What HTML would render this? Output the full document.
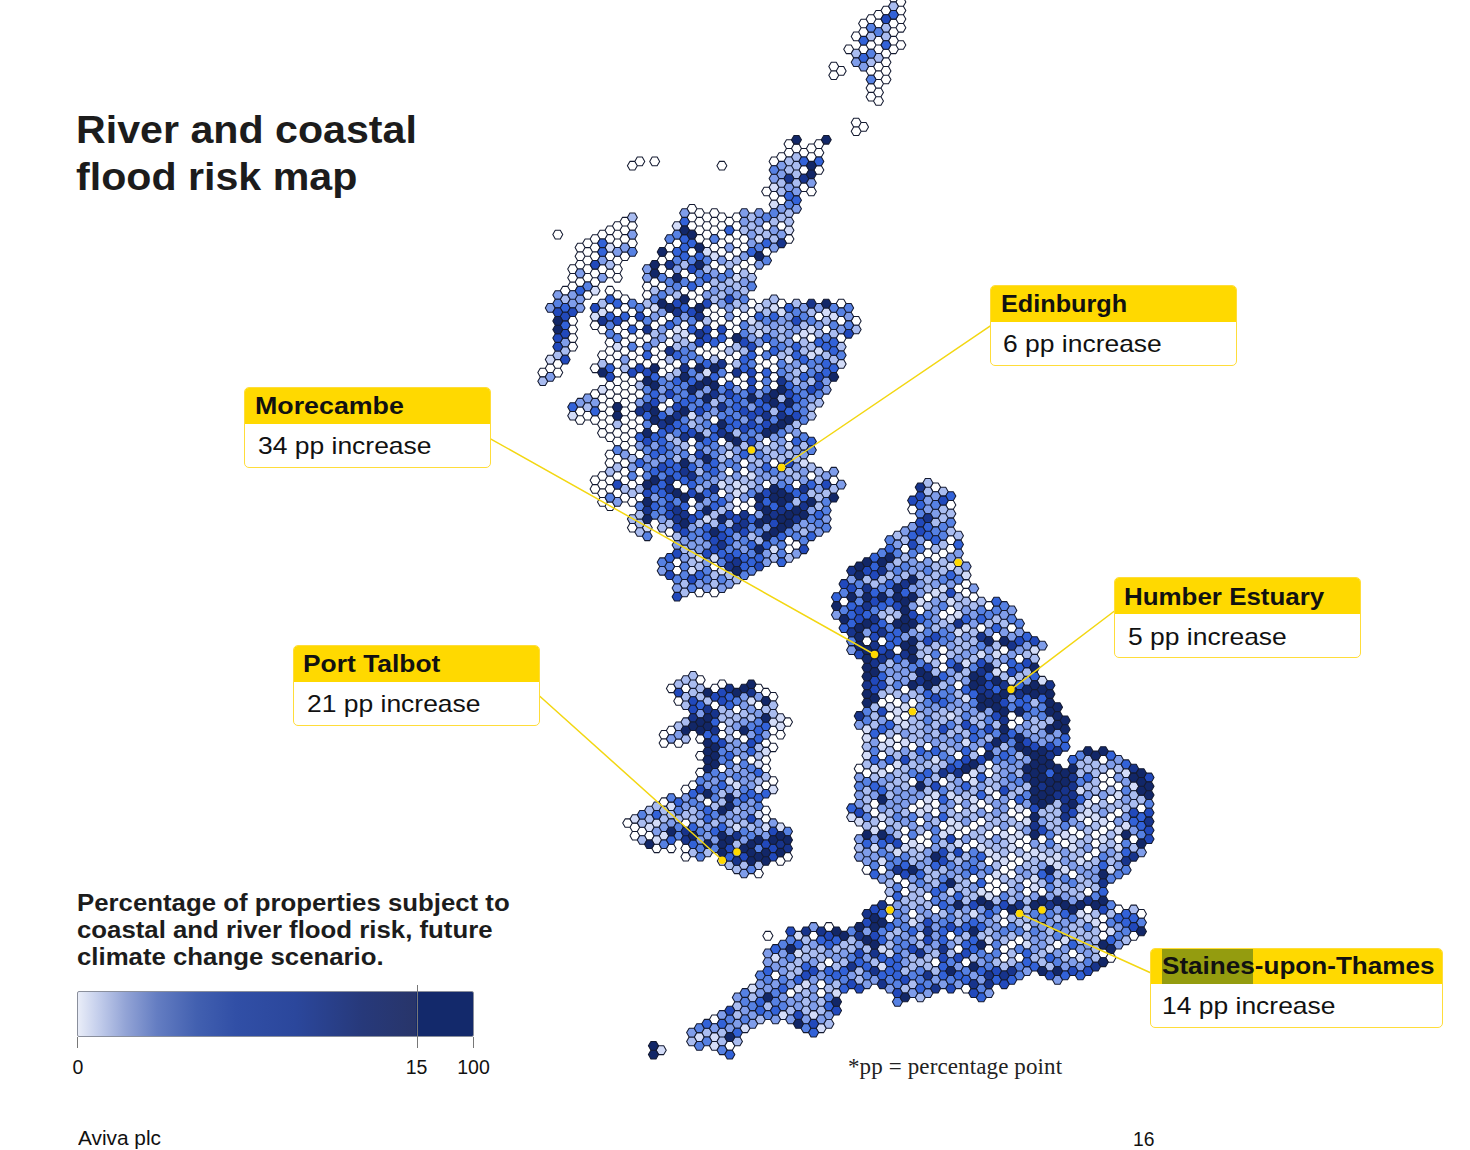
<!DOCTYPE html>
<html><head><meta charset="utf-8"><title>River and coastal flood risk map</title>
<style>
html,body{margin:0;padding:0;background:#fff;}
body{width:1470px;height:1150px;position:relative;overflow:hidden;font-family:"Liberation Sans",sans-serif;color:#1a1a1a;}
.abs{position:absolute;white-space:nowrap;}
#title{left:76.3px;top:105.6px;font-size:39.7px;font-weight:bold;line-height:47.15px;color:#1c1c1c;transform:scaleX(1.037);transform-origin:0 0;}
#legtxt{left:77px;top:889.7px;font-size:23px;font-weight:bold;line-height:27.1px;color:#1c1c1c;transform:scaleX(1.121);transform-origin:0 0;}
.box{position:absolute;box-sizing:border-box;border:1.5px solid #ffdd3a;border-radius:5px;background:#fff;overflow:hidden;}
.box .h{position:absolute;left:0;top:0;right:0;background:#ffd900;font-weight:bold;font-size:24px;color:#111;white-space:nowrap;}
.box .h span{position:absolute;transform-origin:0 0;}
.box .v{position:absolute;font-size:24px;color:#111;white-space:nowrap;transform:scaleX(1.102);transform-origin:0 0;}
.tick{position:absolute;font-size:19.5px;color:#111;transform:translateX(-50%);white-space:nowrap;}
svg{position:absolute;left:0;top:0;}
</style></head><body>
<svg id="map" width="1470" height="1150" viewBox="0 0 1470 1150">
<g stroke="#141a30" stroke-width="1.05" stroke-linejoin="round">
<path fill="#ffffff" d="M709.4 1019.4l2.54 -4.40h5.08l2.54 4.40l-2.54 4.40h-5.08zM724.7 1045.8l2.54 -4.40h5.08l2.54 4.40l-2.54 4.40h-5.08zM762.8 935.8l2.54 -4.40h5.08l2.54 4.40l-2.54 4.40h-5.08zM770.4 975.4l2.54 -4.40h5.08l2.54 4.40l-2.54 4.40h-5.08zM785.6 993.0l2.54 -4.40h5.08l2.54 4.40l-2.54 4.40h-5.08zM808.5 935.8l2.54 -4.40h5.08l2.54 4.40l-2.54 4.40h-5.08zM816.1 984.2l2.54 -4.40h5.08l2.54 4.40l-2.54 4.40h-5.08zM816.1 993.0l2.54 -4.40h5.08l2.54 4.40l-2.54 4.40h-5.08zM823.8 927.0l2.54 -4.40h5.08l2.54 4.40l-2.54 4.40h-5.08zM823.8 962.2l2.54 -4.40h5.08l2.54 4.40l-2.54 4.40h-5.08zM839.0 601.6l2.54 -4.40h5.08l2.54 4.40l-2.54 4.40h-5.08zM854.2 768.7l2.54 -4.40h5.08l2.54 4.40l-2.54 4.40h-5.08zM861.9 641.2l2.54 -4.40h5.08l2.54 4.40l-2.54 4.40h-5.08zM861.9 773.1l2.54 -4.40h5.08l2.54 4.40l-2.54 4.40h-5.08zM861.9 869.9l2.54 -4.40h5.08l2.54 4.40l-2.54 4.40h-5.08zM869.5 803.9l2.54 -4.40h5.08l2.54 4.40l-2.54 4.40h-5.08zM869.5 812.7l2.54 -4.40h5.08l2.54 4.40l-2.54 4.40h-5.08zM877.1 641.2l2.54 -4.40h5.08l2.54 4.40l-2.54 4.40h-5.08zM877.1 702.8l2.54 -4.40h5.08l2.54 4.40l-2.54 4.40h-5.08zM877.1 738.0l2.54 -4.40h5.08l2.54 4.40l-2.54 4.40h-5.08zM877.1 755.5l2.54 -4.40h5.08l2.54 4.40l-2.54 4.40h-5.08zM877.1 825.9l2.54 -4.40h5.08l2.54 4.40l-2.54 4.40h-5.08zM877.1 869.9l2.54 -4.40h5.08l2.54 4.40l-2.54 4.40h-5.08zM884.7 698.4l2.54 -4.40h5.08l2.54 4.40l-2.54 4.40h-5.08zM884.7 716.0l2.54 -4.40h5.08l2.54 4.40l-2.54 4.40h-5.08zM884.7 768.7l2.54 -4.40h5.08l2.54 4.40l-2.54 4.40h-5.08zM884.7 900.7l2.54 -4.40h5.08l2.54 4.40l-2.54 4.40h-5.08zM884.7 918.2l2.54 -4.40h5.08l2.54 4.40l-2.54 4.40h-5.08zM892.4 650.0l2.54 -4.40h5.08l2.54 4.40l-2.54 4.40h-5.08zM892.4 702.8l2.54 -4.40h5.08l2.54 4.40l-2.54 4.40h-5.08zM892.4 738.0l2.54 -4.40h5.08l2.54 4.40l-2.54 4.40h-5.08zM892.4 746.7l2.54 -4.40h5.08l2.54 4.40l-2.54 4.40h-5.08zM892.4 878.7l2.54 -4.40h5.08l2.54 4.40l-2.54 4.40h-5.08zM900.0 548.9l2.54 -4.40h5.08l2.54 4.40l-2.54 4.40h-5.08zM900.0 689.6l2.54 -4.40h5.08l2.54 4.40l-2.54 4.40h-5.08zM900.0 716.0l2.54 -4.40h5.08l2.54 4.40l-2.54 4.40h-5.08zM900.0 830.3l2.54 -4.40h5.08l2.54 4.40l-2.54 4.40h-5.08zM900.0 839.1l2.54 -4.40h5.08l2.54 4.40l-2.54 4.40h-5.08zM900.0 883.1l2.54 -4.40h5.08l2.54 4.40l-2.54 4.40h-5.08zM900.0 891.9l2.54 -4.40h5.08l2.54 4.40l-2.54 4.40h-5.08zM907.6 509.3l2.54 -4.40h5.08l2.54 4.40l-2.54 4.40h-5.08zM907.6 702.8l2.54 -4.40h5.08l2.54 4.40l-2.54 4.40h-5.08zM907.6 711.6l2.54 -4.40h5.08l2.54 4.40l-2.54 4.40h-5.08zM907.6 746.7l2.54 -4.40h5.08l2.54 4.40l-2.54 4.40h-5.08zM907.6 781.9l2.54 -4.40h5.08l2.54 4.40l-2.54 4.40h-5.08zM907.6 808.3l2.54 -4.40h5.08l2.54 4.40l-2.54 4.40h-5.08zM907.6 913.9l2.54 -4.40h5.08l2.54 4.40l-2.54 4.40h-5.08zM915.2 557.7l2.54 -4.40h5.08l2.54 4.40l-2.54 4.40h-5.08zM915.2 610.4l2.54 -4.40h5.08l2.54 4.40l-2.54 4.40h-5.08zM915.2 803.9l2.54 -4.40h5.08l2.54 4.40l-2.54 4.40h-5.08zM915.2 821.5l2.54 -4.40h5.08l2.54 4.40l-2.54 4.40h-5.08zM915.2 839.1l2.54 -4.40h5.08l2.54 4.40l-2.54 4.40h-5.08zM922.8 544.5l2.54 -4.40h5.08l2.54 4.40l-2.54 4.40h-5.08zM922.8 553.3l2.54 -4.40h5.08l2.54 4.40l-2.54 4.40h-5.08zM922.8 597.2l2.54 -4.40h5.08l2.54 4.40l-2.54 4.40h-5.08zM922.8 746.7l2.54 -4.40h5.08l2.54 4.40l-2.54 4.40h-5.08zM922.8 834.7l2.54 -4.40h5.08l2.54 4.40l-2.54 4.40h-5.08zM922.8 843.5l2.54 -4.40h5.08l2.54 4.40l-2.54 4.40h-5.08zM922.8 896.3l2.54 -4.40h5.08l2.54 4.40l-2.54 4.40h-5.08zM930.5 487.3l2.54 -4.40h5.08l2.54 4.40l-2.54 4.40h-5.08zM930.5 557.7l2.54 -4.40h5.08l2.54 4.40l-2.54 4.40h-5.08zM930.5 803.9l2.54 -4.40h5.08l2.54 4.40l-2.54 4.40h-5.08zM930.5 812.7l2.54 -4.40h5.08l2.54 4.40l-2.54 4.40h-5.08zM930.5 909.5l2.54 -4.40h5.08l2.54 4.40l-2.54 4.40h-5.08zM930.5 962.2l2.54 -4.40h5.08l2.54 4.40l-2.54 4.40h-5.08zM938.1 553.3l2.54 -4.40h5.08l2.54 4.40l-2.54 4.40h-5.08zM938.1 614.8l2.54 -4.40h5.08l2.54 4.40l-2.54 4.40h-5.08zM938.1 650.0l2.54 -4.40h5.08l2.54 4.40l-2.54 4.40h-5.08zM938.1 658.8l2.54 -4.40h5.08l2.54 4.40l-2.54 4.40h-5.08zM938.1 667.6l2.54 -4.40h5.08l2.54 4.40l-2.54 4.40h-5.08zM938.1 781.9l2.54 -4.40h5.08l2.54 4.40l-2.54 4.40h-5.08zM938.1 825.9l2.54 -4.40h5.08l2.54 4.40l-2.54 4.40h-5.08zM945.7 504.9l2.54 -4.40h5.08l2.54 4.40l-2.54 4.40h-5.08zM945.7 540.1l2.54 -4.40h5.08l2.54 4.40l-2.54 4.40h-5.08zM945.7 548.9l2.54 -4.40h5.08l2.54 4.40l-2.54 4.40h-5.08zM945.7 610.4l2.54 -4.40h5.08l2.54 4.40l-2.54 4.40h-5.08zM945.7 935.8l2.54 -4.40h5.08l2.54 4.40l-2.54 4.40h-5.08zM953.3 588.4l2.54 -4.40h5.08l2.54 4.40l-2.54 4.40h-5.08zM953.3 685.2l2.54 -4.40h5.08l2.54 4.40l-2.54 4.40h-5.08zM953.3 755.5l2.54 -4.40h5.08l2.54 4.40l-2.54 4.40h-5.08zM953.3 808.3l2.54 -4.40h5.08l2.54 4.40l-2.54 4.40h-5.08zM953.3 834.7l2.54 -4.40h5.08l2.54 4.40l-2.54 4.40h-5.08zM953.3 949.0l2.54 -4.40h5.08l2.54 4.40l-2.54 4.40h-5.08zM961.0 584.0l2.54 -4.40h5.08l2.54 4.40l-2.54 4.40h-5.08zM961.0 592.8l2.54 -4.40h5.08l2.54 4.40l-2.54 4.40h-5.08zM961.0 777.5l2.54 -4.40h5.08l2.54 4.40l-2.54 4.40h-5.08zM961.0 830.3l2.54 -4.40h5.08l2.54 4.40l-2.54 4.40h-5.08zM961.0 847.9l2.54 -4.40h5.08l2.54 4.40l-2.54 4.40h-5.08zM961.0 962.2l2.54 -4.40h5.08l2.54 4.40l-2.54 4.40h-5.08zM961.0 988.6l2.54 -4.40h5.08l2.54 4.40l-2.54 4.40h-5.08zM968.6 597.2l2.54 -4.40h5.08l2.54 4.40l-2.54 4.40h-5.08zM968.6 825.9l2.54 -4.40h5.08l2.54 4.40l-2.54 4.40h-5.08zM968.6 843.5l2.54 -4.40h5.08l2.54 4.40l-2.54 4.40h-5.08zM968.6 878.7l2.54 -4.40h5.08l2.54 4.40l-2.54 4.40h-5.08zM976.2 628.0l2.54 -4.40h5.08l2.54 4.40l-2.54 4.40h-5.08zM976.2 751.1l2.54 -4.40h5.08l2.54 4.40l-2.54 4.40h-5.08zM976.2 803.9l2.54 -4.40h5.08l2.54 4.40l-2.54 4.40h-5.08zM976.2 821.5l2.54 -4.40h5.08l2.54 4.40l-2.54 4.40h-5.08zM983.8 606.0l2.54 -4.40h5.08l2.54 4.40l-2.54 4.40h-5.08zM983.8 764.3l2.54 -4.40h5.08l2.54 4.40l-2.54 4.40h-5.08zM983.8 773.1l2.54 -4.40h5.08l2.54 4.40l-2.54 4.40h-5.08zM983.8 808.3l2.54 -4.40h5.08l2.54 4.40l-2.54 4.40h-5.08zM983.8 834.7l2.54 -4.40h5.08l2.54 4.40l-2.54 4.40h-5.08zM983.8 861.1l2.54 -4.40h5.08l2.54 4.40l-2.54 4.40h-5.08zM983.8 878.7l2.54 -4.40h5.08l2.54 4.40l-2.54 4.40h-5.08zM983.8 887.5l2.54 -4.40h5.08l2.54 4.40l-2.54 4.40h-5.08zM983.8 949.0l2.54 -4.40h5.08l2.54 4.40l-2.54 4.40h-5.08zM991.4 636.8l2.54 -4.40h5.08l2.54 4.40l-2.54 4.40h-5.08zM991.4 795.1l2.54 -4.40h5.08l2.54 4.40l-2.54 4.40h-5.08zM991.4 830.3l2.54 -4.40h5.08l2.54 4.40l-2.54 4.40h-5.08zM991.4 883.1l2.54 -4.40h5.08l2.54 4.40l-2.54 4.40h-5.08zM991.4 891.9l2.54 -4.40h5.08l2.54 4.40l-2.54 4.40h-5.08zM999.1 650.0l2.54 -4.40h5.08l2.54 4.40l-2.54 4.40h-5.08zM999.1 667.6l2.54 -4.40h5.08l2.54 4.40l-2.54 4.40h-5.08zM999.1 869.9l2.54 -4.40h5.08l2.54 4.40l-2.54 4.40h-5.08zM999.1 887.5l2.54 -4.40h5.08l2.54 4.40l-2.54 4.40h-5.08zM999.1 913.9l2.54 -4.40h5.08l2.54 4.40l-2.54 4.40h-5.08zM999.1 922.6l2.54 -4.40h5.08l2.54 4.40l-2.54 4.40h-5.08zM999.1 949.0l2.54 -4.40h5.08l2.54 4.40l-2.54 4.40h-5.08zM999.1 957.8l2.54 -4.40h5.08l2.54 4.40l-2.54 4.40h-5.08zM1006.7 628.0l2.54 -4.40h5.08l2.54 4.40l-2.54 4.40h-5.08zM1006.7 716.0l2.54 -4.40h5.08l2.54 4.40l-2.54 4.40h-5.08zM1006.7 724.8l2.54 -4.40h5.08l2.54 4.40l-2.54 4.40h-5.08zM1006.7 803.9l2.54 -4.40h5.08l2.54 4.40l-2.54 4.40h-5.08zM1006.7 812.7l2.54 -4.40h5.08l2.54 4.40l-2.54 4.40h-5.08zM1006.7 830.3l2.54 -4.40h5.08l2.54 4.40l-2.54 4.40h-5.08zM1006.7 856.7l2.54 -4.40h5.08l2.54 4.40l-2.54 4.40h-5.08zM1006.7 865.5l2.54 -4.40h5.08l2.54 4.40l-2.54 4.40h-5.08zM1006.7 874.3l2.54 -4.40h5.08l2.54 4.40l-2.54 4.40h-5.08zM1006.7 944.6l2.54 -4.40h5.08l2.54 4.40l-2.54 4.40h-5.08zM1014.3 658.8l2.54 -4.40h5.08l2.54 4.40l-2.54 4.40h-5.08zM1014.3 720.4l2.54 -4.40h5.08l2.54 4.40l-2.54 4.40h-5.08zM1014.3 817.1l2.54 -4.40h5.08l2.54 4.40l-2.54 4.40h-5.08zM1014.3 843.5l2.54 -4.40h5.08l2.54 4.40l-2.54 4.40h-5.08zM1014.3 861.1l2.54 -4.40h5.08l2.54 4.40l-2.54 4.40h-5.08zM1014.3 940.2l2.54 -4.40h5.08l2.54 4.40l-2.54 4.40h-5.08zM1014.3 957.8l2.54 -4.40h5.08l2.54 4.40l-2.54 4.40h-5.08zM1021.9 812.7l2.54 -4.40h5.08l2.54 4.40l-2.54 4.40h-5.08zM1021.9 839.1l2.54 -4.40h5.08l2.54 4.40l-2.54 4.40h-5.08zM1021.9 847.9l2.54 -4.40h5.08l2.54 4.40l-2.54 4.40h-5.08zM1021.9 883.1l2.54 -4.40h5.08l2.54 4.40l-2.54 4.40h-5.08zM1021.9 891.9l2.54 -4.40h5.08l2.54 4.40l-2.54 4.40h-5.08zM1037.2 839.1l2.54 -4.40h5.08l2.54 4.40l-2.54 4.40h-5.08zM1037.2 891.9l2.54 -4.40h5.08l2.54 4.40l-2.54 4.40h-5.08zM1052.4 839.1l2.54 -4.40h5.08l2.54 4.40l-2.54 4.40h-5.08zM1052.4 944.6l2.54 -4.40h5.08l2.54 4.40l-2.54 4.40h-5.08zM1060.0 843.5l2.54 -4.40h5.08l2.54 4.40l-2.54 4.40h-5.08zM1067.7 830.3l2.54 -4.40h5.08l2.54 4.40l-2.54 4.40h-5.08zM1067.7 874.3l2.54 -4.40h5.08l2.54 4.40l-2.54 4.40h-5.08zM1067.7 953.4l2.54 -4.40h5.08l2.54 4.40l-2.54 4.40h-5.08zM1075.3 834.7l2.54 -4.40h5.08l2.54 4.40l-2.54 4.40h-5.08zM1082.9 821.5l2.54 -4.40h5.08l2.54 4.40l-2.54 4.40h-5.08zM1082.9 856.7l2.54 -4.40h5.08l2.54 4.40l-2.54 4.40h-5.08zM1082.9 891.9l2.54 -4.40h5.08l2.54 4.40l-2.54 4.40h-5.08zM1082.9 909.5l2.54 -4.40h5.08l2.54 4.40l-2.54 4.40h-5.08zM1090.5 799.5l2.54 -4.40h5.08l2.54 4.40l-2.54 4.40h-5.08zM1090.5 834.7l2.54 -4.40h5.08l2.54 4.40l-2.54 4.40h-5.08zM1090.5 843.5l2.54 -4.40h5.08l2.54 4.40l-2.54 4.40h-5.08zM1090.5 852.3l2.54 -4.40h5.08l2.54 4.40l-2.54 4.40h-5.08zM1098.1 759.9l2.54 -4.40h5.08l2.54 4.40l-2.54 4.40h-5.08zM1098.1 777.5l2.54 -4.40h5.08l2.54 4.40l-2.54 4.40h-5.08zM1098.1 786.3l2.54 -4.40h5.08l2.54 4.40l-2.54 4.40h-5.08zM1098.1 830.3l2.54 -4.40h5.08l2.54 4.40l-2.54 4.40h-5.08zM1098.1 918.2l2.54 -4.40h5.08l2.54 4.40l-2.54 4.40h-5.08zM1098.1 927.0l2.54 -4.40h5.08l2.54 4.40l-2.54 4.40h-5.08zM1098.1 935.8l2.54 -4.40h5.08l2.54 4.40l-2.54 4.40h-5.08zM1098.1 953.4l2.54 -4.40h5.08l2.54 4.40l-2.54 4.40h-5.08zM1105.8 773.1l2.54 -4.40h5.08l2.54 4.40l-2.54 4.40h-5.08zM1105.8 781.9l2.54 -4.40h5.08l2.54 4.40l-2.54 4.40h-5.08zM1105.8 799.5l2.54 -4.40h5.08l2.54 4.40l-2.54 4.40h-5.08zM1105.8 817.1l2.54 -4.40h5.08l2.54 4.40l-2.54 4.40h-5.08zM1105.8 825.9l2.54 -4.40h5.08l2.54 4.40l-2.54 4.40h-5.08zM1105.8 957.8l2.54 -4.40h5.08l2.54 4.40l-2.54 4.40h-5.08zM1113.4 786.3l2.54 -4.40h5.08l2.54 4.40l-2.54 4.40h-5.08zM1113.4 812.7l2.54 -4.40h5.08l2.54 4.40l-2.54 4.40h-5.08zM1113.4 839.1l2.54 -4.40h5.08l2.54 4.40l-2.54 4.40h-5.08zM1113.4 909.5l2.54 -4.40h5.08l2.54 4.40l-2.54 4.40h-5.08zM1128.6 839.1l2.54 -4.40h5.08l2.54 4.40l-2.54 4.40h-5.08zM1128.6 935.8l2.54 -4.40h5.08l2.54 4.40l-2.54 4.40h-5.08zM1136.3 808.3l2.54 -4.40h5.08l2.54 4.40l-2.54 4.40h-5.08zM1136.3 913.9l2.54 -4.40h5.08l2.54 4.40l-2.54 4.40h-5.08zM537.8 372.6l2.49 -4.31h4.97l2.49 4.31l-2.49 4.31h-4.97zM545.3 368.3l2.49 -4.31h4.97l2.49 4.31l-2.49 4.31h-4.97zM552.8 234.6l2.49 -4.31h4.97l2.49 4.31l-2.49 4.31h-4.97zM552.8 363.9l2.49 -4.31h4.97l2.49 4.31l-2.49 4.31h-4.97zM552.8 372.6l2.49 -4.31h4.97l2.49 4.31l-2.49 4.31h-4.97zM560.2 290.7l2.49 -4.31h4.97l2.49 4.31l-2.49 4.31h-4.97zM567.7 269.1l2.49 -4.31h4.97l2.49 4.31l-2.49 4.31h-4.97zM567.7 277.8l2.49 -4.31h4.97l2.49 4.31l-2.49 4.31h-4.97zM567.7 286.4l2.49 -4.31h4.97l2.49 4.31l-2.49 4.31h-4.97zM567.7 320.9l2.49 -4.31h4.97l2.49 4.31l-2.49 4.31h-4.97zM567.7 329.5l2.49 -4.31h4.97l2.49 4.31l-2.49 4.31h-4.97zM567.7 338.1l2.49 -4.31h4.97l2.49 4.31l-2.49 4.31h-4.97zM567.7 346.7l2.49 -4.31h4.97l2.49 4.31l-2.49 4.31h-4.97zM575.1 247.6l2.49 -4.31h4.97l2.49 4.31l-2.49 4.31h-4.97zM575.1 256.2l2.49 -4.31h4.97l2.49 4.31l-2.49 4.31h-4.97zM575.1 264.8l2.49 -4.31h4.97l2.49 4.31l-2.49 4.31h-4.97zM575.1 282.1l2.49 -4.31h4.97l2.49 4.31l-2.49 4.31h-4.97zM575.1 411.4l2.49 -4.31h4.97l2.49 4.31l-2.49 4.31h-4.97zM575.1 420.0l2.49 -4.31h4.97l2.49 4.31l-2.49 4.31h-4.97zM582.6 243.3l2.49 -4.31h4.97l2.49 4.31l-2.49 4.31h-4.97zM582.6 251.9l2.49 -4.31h4.97l2.49 4.31l-2.49 4.31h-4.97zM582.6 260.5l2.49 -4.31h4.97l2.49 4.31l-2.49 4.31h-4.97zM582.6 269.1l2.49 -4.31h4.97l2.49 4.31l-2.49 4.31h-4.97zM582.6 277.8l2.49 -4.31h4.97l2.49 4.31l-2.49 4.31h-4.97zM582.6 295.0l2.49 -4.31h4.97l2.49 4.31l-2.49 4.31h-4.97zM582.6 415.7l2.49 -4.31h4.97l2.49 4.31l-2.49 4.31h-4.97zM590.1 239.0l2.49 -4.31h4.97l2.49 4.31l-2.49 4.31h-4.97zM590.1 247.6l2.49 -4.31h4.97l2.49 4.31l-2.49 4.31h-4.97zM590.1 256.2l2.49 -4.31h4.97l2.49 4.31l-2.49 4.31h-4.97zM590.1 273.4l2.49 -4.31h4.97l2.49 4.31l-2.49 4.31h-4.97zM590.1 282.1l2.49 -4.31h4.97l2.49 4.31l-2.49 4.31h-4.97zM590.1 325.2l2.49 -4.31h4.97l2.49 4.31l-2.49 4.31h-4.97zM590.1 368.3l2.49 -4.31h4.97l2.49 4.31l-2.49 4.31h-4.97zM590.1 394.1l2.49 -4.31h4.97l2.49 4.31l-2.49 4.31h-4.97zM590.1 420.0l2.49 -4.31h4.97l2.49 4.31l-2.49 4.31h-4.97zM590.1 480.3l2.49 -4.31h4.97l2.49 4.31l-2.49 4.31h-4.97zM590.1 488.9l2.49 -4.31h4.97l2.49 4.31l-2.49 4.31h-4.97zM597.5 234.6l2.49 -4.31h4.97l2.49 4.31l-2.49 4.31h-4.97zM597.5 269.1l2.49 -4.31h4.97l2.49 4.31l-2.49 4.31h-4.97zM597.5 329.5l2.49 -4.31h4.97l2.49 4.31l-2.49 4.31h-4.97zM597.5 355.3l2.49 -4.31h4.97l2.49 4.31l-2.49 4.31h-4.97zM597.5 398.4l2.49 -4.31h4.97l2.49 4.31l-2.49 4.31h-4.97zM597.5 407.1l2.49 -4.31h4.97l2.49 4.31l-2.49 4.31h-4.97zM597.5 415.7l2.49 -4.31h4.97l2.49 4.31l-2.49 4.31h-4.97zM597.5 424.3l2.49 -4.31h4.97l2.49 4.31l-2.49 4.31h-4.97zM597.5 432.9l2.49 -4.31h4.97l2.49 4.31l-2.49 4.31h-4.97zM597.5 476.0l2.49 -4.31h4.97l2.49 4.31l-2.49 4.31h-4.97zM597.5 484.6l2.49 -4.31h4.97l2.49 4.31l-2.49 4.31h-4.97zM597.5 493.2l2.49 -4.31h4.97l2.49 4.31l-2.49 4.31h-4.97zM597.5 501.9l2.49 -4.31h4.97l2.49 4.31l-2.49 4.31h-4.97zM605.0 230.3l2.49 -4.31h4.97l2.49 4.31l-2.49 4.31h-4.97zM605.0 239.0l2.49 -4.31h4.97l2.49 4.31l-2.49 4.31h-4.97zM605.0 256.2l2.49 -4.31h4.97l2.49 4.31l-2.49 4.31h-4.97zM605.0 273.4l2.49 -4.31h4.97l2.49 4.31l-2.49 4.31h-4.97zM605.0 290.7l2.49 -4.31h4.97l2.49 4.31l-2.49 4.31h-4.97zM605.0 307.9l2.49 -4.31h4.97l2.49 4.31l-2.49 4.31h-4.97zM605.0 342.4l2.49 -4.31h4.97l2.49 4.31l-2.49 4.31h-4.97zM605.0 351.0l2.49 -4.31h4.97l2.49 4.31l-2.49 4.31h-4.97zM605.0 359.6l2.49 -4.31h4.97l2.49 4.31l-2.49 4.31h-4.97zM605.0 385.5l2.49 -4.31h4.97l2.49 4.31l-2.49 4.31h-4.97zM605.0 394.1l2.49 -4.31h4.97l2.49 4.31l-2.49 4.31h-4.97zM605.0 402.7l2.49 -4.31h4.97l2.49 4.31l-2.49 4.31h-4.97zM605.0 411.4l2.49 -4.31h4.97l2.49 4.31l-2.49 4.31h-4.97zM605.0 420.0l2.49 -4.31h4.97l2.49 4.31l-2.49 4.31h-4.97zM605.0 428.6l2.49 -4.31h4.97l2.49 4.31l-2.49 4.31h-4.97zM605.0 437.2l2.49 -4.31h4.97l2.49 4.31l-2.49 4.31h-4.97zM605.0 454.5l2.49 -4.31h4.97l2.49 4.31l-2.49 4.31h-4.97zM605.0 463.1l2.49 -4.31h4.97l2.49 4.31l-2.49 4.31h-4.97zM605.0 480.3l2.49 -4.31h4.97l2.49 4.31l-2.49 4.31h-4.97zM605.0 488.9l2.49 -4.31h4.97l2.49 4.31l-2.49 4.31h-4.97zM605.0 506.2l2.49 -4.31h4.97l2.49 4.31l-2.49 4.31h-4.97zM612.4 226.0l2.49 -4.31h4.97l2.49 4.31l-2.49 4.31h-4.97zM612.4 234.6l2.49 -4.31h4.97l2.49 4.31l-2.49 4.31h-4.97zM612.4 243.3l2.49 -4.31h4.97l2.49 4.31l-2.49 4.31h-4.97zM612.4 260.5l2.49 -4.31h4.97l2.49 4.31l-2.49 4.31h-4.97zM612.4 269.1l2.49 -4.31h4.97l2.49 4.31l-2.49 4.31h-4.97zM612.4 277.8l2.49 -4.31h4.97l2.49 4.31l-2.49 4.31h-4.97zM612.4 295.0l2.49 -4.31h4.97l2.49 4.31l-2.49 4.31h-4.97zM612.4 312.2l2.49 -4.31h4.97l2.49 4.31l-2.49 4.31h-4.97zM612.4 329.5l2.49 -4.31h4.97l2.49 4.31l-2.49 4.31h-4.97zM612.4 355.3l2.49 -4.31h4.97l2.49 4.31l-2.49 4.31h-4.97zM612.4 363.9l2.49 -4.31h4.97l2.49 4.31l-2.49 4.31h-4.97zM612.4 372.6l2.49 -4.31h4.97l2.49 4.31l-2.49 4.31h-4.97zM612.4 381.2l2.49 -4.31h4.97l2.49 4.31l-2.49 4.31h-4.97zM612.4 389.8l2.49 -4.31h4.97l2.49 4.31l-2.49 4.31h-4.97zM612.4 398.4l2.49 -4.31h4.97l2.49 4.31l-2.49 4.31h-4.97zM612.4 432.9l2.49 -4.31h4.97l2.49 4.31l-2.49 4.31h-4.97zM612.4 441.5l2.49 -4.31h4.97l2.49 4.31l-2.49 4.31h-4.97zM612.4 458.8l2.49 -4.31h4.97l2.49 4.31l-2.49 4.31h-4.97zM612.4 476.0l2.49 -4.31h4.97l2.49 4.31l-2.49 4.31h-4.97zM612.4 493.2l2.49 -4.31h4.97l2.49 4.31l-2.49 4.31h-4.97zM619.9 221.7l2.49 -4.31h4.97l2.49 4.31l-2.49 4.31h-4.97zM619.9 230.3l2.49 -4.31h4.97l2.49 4.31l-2.49 4.31h-4.97zM619.9 239.0l2.49 -4.31h4.97l2.49 4.31l-2.49 4.31h-4.97zM619.9 256.2l2.49 -4.31h4.97l2.49 4.31l-2.49 4.31h-4.97zM619.9 299.3l2.49 -4.31h4.97l2.49 4.31l-2.49 4.31h-4.97zM619.9 307.9l2.49 -4.31h4.97l2.49 4.31l-2.49 4.31h-4.97zM619.9 325.2l2.49 -4.31h4.97l2.49 4.31l-2.49 4.31h-4.97zM619.9 333.8l2.49 -4.31h4.97l2.49 4.31l-2.49 4.31h-4.97zM619.9 342.4l2.49 -4.31h4.97l2.49 4.31l-2.49 4.31h-4.97zM619.9 351.0l2.49 -4.31h4.97l2.49 4.31l-2.49 4.31h-4.97zM619.9 376.9l2.49 -4.31h4.97l2.49 4.31l-2.49 4.31h-4.97zM619.9 385.5l2.49 -4.31h4.97l2.49 4.31l-2.49 4.31h-4.97zM619.9 394.1l2.49 -4.31h4.97l2.49 4.31l-2.49 4.31h-4.97zM619.9 402.7l2.49 -4.31h4.97l2.49 4.31l-2.49 4.31h-4.97zM619.9 411.4l2.49 -4.31h4.97l2.49 4.31l-2.49 4.31h-4.97zM619.9 420.0l2.49 -4.31h4.97l2.49 4.31l-2.49 4.31h-4.97zM619.9 428.6l2.49 -4.31h4.97l2.49 4.31l-2.49 4.31h-4.97zM619.9 437.2l2.49 -4.31h4.97l2.49 4.31l-2.49 4.31h-4.97zM619.9 445.8l2.49 -4.31h4.97l2.49 4.31l-2.49 4.31h-4.97zM619.9 463.1l2.49 -4.31h4.97l2.49 4.31l-2.49 4.31h-4.97zM619.9 471.7l2.49 -4.31h4.97l2.49 4.31l-2.49 4.31h-4.97zM619.9 480.3l2.49 -4.31h4.97l2.49 4.31l-2.49 4.31h-4.97zM619.9 497.6l2.49 -4.31h4.97l2.49 4.31l-2.49 4.31h-4.97zM627.4 165.7l2.49 -4.31h4.97l2.49 4.31l-2.49 4.31h-4.97zM627.4 226.0l2.49 -4.31h4.97l2.49 4.31l-2.49 4.31h-4.97zM627.4 243.3l2.49 -4.31h4.97l2.49 4.31l-2.49 4.31h-4.97zM627.4 312.2l2.49 -4.31h4.97l2.49 4.31l-2.49 4.31h-4.97zM627.4 320.9l2.49 -4.31h4.97l2.49 4.31l-2.49 4.31h-4.97zM627.4 338.1l2.49 -4.31h4.97l2.49 4.31l-2.49 4.31h-4.97zM627.4 355.3l2.49 -4.31h4.97l2.49 4.31l-2.49 4.31h-4.97zM627.4 363.9l2.49 -4.31h4.97l2.49 4.31l-2.49 4.31h-4.97zM627.4 381.2l2.49 -4.31h4.97l2.49 4.31l-2.49 4.31h-4.97zM627.4 389.8l2.49 -4.31h4.97l2.49 4.31l-2.49 4.31h-4.97zM627.4 398.4l2.49 -4.31h4.97l2.49 4.31l-2.49 4.31h-4.97zM627.4 407.1l2.49 -4.31h4.97l2.49 4.31l-2.49 4.31h-4.97zM627.4 415.7l2.49 -4.31h4.97l2.49 4.31l-2.49 4.31h-4.97zM627.4 424.3l2.49 -4.31h4.97l2.49 4.31l-2.49 4.31h-4.97zM627.4 432.9l2.49 -4.31h4.97l2.49 4.31l-2.49 4.31h-4.97zM627.4 441.5l2.49 -4.31h4.97l2.49 4.31l-2.49 4.31h-4.97zM627.4 450.1l2.49 -4.31h4.97l2.49 4.31l-2.49 4.31h-4.97zM627.4 484.6l2.49 -4.31h4.97l2.49 4.31l-2.49 4.31h-4.97zM627.4 501.9l2.49 -4.31h4.97l2.49 4.31l-2.49 4.31h-4.97zM627.4 527.7l2.49 -4.31h4.97l2.49 4.31l-2.49 4.31h-4.97zM634.8 161.4l2.49 -4.31h4.97l2.49 4.31l-2.49 4.31h-4.97zM634.8 325.2l2.49 -4.31h4.97l2.49 4.31l-2.49 4.31h-4.97zM634.8 333.8l2.49 -4.31h4.97l2.49 4.31l-2.49 4.31h-4.97zM634.8 342.4l2.49 -4.31h4.97l2.49 4.31l-2.49 4.31h-4.97zM634.8 351.0l2.49 -4.31h4.97l2.49 4.31l-2.49 4.31h-4.97zM634.8 359.6l2.49 -4.31h4.97l2.49 4.31l-2.49 4.31h-4.97zM634.8 376.9l2.49 -4.31h4.97l2.49 4.31l-2.49 4.31h-4.97zM634.8 394.1l2.49 -4.31h4.97l2.49 4.31l-2.49 4.31h-4.97zM634.8 420.0l2.49 -4.31h4.97l2.49 4.31l-2.49 4.31h-4.97zM634.8 428.6l2.49 -4.31h4.97l2.49 4.31l-2.49 4.31h-4.97zM634.8 454.5l2.49 -4.31h4.97l2.49 4.31l-2.49 4.31h-4.97zM634.8 471.7l2.49 -4.31h4.97l2.49 4.31l-2.49 4.31h-4.97zM634.8 480.3l2.49 -4.31h4.97l2.49 4.31l-2.49 4.31h-4.97zM634.8 497.6l2.49 -4.31h4.97l2.49 4.31l-2.49 4.31h-4.97zM642.3 286.4l2.49 -4.31h4.97l2.49 4.31l-2.49 4.31h-4.97zM642.3 295.0l2.49 -4.31h4.97l2.49 4.31l-2.49 4.31h-4.97zM642.3 312.2l2.49 -4.31h4.97l2.49 4.31l-2.49 4.31h-4.97zM642.3 338.1l2.49 -4.31h4.97l2.49 4.31l-2.49 4.31h-4.97zM642.3 363.9l2.49 -4.31h4.97l2.49 4.31l-2.49 4.31h-4.97zM649.7 161.4l2.49 -4.31h4.97l2.49 4.31l-2.49 4.31h-4.97zM649.7 282.1l2.49 -4.31h4.97l2.49 4.31l-2.49 4.31h-4.97zM649.7 325.2l2.49 -4.31h4.97l2.49 4.31l-2.49 4.31h-4.97zM649.7 351.0l2.49 -4.31h4.97l2.49 4.31l-2.49 4.31h-4.97zM649.7 359.6l2.49 -4.31h4.97l2.49 4.31l-2.49 4.31h-4.97zM649.7 428.6l2.49 -4.31h4.97l2.49 4.31l-2.49 4.31h-4.97zM657.2 260.5l2.49 -4.31h4.97l2.49 4.31l-2.49 4.31h-4.97zM657.2 269.1l2.49 -4.31h4.97l2.49 4.31l-2.49 4.31h-4.97zM657.2 286.4l2.49 -4.31h4.97l2.49 4.31l-2.49 4.31h-4.97zM657.2 320.9l2.49 -4.31h4.97l2.49 4.31l-2.49 4.31h-4.97zM657.2 346.7l2.49 -4.31h4.97l2.49 4.31l-2.49 4.31h-4.97zM657.2 355.3l2.49 -4.31h4.97l2.49 4.31l-2.49 4.31h-4.97zM657.2 363.9l2.49 -4.31h4.97l2.49 4.31l-2.49 4.31h-4.97zM657.2 372.6l2.49 -4.31h4.97l2.49 4.31l-2.49 4.31h-4.97zM657.2 407.1l2.49 -4.31h4.97l2.49 4.31l-2.49 4.31h-4.97zM664.7 247.6l2.49 -4.31h4.97l2.49 4.31l-2.49 4.31h-4.97zM664.7 256.2l2.49 -4.31h4.97l2.49 4.31l-2.49 4.31h-4.97zM664.7 273.4l2.49 -4.31h4.97l2.49 4.31l-2.49 4.31h-4.97zM664.7 299.3l2.49 -4.31h4.97l2.49 4.31l-2.49 4.31h-4.97zM664.7 316.5l2.49 -4.31h4.97l2.49 4.31l-2.49 4.31h-4.97zM664.7 333.8l2.49 -4.31h4.97l2.49 4.31l-2.49 4.31h-4.97zM664.7 342.4l2.49 -4.31h4.97l2.49 4.31l-2.49 4.31h-4.97zM664.7 368.3l2.49 -4.31h4.97l2.49 4.31l-2.49 4.31h-4.97zM664.7 402.7l2.49 -4.31h4.97l2.49 4.31l-2.49 4.31h-4.97zM664.7 532.0l2.49 -4.31h4.97l2.49 4.31l-2.49 4.31h-4.97zM672.1 243.3l2.49 -4.31h4.97l2.49 4.31l-2.49 4.31h-4.97zM672.1 363.9l2.49 -4.31h4.97l2.49 4.31l-2.49 4.31h-4.97zM672.1 484.6l2.49 -4.31h4.97l2.49 4.31l-2.49 4.31h-4.97zM672.1 562.2l2.49 -4.31h4.97l2.49 4.31l-2.49 4.31h-4.97zM672.1 570.8l2.49 -4.31h4.97l2.49 4.31l-2.49 4.31h-4.97zM679.6 273.4l2.49 -4.31h4.97l2.49 4.31l-2.49 4.31h-4.97zM679.6 290.7l2.49 -4.31h4.97l2.49 4.31l-2.49 4.31h-4.97zM679.6 325.2l2.49 -4.31h4.97l2.49 4.31l-2.49 4.31h-4.97zM679.6 488.9l2.49 -4.31h4.97l2.49 4.31l-2.49 4.31h-4.97zM687.0 208.8l2.49 -4.31h4.97l2.49 4.31l-2.49 4.31h-4.97zM687.0 217.4l2.49 -4.31h4.97l2.49 4.31l-2.49 4.31h-4.97zM687.0 226.0l2.49 -4.31h4.97l2.49 4.31l-2.49 4.31h-4.97zM687.0 251.9l2.49 -4.31h4.97l2.49 4.31l-2.49 4.31h-4.97zM687.0 277.8l2.49 -4.31h4.97l2.49 4.31l-2.49 4.31h-4.97zM687.0 295.0l2.49 -4.31h4.97l2.49 4.31l-2.49 4.31h-4.97zM687.0 303.6l2.49 -4.31h4.97l2.49 4.31l-2.49 4.31h-4.97zM687.0 338.1l2.49 -4.31h4.97l2.49 4.31l-2.49 4.31h-4.97zM687.0 363.9l2.49 -4.31h4.97l2.49 4.31l-2.49 4.31h-4.97zM687.0 441.5l2.49 -4.31h4.97l2.49 4.31l-2.49 4.31h-4.97zM687.0 450.1l2.49 -4.31h4.97l2.49 4.31l-2.49 4.31h-4.97zM687.0 501.9l2.49 -4.31h4.97l2.49 4.31l-2.49 4.31h-4.97zM687.0 510.5l2.49 -4.31h4.97l2.49 4.31l-2.49 4.31h-4.97zM694.5 213.1l2.49 -4.31h4.97l2.49 4.31l-2.49 4.31h-4.97zM694.5 221.7l2.49 -4.31h4.97l2.49 4.31l-2.49 4.31h-4.97zM694.5 230.3l2.49 -4.31h4.97l2.49 4.31l-2.49 4.31h-4.97zM694.5 239.0l2.49 -4.31h4.97l2.49 4.31l-2.49 4.31h-4.97zM694.5 290.7l2.49 -4.31h4.97l2.49 4.31l-2.49 4.31h-4.97zM694.5 299.3l2.49 -4.31h4.97l2.49 4.31l-2.49 4.31h-4.97zM694.5 325.2l2.49 -4.31h4.97l2.49 4.31l-2.49 4.31h-4.97zM694.5 351.0l2.49 -4.31h4.97l2.49 4.31l-2.49 4.31h-4.97zM694.5 592.4l2.49 -4.31h4.97l2.49 4.31l-2.49 4.31h-4.97zM702.0 217.4l2.49 -4.31h4.97l2.49 4.31l-2.49 4.31h-4.97zM702.0 226.0l2.49 -4.31h4.97l2.49 4.31l-2.49 4.31h-4.97zM702.0 234.6l2.49 -4.31h4.97l2.49 4.31l-2.49 4.31h-4.97zM702.0 243.3l2.49 -4.31h4.97l2.49 4.31l-2.49 4.31h-4.97zM702.0 286.4l2.49 -4.31h4.97l2.49 4.31l-2.49 4.31h-4.97zM702.0 312.2l2.49 -4.31h4.97l2.49 4.31l-2.49 4.31h-4.97zM702.0 346.7l2.49 -4.31h4.97l2.49 4.31l-2.49 4.31h-4.97zM702.0 355.3l2.49 -4.31h4.97l2.49 4.31l-2.49 4.31h-4.97zM709.4 213.1l2.49 -4.31h4.97l2.49 4.31l-2.49 4.31h-4.97zM709.4 221.7l2.49 -4.31h4.97l2.49 4.31l-2.49 4.31h-4.97zM709.4 230.3l2.49 -4.31h4.97l2.49 4.31l-2.49 4.31h-4.97zM709.4 247.6l2.49 -4.31h4.97l2.49 4.31l-2.49 4.31h-4.97zM709.4 264.8l2.49 -4.31h4.97l2.49 4.31l-2.49 4.31h-4.97zM709.4 307.9l2.49 -4.31h4.97l2.49 4.31l-2.49 4.31h-4.97zM709.4 316.5l2.49 -4.31h4.97l2.49 4.31l-2.49 4.31h-4.97zM709.4 325.2l2.49 -4.31h4.97l2.49 4.31l-2.49 4.31h-4.97zM709.4 333.8l2.49 -4.31h4.97l2.49 4.31l-2.49 4.31h-4.97zM709.4 351.0l2.49 -4.31h4.97l2.49 4.31l-2.49 4.31h-4.97zM709.4 420.0l2.49 -4.31h4.97l2.49 4.31l-2.49 4.31h-4.97zM709.4 566.5l2.49 -4.31h4.97l2.49 4.31l-2.49 4.31h-4.97zM709.4 592.4l2.49 -4.31h4.97l2.49 4.31l-2.49 4.31h-4.97zM716.9 165.7l2.49 -4.31h4.97l2.49 4.31l-2.49 4.31h-4.97zM716.9 217.4l2.49 -4.31h4.97l2.49 4.31l-2.49 4.31h-4.97zM716.9 226.0l2.49 -4.31h4.97l2.49 4.31l-2.49 4.31h-4.97zM716.9 234.6l2.49 -4.31h4.97l2.49 4.31l-2.49 4.31h-4.97zM716.9 243.3l2.49 -4.31h4.97l2.49 4.31l-2.49 4.31h-4.97zM716.9 251.9l2.49 -4.31h4.97l2.49 4.31l-2.49 4.31h-4.97zM716.9 269.1l2.49 -4.31h4.97l2.49 4.31l-2.49 4.31h-4.97zM716.9 312.2l2.49 -4.31h4.97l2.49 4.31l-2.49 4.31h-4.97zM716.9 320.9l2.49 -4.31h4.97l2.49 4.31l-2.49 4.31h-4.97zM716.9 346.7l2.49 -4.31h4.97l2.49 4.31l-2.49 4.31h-4.97zM716.9 355.3l2.49 -4.31h4.97l2.49 4.31l-2.49 4.31h-4.97zM716.9 381.2l2.49 -4.31h4.97l2.49 4.31l-2.49 4.31h-4.97zM716.9 441.5l2.49 -4.31h4.97l2.49 4.31l-2.49 4.31h-4.97zM716.9 493.2l2.49 -4.31h4.97l2.49 4.31l-2.49 4.31h-4.97zM724.3 221.7l2.49 -4.31h4.97l2.49 4.31l-2.49 4.31h-4.97zM724.3 239.0l2.49 -4.31h4.97l2.49 4.31l-2.49 4.31h-4.97zM724.3 256.2l2.49 -4.31h4.97l2.49 4.31l-2.49 4.31h-4.97zM724.3 325.2l2.49 -4.31h4.97l2.49 4.31l-2.49 4.31h-4.97zM724.3 333.8l2.49 -4.31h4.97l2.49 4.31l-2.49 4.31h-4.97zM724.3 342.4l2.49 -4.31h4.97l2.49 4.31l-2.49 4.31h-4.97zM724.3 359.6l2.49 -4.31h4.97l2.49 4.31l-2.49 4.31h-4.97zM724.3 368.3l2.49 -4.31h4.97l2.49 4.31l-2.49 4.31h-4.97zM724.3 376.9l2.49 -4.31h4.97l2.49 4.31l-2.49 4.31h-4.97zM724.3 471.7l2.49 -4.31h4.97l2.49 4.31l-2.49 4.31h-4.97zM731.8 217.4l2.49 -4.31h4.97l2.49 4.31l-2.49 4.31h-4.97zM731.8 226.0l2.49 -4.31h4.97l2.49 4.31l-2.49 4.31h-4.97zM731.8 234.6l2.49 -4.31h4.97l2.49 4.31l-2.49 4.31h-4.97zM731.8 243.3l2.49 -4.31h4.97l2.49 4.31l-2.49 4.31h-4.97zM731.8 251.9l2.49 -4.31h4.97l2.49 4.31l-2.49 4.31h-4.97zM731.8 269.1l2.49 -4.31h4.97l2.49 4.31l-2.49 4.31h-4.97zM731.8 312.2l2.49 -4.31h4.97l2.49 4.31l-2.49 4.31h-4.97zM731.8 320.9l2.49 -4.31h4.97l2.49 4.31l-2.49 4.31h-4.97zM731.8 329.5l2.49 -4.31h4.97l2.49 4.31l-2.49 4.31h-4.97zM731.8 355.3l2.49 -4.31h4.97l2.49 4.31l-2.49 4.31h-4.97zM731.8 381.2l2.49 -4.31h4.97l2.49 4.31l-2.49 4.31h-4.97zM731.8 501.9l2.49 -4.31h4.97l2.49 4.31l-2.49 4.31h-4.97zM731.8 510.5l2.49 -4.31h4.97l2.49 4.31l-2.49 4.31h-4.97zM739.3 239.0l2.49 -4.31h4.97l2.49 4.31l-2.49 4.31h-4.97zM739.3 247.6l2.49 -4.31h4.97l2.49 4.31l-2.49 4.31h-4.97zM739.3 264.8l2.49 -4.31h4.97l2.49 4.31l-2.49 4.31h-4.97zM739.3 316.5l2.49 -4.31h4.97l2.49 4.31l-2.49 4.31h-4.97zM739.3 376.9l2.49 -4.31h4.97l2.49 4.31l-2.49 4.31h-4.97zM739.3 385.5l2.49 -4.31h4.97l2.49 4.31l-2.49 4.31h-4.97zM739.3 463.1l2.49 -4.31h4.97l2.49 4.31l-2.49 4.31h-4.97zM739.3 471.7l2.49 -4.31h4.97l2.49 4.31l-2.49 4.31h-4.97zM739.3 506.2l2.49 -4.31h4.97l2.49 4.31l-2.49 4.31h-4.97zM746.7 260.5l2.49 -4.31h4.97l2.49 4.31l-2.49 4.31h-4.97zM746.7 269.1l2.49 -4.31h4.97l2.49 4.31l-2.49 4.31h-4.97zM746.7 303.6l2.49 -4.31h4.97l2.49 4.31l-2.49 4.31h-4.97zM746.7 312.2l2.49 -4.31h4.97l2.49 4.31l-2.49 4.31h-4.97zM746.7 501.9l2.49 -4.31h4.97l2.49 4.31l-2.49 4.31h-4.97zM746.7 510.5l2.49 -4.31h4.97l2.49 4.31l-2.49 4.31h-4.97zM754.2 351.0l2.49 -4.31h4.97l2.49 4.31l-2.49 4.31h-4.97zM754.2 359.6l2.49 -4.31h4.97l2.49 4.31l-2.49 4.31h-4.97zM754.2 368.3l2.49 -4.31h4.97l2.49 4.31l-2.49 4.31h-4.97zM754.2 376.9l2.49 -4.31h4.97l2.49 4.31l-2.49 4.31h-4.97zM754.2 385.5l2.49 -4.31h4.97l2.49 4.31l-2.49 4.31h-4.97zM761.6 191.5l2.49 -4.31h4.97l2.49 4.31l-2.49 4.31h-4.97zM761.6 226.0l2.49 -4.31h4.97l2.49 4.31l-2.49 4.31h-4.97zM761.6 251.9l2.49 -4.31h4.97l2.49 4.31l-2.49 4.31h-4.97zM761.6 346.7l2.49 -4.31h4.97l2.49 4.31l-2.49 4.31h-4.97zM761.6 363.9l2.49 -4.31h4.97l2.49 4.31l-2.49 4.31h-4.97zM761.6 441.5l2.49 -4.31h4.97l2.49 4.31l-2.49 4.31h-4.97zM761.6 484.6l2.49 -4.31h4.97l2.49 4.31l-2.49 4.31h-4.97zM769.1 161.4l2.49 -4.31h4.97l2.49 4.31l-2.49 4.31h-4.97zM769.1 195.9l2.49 -4.31h4.97l2.49 4.31l-2.49 4.31h-4.97zM769.1 359.6l2.49 -4.31h4.97l2.49 4.31l-2.49 4.31h-4.97zM769.1 368.3l2.49 -4.31h4.97l2.49 4.31l-2.49 4.31h-4.97zM769.1 376.9l2.49 -4.31h4.97l2.49 4.31l-2.49 4.31h-4.97zM769.1 385.5l2.49 -4.31h4.97l2.49 4.31l-2.49 4.31h-4.97zM769.1 463.1l2.49 -4.31h4.97l2.49 4.31l-2.49 4.31h-4.97zM776.6 157.1l2.49 -4.31h4.97l2.49 4.31l-2.49 4.31h-4.97zM776.6 200.2l2.49 -4.31h4.97l2.49 4.31l-2.49 4.31h-4.97zM776.6 226.0l2.49 -4.31h4.97l2.49 4.31l-2.49 4.31h-4.97zM776.6 303.6l2.49 -4.31h4.97l2.49 4.31l-2.49 4.31h-4.97zM784.0 144.1l2.49 -4.31h4.97l2.49 4.31l-2.49 4.31h-4.97zM784.0 152.8l2.49 -4.31h4.97l2.49 4.31l-2.49 4.31h-4.97zM784.0 239.0l2.49 -4.31h4.97l2.49 4.31l-2.49 4.31h-4.97zM784.0 437.2l2.49 -4.31h4.97l2.49 4.31l-2.49 4.31h-4.97zM784.0 540.7l2.49 -4.31h4.97l2.49 4.31l-2.49 4.31h-4.97zM784.0 549.3l2.49 -4.31h4.97l2.49 4.31l-2.49 4.31h-4.97zM791.5 148.4l2.49 -4.31h4.97l2.49 4.31l-2.49 4.31h-4.97zM791.5 338.1l2.49 -4.31h4.97l2.49 4.31l-2.49 4.31h-4.97zM791.5 484.6l2.49 -4.31h4.97l2.49 4.31l-2.49 4.31h-4.97zM791.5 545.0l2.49 -4.31h4.97l2.49 4.31l-2.49 4.31h-4.97zM798.9 152.8l2.49 -4.31h4.97l2.49 4.31l-2.49 4.31h-4.97zM798.9 170.0l2.49 -4.31h4.97l2.49 4.31l-2.49 4.31h-4.97zM798.9 187.2l2.49 -4.31h4.97l2.49 4.31l-2.49 4.31h-4.97zM806.4 148.4l2.49 -4.31h4.97l2.49 4.31l-2.49 4.31h-4.97zM806.4 157.1l2.49 -4.31h4.97l2.49 4.31l-2.49 4.31h-4.97zM806.4 191.5l2.49 -4.31h4.97l2.49 4.31l-2.49 4.31h-4.97zM806.4 338.1l2.49 -4.31h4.97l2.49 4.31l-2.49 4.31h-4.97zM806.4 476.0l2.49 -4.31h4.97l2.49 4.31l-2.49 4.31h-4.97zM813.9 144.1l2.49 -4.31h4.97l2.49 4.31l-2.49 4.31h-4.97zM813.9 152.8l2.49 -4.31h4.97l2.49 4.31l-2.49 4.31h-4.97zM813.9 170.0l2.49 -4.31h4.97l2.49 4.31l-2.49 4.31h-4.97zM813.9 316.5l2.49 -4.31h4.97l2.49 4.31l-2.49 4.31h-4.97zM821.3 329.5l2.49 -4.31h4.97l2.49 4.31l-2.49 4.31h-4.97zM828.8 66.6l2.49 -4.31h4.97l2.49 4.31l-2.49 4.31h-4.97zM828.8 75.2l2.49 -4.31h4.97l2.49 4.31l-2.49 4.31h-4.97zM828.8 480.3l2.49 -4.31h4.97l2.49 4.31l-2.49 4.31h-4.97zM836.2 70.9l2.49 -4.31h4.97l2.49 4.31l-2.49 4.31h-4.97zM836.2 303.6l2.49 -4.31h4.97l2.49 4.31l-2.49 4.31h-4.97zM836.2 320.9l2.49 -4.31h4.97l2.49 4.31l-2.49 4.31h-4.97zM836.2 338.1l2.49 -4.31h4.97l2.49 4.31l-2.49 4.31h-4.97zM843.7 49.3l2.49 -4.31h4.97l2.49 4.31l-2.49 4.31h-4.97zM851.2 36.4l2.49 -4.31h4.97l2.49 4.31l-2.49 4.31h-4.97zM851.2 122.6l2.49 -4.31h4.97l2.49 4.31l-2.49 4.31h-4.97zM851.2 131.2l2.49 -4.31h4.97l2.49 4.31l-2.49 4.31h-4.97zM851.2 320.9l2.49 -4.31h4.97l2.49 4.31l-2.49 4.31h-4.97zM858.6 23.5l2.49 -4.31h4.97l2.49 4.31l-2.49 4.31h-4.97zM858.6 32.1l2.49 -4.31h4.97l2.49 4.31l-2.49 4.31h-4.97zM858.6 49.3l2.49 -4.31h4.97l2.49 4.31l-2.49 4.31h-4.97zM858.6 126.9l2.49 -4.31h4.97l2.49 4.31l-2.49 4.31h-4.97zM866.1 19.1l2.49 -4.31h4.97l2.49 4.31l-2.49 4.31h-4.97zM866.1 45.0l2.49 -4.31h4.97l2.49 4.31l-2.49 4.31h-4.97zM866.1 70.9l2.49 -4.31h4.97l2.49 4.31l-2.49 4.31h-4.97zM866.1 88.1l2.49 -4.31h4.97l2.49 4.31l-2.49 4.31h-4.97zM866.1 96.7l2.49 -4.31h4.97l2.49 4.31l-2.49 4.31h-4.97zM873.5 14.8l2.49 -4.31h4.97l2.49 4.31l-2.49 4.31h-4.97zM873.5 23.5l2.49 -4.31h4.97l2.49 4.31l-2.49 4.31h-4.97zM873.5 40.7l2.49 -4.31h4.97l2.49 4.31l-2.49 4.31h-4.97zM873.5 49.3l2.49 -4.31h4.97l2.49 4.31l-2.49 4.31h-4.97zM873.5 66.6l2.49 -4.31h4.97l2.49 4.31l-2.49 4.31h-4.97zM873.5 75.2l2.49 -4.31h4.97l2.49 4.31l-2.49 4.31h-4.97zM873.5 83.8l2.49 -4.31h4.97l2.49 4.31l-2.49 4.31h-4.97zM873.5 92.4l2.49 -4.31h4.97l2.49 4.31l-2.49 4.31h-4.97zM873.5 101.0l2.49 -4.31h4.97l2.49 4.31l-2.49 4.31h-4.97zM881.0 10.5l2.49 -4.31h4.97l2.49 4.31l-2.49 4.31h-4.97zM881.0 53.6l2.49 -4.31h4.97l2.49 4.31l-2.49 4.31h-4.97zM881.0 62.2l2.49 -4.31h4.97l2.49 4.31l-2.49 4.31h-4.97zM881.0 70.9l2.49 -4.31h4.97l2.49 4.31l-2.49 4.31h-4.97zM881.0 79.5l2.49 -4.31h4.97l2.49 4.31l-2.49 4.31h-4.97zM888.5 -2.4l2.49 -4.31h4.97l2.49 4.31l-2.49 4.31h-4.97zM888.5 23.5l2.49 -4.31h4.97l2.49 4.31l-2.49 4.31h-4.97zM888.5 32.1l2.49 -4.31h4.97l2.49 4.31l-2.49 4.31h-4.97zM888.5 40.7l2.49 -4.31h4.97l2.49 4.31l-2.49 4.31h-4.97zM888.5 49.3l2.49 -4.31h4.97l2.49 4.31l-2.49 4.31h-4.97zM895.9 1.9l2.49 -4.31h4.97l2.49 4.31l-2.49 4.31h-4.97zM895.9 10.5l2.49 -4.31h4.97l2.49 4.31l-2.49 4.31h-4.97zM895.9 19.1l2.49 -4.31h4.97l2.49 4.31l-2.49 4.31h-4.97zM895.9 27.8l2.49 -4.31h4.97l2.49 4.31l-2.49 4.31h-4.97zM895.9 45.0l2.49 -4.31h4.97l2.49 4.31l-2.49 4.31h-4.97zM622.7 823.1l2.43 -4.21h4.85l2.43 4.21l-2.43 4.21h-4.85zM630.0 827.3l2.43 -4.21h4.85l2.43 4.21l-2.43 4.21h-4.85zM630.0 835.8l2.43 -4.21h4.85l2.43 4.21l-2.43 4.21h-4.85zM637.3 831.5l2.43 -4.21h4.85l2.43 4.21l-2.43 4.21h-4.85zM644.5 835.8l2.43 -4.21h4.85l2.43 4.21l-2.43 4.21h-4.85zM651.8 848.4l2.43 -4.21h4.85l2.43 4.21l-2.43 4.21h-4.85zM659.1 734.7l2.43 -4.21h4.85l2.43 4.21l-2.43 4.21h-4.85zM659.1 743.1l2.43 -4.21h4.85l2.43 4.21l-2.43 4.21h-4.85zM659.1 802.1l2.43 -4.21h4.85l2.43 4.21l-2.43 4.21h-4.85zM666.4 688.4l2.43 -4.21h4.85l2.43 4.21l-2.43 4.21h-4.85zM666.4 730.5l2.43 -4.21h4.85l2.43 4.21l-2.43 4.21h-4.85zM666.4 848.4l2.43 -4.21h4.85l2.43 4.21l-2.43 4.21h-4.85zM673.7 701.0l2.43 -4.21h4.85l2.43 4.21l-2.43 4.21h-4.85zM673.7 743.1l2.43 -4.21h4.85l2.43 4.21l-2.43 4.21h-4.85zM680.9 688.4l2.43 -4.21h4.85l2.43 4.21l-2.43 4.21h-4.85zM680.9 789.5l2.43 -4.21h4.85l2.43 4.21l-2.43 4.21h-4.85zM680.9 823.1l2.43 -4.21h4.85l2.43 4.21l-2.43 4.21h-4.85zM680.9 848.4l2.43 -4.21h4.85l2.43 4.21l-2.43 4.21h-4.85zM680.9 856.8l2.43 -4.21h4.85l2.43 4.21l-2.43 4.21h-4.85zM688.2 785.2l2.43 -4.21h4.85l2.43 4.21l-2.43 4.21h-4.85zM695.5 680.0l2.43 -4.21h4.85l2.43 4.21l-2.43 4.21h-4.85zM695.5 738.9l2.43 -4.21h4.85l2.43 4.21l-2.43 4.21h-4.85zM695.5 755.8l2.43 -4.21h4.85l2.43 4.21l-2.43 4.21h-4.85zM695.5 772.6l2.43 -4.21h4.85l2.43 4.21l-2.43 4.21h-4.85zM702.8 802.1l2.43 -4.21h4.85l2.43 4.21l-2.43 4.21h-4.85zM710.1 688.4l2.43 -4.21h4.85l2.43 4.21l-2.43 4.21h-4.85zM710.1 705.2l2.43 -4.21h4.85l2.43 4.21l-2.43 4.21h-4.85zM717.3 684.2l2.43 -4.21h4.85l2.43 4.21l-2.43 4.21h-4.85zM717.3 726.3l2.43 -4.21h4.85l2.43 4.21l-2.43 4.21h-4.85zM717.3 734.7l2.43 -4.21h4.85l2.43 4.21l-2.43 4.21h-4.85zM717.3 768.4l2.43 -4.21h4.85l2.43 4.21l-2.43 4.21h-4.85zM731.9 709.5l2.43 -4.21h4.85l2.43 4.21l-2.43 4.21h-4.85zM731.9 734.7l2.43 -4.21h4.85l2.43 4.21l-2.43 4.21h-4.85zM731.9 760.0l2.43 -4.21h4.85l2.43 4.21l-2.43 4.21h-4.85zM739.2 738.9l2.43 -4.21h4.85l2.43 4.21l-2.43 4.21h-4.85zM746.4 760.0l2.43 -4.21h4.85l2.43 4.21l-2.43 4.21h-4.85zM753.7 688.4l2.43 -4.21h4.85l2.43 4.21l-2.43 4.21h-4.85zM753.7 705.2l2.43 -4.21h4.85l2.43 4.21l-2.43 4.21h-4.85zM753.7 873.6l2.43 -4.21h4.85l2.43 4.21l-2.43 4.21h-4.85zM761.0 692.6l2.43 -4.21h4.85l2.43 4.21l-2.43 4.21h-4.85zM761.0 743.1l2.43 -4.21h4.85l2.43 4.21l-2.43 4.21h-4.85zM761.0 760.0l2.43 -4.21h4.85l2.43 4.21l-2.43 4.21h-4.85zM761.0 768.4l2.43 -4.21h4.85l2.43 4.21l-2.43 4.21h-4.85zM761.0 785.2l2.43 -4.21h4.85l2.43 4.21l-2.43 4.21h-4.85zM761.0 810.5l2.43 -4.21h4.85l2.43 4.21l-2.43 4.21h-4.85zM761.0 818.9l2.43 -4.21h4.85l2.43 4.21l-2.43 4.21h-4.85zM768.3 696.8l2.43 -4.21h4.85l2.43 4.21l-2.43 4.21h-4.85zM768.3 730.5l2.43 -4.21h4.85l2.43 4.21l-2.43 4.21h-4.85zM768.3 747.4l2.43 -4.21h4.85l2.43 4.21l-2.43 4.21h-4.85zM768.3 781.0l2.43 -4.21h4.85l2.43 4.21l-2.43 4.21h-4.85zM775.6 734.7l2.43 -4.21h4.85l2.43 4.21l-2.43 4.21h-4.85zM775.6 861.0l2.43 -4.21h4.85l2.43 4.21l-2.43 4.21h-4.85zM782.8 722.1l2.43 -4.21h4.85l2.43 4.21l-2.43 4.21h-4.85zM782.8 856.8l2.43 -4.21h4.85l2.43 4.21l-2.43 4.21h-4.85z"/>
<path fill="#d3dcf8" d="M656.1 1050.2l2.54 -4.40h5.08l2.54 4.40l-2.54 4.40h-5.08zM694.2 1037.0l2.54 -4.40h5.08l2.54 4.40l-2.54 4.40h-5.08zM709.4 1037.0l2.54 -4.40h5.08l2.54 4.40l-2.54 4.40h-5.08zM709.4 1045.8l2.54 -4.40h5.08l2.54 4.40l-2.54 4.40h-5.08zM739.9 1028.2l2.54 -4.40h5.08l2.54 4.40l-2.54 4.40h-5.08zM747.5 988.6l2.54 -4.40h5.08l2.54 4.40l-2.54 4.40h-5.08zM770.4 957.8l2.54 -4.40h5.08l2.54 4.40l-2.54 4.40h-5.08zM778.0 1015.0l2.54 -4.40h5.08l2.54 4.40l-2.54 4.40h-5.08zM793.3 935.8l2.54 -4.40h5.08l2.54 4.40l-2.54 4.40h-5.08zM793.3 953.4l2.54 -4.40h5.08l2.54 4.40l-2.54 4.40h-5.08zM793.3 988.6l2.54 -4.40h5.08l2.54 4.40l-2.54 4.40h-5.08zM800.9 984.2l2.54 -4.40h5.08l2.54 4.40l-2.54 4.40h-5.08zM808.5 1015.0l2.54 -4.40h5.08l2.54 4.40l-2.54 4.40h-5.08zM816.1 966.6l2.54 -4.40h5.08l2.54 4.40l-2.54 4.40h-5.08zM816.1 1028.2l2.54 -4.40h5.08l2.54 4.40l-2.54 4.40h-5.08zM831.4 993.0l2.54 -4.40h5.08l2.54 4.40l-2.54 4.40h-5.08zM846.6 817.1l2.54 -4.40h5.08l2.54 4.40l-2.54 4.40h-5.08zM854.2 821.5l2.54 -4.40h5.08l2.54 4.40l-2.54 4.40h-5.08zM861.9 729.2l2.54 -4.40h5.08l2.54 4.40l-2.54 4.40h-5.08zM861.9 738.0l2.54 -4.40h5.08l2.54 4.40l-2.54 4.40h-5.08zM861.9 755.5l2.54 -4.40h5.08l2.54 4.40l-2.54 4.40h-5.08zM869.5 768.7l2.54 -4.40h5.08l2.54 4.40l-2.54 4.40h-5.08zM869.5 830.3l2.54 -4.40h5.08l2.54 4.40l-2.54 4.40h-5.08zM869.5 847.9l2.54 -4.40h5.08l2.54 4.40l-2.54 4.40h-5.08zM877.1 746.7l2.54 -4.40h5.08l2.54 4.40l-2.54 4.40h-5.08zM877.1 773.1l2.54 -4.40h5.08l2.54 4.40l-2.54 4.40h-5.08zM877.1 817.1l2.54 -4.40h5.08l2.54 4.40l-2.54 4.40h-5.08zM877.1 861.1l2.54 -4.40h5.08l2.54 4.40l-2.54 4.40h-5.08zM877.1 949.0l2.54 -4.40h5.08l2.54 4.40l-2.54 4.40h-5.08zM877.1 966.6l2.54 -4.40h5.08l2.54 4.40l-2.54 4.40h-5.08zM884.7 619.2l2.54 -4.40h5.08l2.54 4.40l-2.54 4.40h-5.08zM884.7 707.2l2.54 -4.40h5.08l2.54 4.40l-2.54 4.40h-5.08zM884.7 742.4l2.54 -4.40h5.08l2.54 4.40l-2.54 4.40h-5.08zM884.7 909.5l2.54 -4.40h5.08l2.54 4.40l-2.54 4.40h-5.08zM884.7 953.4l2.54 -4.40h5.08l2.54 4.40l-2.54 4.40h-5.08zM892.4 711.6l2.54 -4.40h5.08l2.54 4.40l-2.54 4.40h-5.08zM892.4 720.4l2.54 -4.40h5.08l2.54 4.40l-2.54 4.40h-5.08zM892.4 764.3l2.54 -4.40h5.08l2.54 4.40l-2.54 4.40h-5.08zM892.4 852.3l2.54 -4.40h5.08l2.54 4.40l-2.54 4.40h-5.08zM900.0 707.2l2.54 -4.40h5.08l2.54 4.40l-2.54 4.40h-5.08zM900.0 724.8l2.54 -4.40h5.08l2.54 4.40l-2.54 4.40h-5.08zM900.0 742.4l2.54 -4.40h5.08l2.54 4.40l-2.54 4.40h-5.08zM900.0 847.9l2.54 -4.40h5.08l2.54 4.40l-2.54 4.40h-5.08zM907.6 843.5l2.54 -4.40h5.08l2.54 4.40l-2.54 4.40h-5.08zM907.6 922.6l2.54 -4.40h5.08l2.54 4.40l-2.54 4.40h-5.08zM915.2 601.6l2.54 -4.40h5.08l2.54 4.40l-2.54 4.40h-5.08zM915.2 628.0l2.54 -4.40h5.08l2.54 4.40l-2.54 4.40h-5.08zM915.2 812.7l2.54 -4.40h5.08l2.54 4.40l-2.54 4.40h-5.08zM915.2 847.9l2.54 -4.40h5.08l2.54 4.40l-2.54 4.40h-5.08zM915.2 935.8l2.54 -4.40h5.08l2.54 4.40l-2.54 4.40h-5.08zM922.8 658.8l2.54 -4.40h5.08l2.54 4.40l-2.54 4.40h-5.08zM922.8 799.5l2.54 -4.40h5.08l2.54 4.40l-2.54 4.40h-5.08zM922.8 808.3l2.54 -4.40h5.08l2.54 4.40l-2.54 4.40h-5.08zM930.5 592.8l2.54 -4.40h5.08l2.54 4.40l-2.54 4.40h-5.08zM930.5 759.9l2.54 -4.40h5.08l2.54 4.40l-2.54 4.40h-5.08zM930.5 795.1l2.54 -4.40h5.08l2.54 4.40l-2.54 4.40h-5.08zM938.1 588.4l2.54 -4.40h5.08l2.54 4.40l-2.54 4.40h-5.08zM938.1 834.7l2.54 -4.40h5.08l2.54 4.40l-2.54 4.40h-5.08zM945.7 566.5l2.54 -4.40h5.08l2.54 4.40l-2.54 4.40h-5.08zM945.7 601.6l2.54 -4.40h5.08l2.54 4.40l-2.54 4.40h-5.08zM945.7 619.2l2.54 -4.40h5.08l2.54 4.40l-2.54 4.40h-5.08zM945.7 716.0l2.54 -4.40h5.08l2.54 4.40l-2.54 4.40h-5.08zM945.7 795.1l2.54 -4.40h5.08l2.54 4.40l-2.54 4.40h-5.08zM945.7 821.5l2.54 -4.40h5.08l2.54 4.40l-2.54 4.40h-5.08zM945.7 830.3l2.54 -4.40h5.08l2.54 4.40l-2.54 4.40h-5.08zM945.7 891.9l2.54 -4.40h5.08l2.54 4.40l-2.54 4.40h-5.08zM953.3 562.1l2.54 -4.40h5.08l2.54 4.40l-2.54 4.40h-5.08zM953.3 614.8l2.54 -4.40h5.08l2.54 4.40l-2.54 4.40h-5.08zM953.3 632.4l2.54 -4.40h5.08l2.54 4.40l-2.54 4.40h-5.08zM953.3 799.5l2.54 -4.40h5.08l2.54 4.40l-2.54 4.40h-5.08zM953.3 825.9l2.54 -4.40h5.08l2.54 4.40l-2.54 4.40h-5.08zM953.3 843.5l2.54 -4.40h5.08l2.54 4.40l-2.54 4.40h-5.08zM961.0 575.2l2.54 -4.40h5.08l2.54 4.40l-2.54 4.40h-5.08zM961.0 628.0l2.54 -4.40h5.08l2.54 4.40l-2.54 4.40h-5.08zM961.0 663.2l2.54 -4.40h5.08l2.54 4.40l-2.54 4.40h-5.08zM961.0 698.4l2.54 -4.40h5.08l2.54 4.40l-2.54 4.40h-5.08zM961.0 742.4l2.54 -4.40h5.08l2.54 4.40l-2.54 4.40h-5.08zM968.6 773.1l2.54 -4.40h5.08l2.54 4.40l-2.54 4.40h-5.08zM968.6 781.9l2.54 -4.40h5.08l2.54 4.40l-2.54 4.40h-5.08zM968.6 799.5l2.54 -4.40h5.08l2.54 4.40l-2.54 4.40h-5.08zM968.6 808.3l2.54 -4.40h5.08l2.54 4.40l-2.54 4.40h-5.08zM968.6 913.9l2.54 -4.40h5.08l2.54 4.40l-2.54 4.40h-5.08zM976.2 654.4l2.54 -4.40h5.08l2.54 4.40l-2.54 4.40h-5.08zM976.2 847.9l2.54 -4.40h5.08l2.54 4.40l-2.54 4.40h-5.08zM976.2 891.9l2.54 -4.40h5.08l2.54 4.40l-2.54 4.40h-5.08zM983.8 790.7l2.54 -4.40h5.08l2.54 4.40l-2.54 4.40h-5.08zM983.8 852.3l2.54 -4.40h5.08l2.54 4.40l-2.54 4.40h-5.08zM983.8 896.3l2.54 -4.40h5.08l2.54 4.40l-2.54 4.40h-5.08zM983.8 940.2l2.54 -4.40h5.08l2.54 4.40l-2.54 4.40h-5.08zM991.4 654.4l2.54 -4.40h5.08l2.54 4.40l-2.54 4.40h-5.08zM991.4 672.0l2.54 -4.40h5.08l2.54 4.40l-2.54 4.40h-5.08zM991.4 856.7l2.54 -4.40h5.08l2.54 4.40l-2.54 4.40h-5.08zM991.4 874.3l2.54 -4.40h5.08l2.54 4.40l-2.54 4.40h-5.08zM999.1 834.7l2.54 -4.40h5.08l2.54 4.40l-2.54 4.40h-5.08zM999.1 861.1l2.54 -4.40h5.08l2.54 4.40l-2.54 4.40h-5.08zM1006.7 680.8l2.54 -4.40h5.08l2.54 4.40l-2.54 4.40h-5.08zM1006.7 839.1l2.54 -4.40h5.08l2.54 4.40l-2.54 4.40h-5.08zM1006.7 847.9l2.54 -4.40h5.08l2.54 4.40l-2.54 4.40h-5.08zM1014.3 808.3l2.54 -4.40h5.08l2.54 4.40l-2.54 4.40h-5.08zM1014.3 834.7l2.54 -4.40h5.08l2.54 4.40l-2.54 4.40h-5.08zM1021.9 821.5l2.54 -4.40h5.08l2.54 4.40l-2.54 4.40h-5.08zM1021.9 856.7l2.54 -4.40h5.08l2.54 4.40l-2.54 4.40h-5.08zM1021.9 927.0l2.54 -4.40h5.08l2.54 4.40l-2.54 4.40h-5.08zM1021.9 944.6l2.54 -4.40h5.08l2.54 4.40l-2.54 4.40h-5.08zM1029.5 650.0l2.54 -4.40h5.08l2.54 4.40l-2.54 4.40h-5.08zM1029.5 852.3l2.54 -4.40h5.08l2.54 4.40l-2.54 4.40h-5.08zM1029.5 878.7l2.54 -4.40h5.08l2.54 4.40l-2.54 4.40h-5.08zM1029.5 887.5l2.54 -4.40h5.08l2.54 4.40l-2.54 4.40h-5.08zM1037.2 680.8l2.54 -4.40h5.08l2.54 4.40l-2.54 4.40h-5.08zM1037.2 856.7l2.54 -4.40h5.08l2.54 4.40l-2.54 4.40h-5.08zM1044.8 861.1l2.54 -4.40h5.08l2.54 4.40l-2.54 4.40h-5.08zM1044.8 949.0l2.54 -4.40h5.08l2.54 4.40l-2.54 4.40h-5.08zM1052.4 856.7l2.54 -4.40h5.08l2.54 4.40l-2.54 4.40h-5.08zM1052.4 865.5l2.54 -4.40h5.08l2.54 4.40l-2.54 4.40h-5.08zM1060.0 834.7l2.54 -4.40h5.08l2.54 4.40l-2.54 4.40h-5.08zM1060.0 869.9l2.54 -4.40h5.08l2.54 4.40l-2.54 4.40h-5.08zM1060.0 940.2l2.54 -4.40h5.08l2.54 4.40l-2.54 4.40h-5.08zM1067.7 839.1l2.54 -4.40h5.08l2.54 4.40l-2.54 4.40h-5.08zM1067.7 847.9l2.54 -4.40h5.08l2.54 4.40l-2.54 4.40h-5.08zM1075.3 790.7l2.54 -4.40h5.08l2.54 4.40l-2.54 4.40h-5.08zM1075.3 817.1l2.54 -4.40h5.08l2.54 4.40l-2.54 4.40h-5.08zM1075.3 861.1l2.54 -4.40h5.08l2.54 4.40l-2.54 4.40h-5.08zM1075.3 913.9l2.54 -4.40h5.08l2.54 4.40l-2.54 4.40h-5.08zM1075.3 957.8l2.54 -4.40h5.08l2.54 4.40l-2.54 4.40h-5.08zM1082.9 803.9l2.54 -4.40h5.08l2.54 4.40l-2.54 4.40h-5.08zM1082.9 812.7l2.54 -4.40h5.08l2.54 4.40l-2.54 4.40h-5.08zM1082.9 918.2l2.54 -4.40h5.08l2.54 4.40l-2.54 4.40h-5.08zM1090.5 817.1l2.54 -4.40h5.08l2.54 4.40l-2.54 4.40h-5.08zM1090.5 922.6l2.54 -4.40h5.08l2.54 4.40l-2.54 4.40h-5.08zM1098.1 821.5l2.54 -4.40h5.08l2.54 4.40l-2.54 4.40h-5.08zM1098.1 839.1l2.54 -4.40h5.08l2.54 4.40l-2.54 4.40h-5.08zM1105.8 869.9l2.54 -4.40h5.08l2.54 4.40l-2.54 4.40h-5.08zM1105.8 931.4l2.54 -4.40h5.08l2.54 4.40l-2.54 4.40h-5.08zM1113.4 795.1l2.54 -4.40h5.08l2.54 4.40l-2.54 4.40h-5.08zM1113.4 830.3l2.54 -4.40h5.08l2.54 4.40l-2.54 4.40h-5.08zM1113.4 847.9l2.54 -4.40h5.08l2.54 4.40l-2.54 4.40h-5.08zM1121.0 773.1l2.54 -4.40h5.08l2.54 4.40l-2.54 4.40h-5.08zM1121.0 825.9l2.54 -4.40h5.08l2.54 4.40l-2.54 4.40h-5.08zM1128.6 786.3l2.54 -4.40h5.08l2.54 4.40l-2.54 4.40h-5.08zM545.3 359.6l2.49 -4.31h4.97l2.49 4.31l-2.49 4.31h-4.97zM567.7 415.7l2.49 -4.31h4.97l2.49 4.31l-2.49 4.31h-4.97zM590.1 290.7l2.49 -4.31h4.97l2.49 4.31l-2.49 4.31h-4.97zM590.1 316.5l2.49 -4.31h4.97l2.49 4.31l-2.49 4.31h-4.97zM597.5 312.2l2.49 -4.31h4.97l2.49 4.31l-2.49 4.31h-4.97zM597.5 389.8l2.49 -4.31h4.97l2.49 4.31l-2.49 4.31h-4.97zM605.0 247.6l2.49 -4.31h4.97l2.49 4.31l-2.49 4.31h-4.97zM612.4 346.7l2.49 -4.31h4.97l2.49 4.31l-2.49 4.31h-4.97zM642.3 527.7l2.49 -4.31h4.97l2.49 4.31l-2.49 4.31h-4.97zM649.7 307.9l2.49 -4.31h4.97l2.49 4.31l-2.49 4.31h-4.97zM672.1 226.0l2.49 -4.31h4.97l2.49 4.31l-2.49 4.31h-4.97zM672.1 329.5l2.49 -4.31h4.97l2.49 4.31l-2.49 4.31h-4.97zM679.6 333.8l2.49 -4.31h4.97l2.49 4.31l-2.49 4.31h-4.97zM687.0 415.7l2.49 -4.31h4.97l2.49 4.31l-2.49 4.31h-4.97zM687.0 570.8l2.49 -4.31h4.97l2.49 4.31l-2.49 4.31h-4.97zM694.5 557.9l2.49 -4.31h4.97l2.49 4.31l-2.49 4.31h-4.97zM702.0 251.9l2.49 -4.31h4.97l2.49 4.31l-2.49 4.31h-4.97zM702.0 372.6l2.49 -4.31h4.97l2.49 4.31l-2.49 4.31h-4.97zM702.0 519.1l2.49 -4.31h4.97l2.49 4.31l-2.49 4.31h-4.97zM709.4 256.2l2.49 -4.31h4.97l2.49 4.31l-2.49 4.31h-4.97zM709.4 557.9l2.49 -4.31h4.97l2.49 4.31l-2.49 4.31h-4.97zM716.9 484.6l2.49 -4.31h4.97l2.49 4.31l-2.49 4.31h-4.97zM716.9 570.8l2.49 -4.31h4.97l2.49 4.31l-2.49 4.31h-4.97zM724.3 454.5l2.49 -4.31h4.97l2.49 4.31l-2.49 4.31h-4.97zM731.8 277.8l2.49 -4.31h4.97l2.49 4.31l-2.49 4.31h-4.97zM731.8 484.6l2.49 -4.31h4.97l2.49 4.31l-2.49 4.31h-4.97zM731.8 493.2l2.49 -4.31h4.97l2.49 4.31l-2.49 4.31h-4.97zM739.3 488.9l2.49 -4.31h4.97l2.49 4.31l-2.49 4.31h-4.97zM746.7 320.9l2.49 -4.31h4.97l2.49 4.31l-2.49 4.31h-4.97zM746.7 476.0l2.49 -4.31h4.97l2.49 4.31l-2.49 4.31h-4.97zM754.2 239.0l2.49 -4.31h4.97l2.49 4.31l-2.49 4.31h-4.97zM754.2 307.9l2.49 -4.31h4.97l2.49 4.31l-2.49 4.31h-4.97zM754.2 333.8l2.49 -4.31h4.97l2.49 4.31l-2.49 4.31h-4.97zM769.1 187.2l2.49 -4.31h4.97l2.49 4.31l-2.49 4.31h-4.97zM769.1 204.5l2.49 -4.31h4.97l2.49 4.31l-2.49 4.31h-4.97zM769.1 307.9l2.49 -4.31h4.97l2.49 4.31l-2.49 4.31h-4.97zM769.1 549.3l2.49 -4.31h4.97l2.49 4.31l-2.49 4.31h-4.97zM776.6 312.2l2.49 -4.31h4.97l2.49 4.31l-2.49 4.31h-4.97zM776.6 467.4l2.49 -4.31h4.97l2.49 4.31l-2.49 4.31h-4.97zM784.0 230.3l2.49 -4.31h4.97l2.49 4.31l-2.49 4.31h-4.97zM784.0 359.6l2.49 -4.31h4.97l2.49 4.31l-2.49 4.31h-4.97zM784.0 445.8l2.49 -4.31h4.97l2.49 4.31l-2.49 4.31h-4.97zM798.9 333.8l2.49 -4.31h4.97l2.49 4.31l-2.49 4.31h-4.97zM798.9 368.3l2.49 -4.31h4.97l2.49 4.31l-2.49 4.31h-4.97zM798.9 463.1l2.49 -4.31h4.97l2.49 4.31l-2.49 4.31h-4.97zM806.4 329.5l2.49 -4.31h4.97l2.49 4.31l-2.49 4.31h-4.97zM806.4 355.3l2.49 -4.31h4.97l2.49 4.31l-2.49 4.31h-4.97zM813.9 351.0l2.49 -4.31h4.97l2.49 4.31l-2.49 4.31h-4.97zM821.3 312.2l2.49 -4.31h4.97l2.49 4.31l-2.49 4.31h-4.97zM828.8 316.5l2.49 -4.31h4.97l2.49 4.31l-2.49 4.31h-4.97zM836.2 363.9l2.49 -4.31h4.97l2.49 4.31l-2.49 4.31h-4.97zM630.0 818.9l2.43 -4.21h4.85l2.43 4.21l-2.43 4.21h-4.85zM644.5 827.3l2.43 -4.21h4.85l2.43 4.21l-2.43 4.21h-4.85zM651.8 823.1l2.43 -4.21h4.85l2.43 4.21l-2.43 4.21h-4.85zM651.8 840.0l2.43 -4.21h4.85l2.43 4.21l-2.43 4.21h-4.85zM659.1 835.8l2.43 -4.21h4.85l2.43 4.21l-2.43 4.21h-4.85zM666.4 806.3l2.43 -4.21h4.85l2.43 4.21l-2.43 4.21h-4.85zM717.3 861.0l2.43 -4.21h4.85l2.43 4.21l-2.43 4.21h-4.85zM724.6 781.0l2.43 -4.21h4.85l2.43 4.21l-2.43 4.21h-4.85zM731.9 785.2l2.43 -4.21h4.85l2.43 4.21l-2.43 4.21h-4.85zM731.9 827.3l2.43 -4.21h4.85l2.43 4.21l-2.43 4.21h-4.85zM746.4 701.0l2.43 -4.21h4.85l2.43 4.21l-2.43 4.21h-4.85zM753.7 764.2l2.43 -4.21h4.85l2.43 4.21l-2.43 4.21h-4.85zM753.7 789.5l2.43 -4.21h4.85l2.43 4.21l-2.43 4.21h-4.85zM753.7 814.7l2.43 -4.21h4.85l2.43 4.21l-2.43 4.21h-4.85zM761.0 751.6l2.43 -4.21h4.85l2.43 4.21l-2.43 4.21h-4.85zM761.0 827.3l2.43 -4.21h4.85l2.43 4.21l-2.43 4.21h-4.85zM768.3 722.1l2.43 -4.21h4.85l2.43 4.21l-2.43 4.21h-4.85zM768.3 789.5l2.43 -4.21h4.85l2.43 4.21l-2.43 4.21h-4.85zM775.6 717.9l2.43 -4.21h4.85l2.43 4.21l-2.43 4.21h-4.85zM775.6 726.3l2.43 -4.21h4.85l2.43 4.21l-2.43 4.21h-4.85zM775.6 827.3l2.43 -4.21h4.85l2.43 4.21l-2.43 4.21h-4.85z"/>
<path fill="#a9bcf0" d="M686.6 1041.4l2.54 -4.40h5.08l2.54 4.40l-2.54 4.40h-5.08zM701.8 1032.6l2.54 -4.40h5.08l2.54 4.40l-2.54 4.40h-5.08zM717.0 1032.6l2.54 -4.40h5.08l2.54 4.40l-2.54 4.40h-5.08zM717.0 1041.4l2.54 -4.40h5.08l2.54 4.40l-2.54 4.40h-5.08zM732.3 1006.2l2.54 -4.40h5.08l2.54 4.40l-2.54 4.40h-5.08zM732.3 1015.0l2.54 -4.40h5.08l2.54 4.40l-2.54 4.40h-5.08zM732.3 1041.4l2.54 -4.40h5.08l2.54 4.40l-2.54 4.40h-5.08zM747.5 997.4l2.54 -4.40h5.08l2.54 4.40l-2.54 4.40h-5.08zM755.2 1019.4l2.54 -4.40h5.08l2.54 4.40l-2.54 4.40h-5.08zM762.8 1006.2l2.54 -4.40h5.08l2.54 4.40l-2.54 4.40h-5.08zM785.6 966.6l2.54 -4.40h5.08l2.54 4.40l-2.54 4.40h-5.08zM785.6 975.4l2.54 -4.40h5.08l2.54 4.40l-2.54 4.40h-5.08zM785.6 1010.6l2.54 -4.40h5.08l2.54 4.40l-2.54 4.40h-5.08zM793.3 962.2l2.54 -4.40h5.08l2.54 4.40l-2.54 4.40h-5.08zM793.3 971.0l2.54 -4.40h5.08l2.54 4.40l-2.54 4.40h-5.08zM800.9 940.2l2.54 -4.40h5.08l2.54 4.40l-2.54 4.40h-5.08zM800.9 949.0l2.54 -4.40h5.08l2.54 4.40l-2.54 4.40h-5.08zM800.9 957.8l2.54 -4.40h5.08l2.54 4.40l-2.54 4.40h-5.08zM800.9 993.0l2.54 -4.40h5.08l2.54 4.40l-2.54 4.40h-5.08zM800.9 1001.8l2.54 -4.40h5.08l2.54 4.40l-2.54 4.40h-5.08zM800.9 1010.6l2.54 -4.40h5.08l2.54 4.40l-2.54 4.40h-5.08zM808.5 953.4l2.54 -4.40h5.08l2.54 4.40l-2.54 4.40h-5.08zM816.1 949.0l2.54 -4.40h5.08l2.54 4.40l-2.54 4.40h-5.08zM816.1 957.8l2.54 -4.40h5.08l2.54 4.40l-2.54 4.40h-5.08zM816.1 1001.8l2.54 -4.40h5.08l2.54 4.40l-2.54 4.40h-5.08zM816.1 1010.6l2.54 -4.40h5.08l2.54 4.40l-2.54 4.40h-5.08zM823.8 988.6l2.54 -4.40h5.08l2.54 4.40l-2.54 4.40h-5.08zM823.8 1023.8l2.54 -4.40h5.08l2.54 4.40l-2.54 4.40h-5.08zM831.4 949.0l2.54 -4.40h5.08l2.54 4.40l-2.54 4.40h-5.08zM831.4 966.6l2.54 -4.40h5.08l2.54 4.40l-2.54 4.40h-5.08zM831.4 984.2l2.54 -4.40h5.08l2.54 4.40l-2.54 4.40h-5.08zM839.0 944.6l2.54 -4.40h5.08l2.54 4.40l-2.54 4.40h-5.08zM839.0 962.2l2.54 -4.40h5.08l2.54 4.40l-2.54 4.40h-5.08zM846.6 940.2l2.54 -4.40h5.08l2.54 4.40l-2.54 4.40h-5.08zM846.6 949.0l2.54 -4.40h5.08l2.54 4.40l-2.54 4.40h-5.08zM854.2 847.9l2.54 -4.40h5.08l2.54 4.40l-2.54 4.40h-5.08zM854.2 971.0l2.54 -4.40h5.08l2.54 4.40l-2.54 4.40h-5.08zM854.2 979.8l2.54 -4.40h5.08l2.54 4.40l-2.54 4.40h-5.08zM861.9 579.6l2.54 -4.40h5.08l2.54 4.40l-2.54 4.40h-5.08zM861.9 746.7l2.54 -4.40h5.08l2.54 4.40l-2.54 4.40h-5.08zM861.9 764.3l2.54 -4.40h5.08l2.54 4.40l-2.54 4.40h-5.08zM861.9 790.7l2.54 -4.40h5.08l2.54 4.40l-2.54 4.40h-5.08zM861.9 799.5l2.54 -4.40h5.08l2.54 4.40l-2.54 4.40h-5.08zM861.9 808.3l2.54 -4.40h5.08l2.54 4.40l-2.54 4.40h-5.08zM861.9 825.9l2.54 -4.40h5.08l2.54 4.40l-2.54 4.40h-5.08zM861.9 949.0l2.54 -4.40h5.08l2.54 4.40l-2.54 4.40h-5.08zM869.5 584.0l2.54 -4.40h5.08l2.54 4.40l-2.54 4.40h-5.08zM869.5 707.2l2.54 -4.40h5.08l2.54 4.40l-2.54 4.40h-5.08zM869.5 716.0l2.54 -4.40h5.08l2.54 4.40l-2.54 4.40h-5.08zM869.5 724.8l2.54 -4.40h5.08l2.54 4.40l-2.54 4.40h-5.08zM869.5 777.5l2.54 -4.40h5.08l2.54 4.40l-2.54 4.40h-5.08zM869.5 821.5l2.54 -4.40h5.08l2.54 4.40l-2.54 4.40h-5.08zM869.5 962.2l2.54 -4.40h5.08l2.54 4.40l-2.54 4.40h-5.08zM877.1 579.6l2.54 -4.40h5.08l2.54 4.40l-2.54 4.40h-5.08zM877.1 614.8l2.54 -4.40h5.08l2.54 4.40l-2.54 4.40h-5.08zM877.1 694.0l2.54 -4.40h5.08l2.54 4.40l-2.54 4.40h-5.08zM884.7 575.2l2.54 -4.40h5.08l2.54 4.40l-2.54 4.40h-5.08zM884.7 610.4l2.54 -4.40h5.08l2.54 4.40l-2.54 4.40h-5.08zM884.7 663.2l2.54 -4.40h5.08l2.54 4.40l-2.54 4.40h-5.08zM884.7 680.8l2.54 -4.40h5.08l2.54 4.40l-2.54 4.40h-5.08zM884.7 689.6l2.54 -4.40h5.08l2.54 4.40l-2.54 4.40h-5.08zM884.7 733.6l2.54 -4.40h5.08l2.54 4.40l-2.54 4.40h-5.08zM884.7 751.1l2.54 -4.40h5.08l2.54 4.40l-2.54 4.40h-5.08zM884.7 786.3l2.54 -4.40h5.08l2.54 4.40l-2.54 4.40h-5.08zM884.7 795.1l2.54 -4.40h5.08l2.54 4.40l-2.54 4.40h-5.08zM884.7 812.7l2.54 -4.40h5.08l2.54 4.40l-2.54 4.40h-5.08zM884.7 821.5l2.54 -4.40h5.08l2.54 4.40l-2.54 4.40h-5.08zM884.7 847.9l2.54 -4.40h5.08l2.54 4.40l-2.54 4.40h-5.08zM884.7 883.1l2.54 -4.40h5.08l2.54 4.40l-2.54 4.40h-5.08zM884.7 891.9l2.54 -4.40h5.08l2.54 4.40l-2.54 4.40h-5.08zM884.7 935.8l2.54 -4.40h5.08l2.54 4.40l-2.54 4.40h-5.08zM884.7 944.6l2.54 -4.40h5.08l2.54 4.40l-2.54 4.40h-5.08zM892.4 535.7l2.54 -4.40h5.08l2.54 4.40l-2.54 4.40h-5.08zM892.4 562.1l2.54 -4.40h5.08l2.54 4.40l-2.54 4.40h-5.08zM892.4 614.8l2.54 -4.40h5.08l2.54 4.40l-2.54 4.40h-5.08zM892.4 694.0l2.54 -4.40h5.08l2.54 4.40l-2.54 4.40h-5.08zM892.4 729.2l2.54 -4.40h5.08l2.54 4.40l-2.54 4.40h-5.08zM892.4 755.5l2.54 -4.40h5.08l2.54 4.40l-2.54 4.40h-5.08zM892.4 773.1l2.54 -4.40h5.08l2.54 4.40l-2.54 4.40h-5.08zM892.4 781.9l2.54 -4.40h5.08l2.54 4.40l-2.54 4.40h-5.08zM892.4 825.9l2.54 -4.40h5.08l2.54 4.40l-2.54 4.40h-5.08zM892.4 834.7l2.54 -4.40h5.08l2.54 4.40l-2.54 4.40h-5.08zM892.4 931.4l2.54 -4.40h5.08l2.54 4.40l-2.54 4.40h-5.08zM900.0 540.1l2.54 -4.40h5.08l2.54 4.40l-2.54 4.40h-5.08zM900.0 557.7l2.54 -4.40h5.08l2.54 4.40l-2.54 4.40h-5.08zM900.0 575.2l2.54 -4.40h5.08l2.54 4.40l-2.54 4.40h-5.08zM900.0 768.7l2.54 -4.40h5.08l2.54 4.40l-2.54 4.40h-5.08zM900.0 777.5l2.54 -4.40h5.08l2.54 4.40l-2.54 4.40h-5.08zM900.0 786.3l2.54 -4.40h5.08l2.54 4.40l-2.54 4.40h-5.08zM900.0 812.7l2.54 -4.40h5.08l2.54 4.40l-2.54 4.40h-5.08zM900.0 900.7l2.54 -4.40h5.08l2.54 4.40l-2.54 4.40h-5.08zM900.0 971.0l2.54 -4.40h5.08l2.54 4.40l-2.54 4.40h-5.08zM900.0 988.6l2.54 -4.40h5.08l2.54 4.40l-2.54 4.40h-5.08zM907.6 676.4l2.54 -4.40h5.08l2.54 4.40l-2.54 4.40h-5.08zM907.6 694.0l2.54 -4.40h5.08l2.54 4.40l-2.54 4.40h-5.08zM907.6 720.4l2.54 -4.40h5.08l2.54 4.40l-2.54 4.40h-5.08zM907.6 729.2l2.54 -4.40h5.08l2.54 4.40l-2.54 4.40h-5.08zM907.6 738.0l2.54 -4.40h5.08l2.54 4.40l-2.54 4.40h-5.08zM907.6 755.5l2.54 -4.40h5.08l2.54 4.40l-2.54 4.40h-5.08zM907.6 764.3l2.54 -4.40h5.08l2.54 4.40l-2.54 4.40h-5.08zM907.6 852.3l2.54 -4.40h5.08l2.54 4.40l-2.54 4.40h-5.08zM907.6 861.1l2.54 -4.40h5.08l2.54 4.40l-2.54 4.40h-5.08zM907.6 887.5l2.54 -4.40h5.08l2.54 4.40l-2.54 4.40h-5.08zM907.6 896.3l2.54 -4.40h5.08l2.54 4.40l-2.54 4.40h-5.08zM907.6 905.1l2.54 -4.40h5.08l2.54 4.40l-2.54 4.40h-5.08zM907.6 957.8l2.54 -4.40h5.08l2.54 4.40l-2.54 4.40h-5.08zM907.6 966.6l2.54 -4.40h5.08l2.54 4.40l-2.54 4.40h-5.08zM907.6 984.2l2.54 -4.40h5.08l2.54 4.40l-2.54 4.40h-5.08zM915.2 575.2l2.54 -4.40h5.08l2.54 4.40l-2.54 4.40h-5.08zM915.2 645.6l2.54 -4.40h5.08l2.54 4.40l-2.54 4.40h-5.08zM915.2 654.4l2.54 -4.40h5.08l2.54 4.40l-2.54 4.40h-5.08zM915.2 698.4l2.54 -4.40h5.08l2.54 4.40l-2.54 4.40h-5.08zM915.2 716.0l2.54 -4.40h5.08l2.54 4.40l-2.54 4.40h-5.08zM915.2 724.8l2.54 -4.40h5.08l2.54 4.40l-2.54 4.40h-5.08zM915.2 733.6l2.54 -4.40h5.08l2.54 4.40l-2.54 4.40h-5.08zM915.2 742.4l2.54 -4.40h5.08l2.54 4.40l-2.54 4.40h-5.08zM915.2 768.7l2.54 -4.40h5.08l2.54 4.40l-2.54 4.40h-5.08zM915.2 830.3l2.54 -4.40h5.08l2.54 4.40l-2.54 4.40h-5.08zM915.2 856.7l2.54 -4.40h5.08l2.54 4.40l-2.54 4.40h-5.08zM915.2 891.9l2.54 -4.40h5.08l2.54 4.40l-2.54 4.40h-5.08zM915.2 900.7l2.54 -4.40h5.08l2.54 4.40l-2.54 4.40h-5.08zM915.2 918.2l2.54 -4.40h5.08l2.54 4.40l-2.54 4.40h-5.08zM915.2 944.6l2.54 -4.40h5.08l2.54 4.40l-2.54 4.40h-5.08zM915.2 962.2l2.54 -4.40h5.08l2.54 4.40l-2.54 4.40h-5.08zM915.2 997.4l2.54 -4.40h5.08l2.54 4.40l-2.54 4.40h-5.08zM922.8 482.9l2.54 -4.40h5.08l2.54 4.40l-2.54 4.40h-5.08zM922.8 491.7l2.54 -4.40h5.08l2.54 4.40l-2.54 4.40h-5.08zM922.8 579.6l2.54 -4.40h5.08l2.54 4.40l-2.54 4.40h-5.08zM922.8 588.4l2.54 -4.40h5.08l2.54 4.40l-2.54 4.40h-5.08zM922.8 606.0l2.54 -4.40h5.08l2.54 4.40l-2.54 4.40h-5.08zM922.8 650.0l2.54 -4.40h5.08l2.54 4.40l-2.54 4.40h-5.08zM922.8 764.3l2.54 -4.40h5.08l2.54 4.40l-2.54 4.40h-5.08zM922.8 790.7l2.54 -4.40h5.08l2.54 4.40l-2.54 4.40h-5.08zM922.8 869.9l2.54 -4.40h5.08l2.54 4.40l-2.54 4.40h-5.08zM922.8 878.7l2.54 -4.40h5.08l2.54 4.40l-2.54 4.40h-5.08zM922.8 905.1l2.54 -4.40h5.08l2.54 4.40l-2.54 4.40h-5.08zM922.8 957.8l2.54 -4.40h5.08l2.54 4.40l-2.54 4.40h-5.08zM922.8 966.6l2.54 -4.40h5.08l2.54 4.40l-2.54 4.40h-5.08zM930.5 522.5l2.54 -4.40h5.08l2.54 4.40l-2.54 4.40h-5.08zM930.5 548.9l2.54 -4.40h5.08l2.54 4.40l-2.54 4.40h-5.08zM930.5 566.5l2.54 -4.40h5.08l2.54 4.40l-2.54 4.40h-5.08zM930.5 575.2l2.54 -4.40h5.08l2.54 4.40l-2.54 4.40h-5.08zM930.5 628.0l2.54 -4.40h5.08l2.54 4.40l-2.54 4.40h-5.08zM930.5 645.6l2.54 -4.40h5.08l2.54 4.40l-2.54 4.40h-5.08zM930.5 663.2l2.54 -4.40h5.08l2.54 4.40l-2.54 4.40h-5.08zM930.5 672.0l2.54 -4.40h5.08l2.54 4.40l-2.54 4.40h-5.08zM930.5 689.6l2.54 -4.40h5.08l2.54 4.40l-2.54 4.40h-5.08zM930.5 716.0l2.54 -4.40h5.08l2.54 4.40l-2.54 4.40h-5.08zM930.5 724.8l2.54 -4.40h5.08l2.54 4.40l-2.54 4.40h-5.08zM930.5 733.6l2.54 -4.40h5.08l2.54 4.40l-2.54 4.40h-5.08zM930.5 768.7l2.54 -4.40h5.08l2.54 4.40l-2.54 4.40h-5.08zM930.5 777.5l2.54 -4.40h5.08l2.54 4.40l-2.54 4.40h-5.08zM930.5 821.5l2.54 -4.40h5.08l2.54 4.40l-2.54 4.40h-5.08zM930.5 874.3l2.54 -4.40h5.08l2.54 4.40l-2.54 4.40h-5.08zM930.5 883.1l2.54 -4.40h5.08l2.54 4.40l-2.54 4.40h-5.08zM930.5 953.4l2.54 -4.40h5.08l2.54 4.40l-2.54 4.40h-5.08zM930.5 971.0l2.54 -4.40h5.08l2.54 4.40l-2.54 4.40h-5.08zM938.1 491.7l2.54 -4.40h5.08l2.54 4.40l-2.54 4.40h-5.08zM938.1 509.3l2.54 -4.40h5.08l2.54 4.40l-2.54 4.40h-5.08zM938.1 518.1l2.54 -4.40h5.08l2.54 4.40l-2.54 4.40h-5.08zM938.1 544.5l2.54 -4.40h5.08l2.54 4.40l-2.54 4.40h-5.08zM938.1 562.1l2.54 -4.40h5.08l2.54 4.40l-2.54 4.40h-5.08zM938.1 570.8l2.54 -4.40h5.08l2.54 4.40l-2.54 4.40h-5.08zM938.1 597.2l2.54 -4.40h5.08l2.54 4.40l-2.54 4.40h-5.08zM938.1 623.6l2.54 -4.40h5.08l2.54 4.40l-2.54 4.40h-5.08zM938.1 685.2l2.54 -4.40h5.08l2.54 4.40l-2.54 4.40h-5.08zM938.1 711.6l2.54 -4.40h5.08l2.54 4.40l-2.54 4.40h-5.08zM938.1 720.4l2.54 -4.40h5.08l2.54 4.40l-2.54 4.40h-5.08zM938.1 746.7l2.54 -4.40h5.08l2.54 4.40l-2.54 4.40h-5.08zM938.1 764.3l2.54 -4.40h5.08l2.54 4.40l-2.54 4.40h-5.08zM938.1 843.5l2.54 -4.40h5.08l2.54 4.40l-2.54 4.40h-5.08zM938.1 869.9l2.54 -4.40h5.08l2.54 4.40l-2.54 4.40h-5.08zM938.1 913.9l2.54 -4.40h5.08l2.54 4.40l-2.54 4.40h-5.08zM945.7 513.7l2.54 -4.40h5.08l2.54 4.40l-2.54 4.40h-5.08zM945.7 531.3l2.54 -4.40h5.08l2.54 4.40l-2.54 4.40h-5.08zM945.7 654.4l2.54 -4.40h5.08l2.54 4.40l-2.54 4.40h-5.08zM945.7 733.6l2.54 -4.40h5.08l2.54 4.40l-2.54 4.40h-5.08zM945.7 751.1l2.54 -4.40h5.08l2.54 4.40l-2.54 4.40h-5.08zM945.7 777.5l2.54 -4.40h5.08l2.54 4.40l-2.54 4.40h-5.08zM945.7 786.3l2.54 -4.40h5.08l2.54 4.40l-2.54 4.40h-5.08zM945.7 812.7l2.54 -4.40h5.08l2.54 4.40l-2.54 4.40h-5.08zM945.7 847.9l2.54 -4.40h5.08l2.54 4.40l-2.54 4.40h-5.08zM945.7 856.7l2.54 -4.40h5.08l2.54 4.40l-2.54 4.40h-5.08zM945.7 953.4l2.54 -4.40h5.08l2.54 4.40l-2.54 4.40h-5.08zM953.3 535.7l2.54 -4.40h5.08l2.54 4.40l-2.54 4.40h-5.08zM953.3 570.8l2.54 -4.40h5.08l2.54 4.40l-2.54 4.40h-5.08zM953.3 597.2l2.54 -4.40h5.08l2.54 4.40l-2.54 4.40h-5.08zM953.3 606.0l2.54 -4.40h5.08l2.54 4.40l-2.54 4.40h-5.08zM953.3 641.2l2.54 -4.40h5.08l2.54 4.40l-2.54 4.40h-5.08zM953.3 650.0l2.54 -4.40h5.08l2.54 4.40l-2.54 4.40h-5.08zM953.3 676.4l2.54 -4.40h5.08l2.54 4.40l-2.54 4.40h-5.08zM953.3 694.0l2.54 -4.40h5.08l2.54 4.40l-2.54 4.40h-5.08zM953.3 711.6l2.54 -4.40h5.08l2.54 4.40l-2.54 4.40h-5.08zM953.3 720.4l2.54 -4.40h5.08l2.54 4.40l-2.54 4.40h-5.08zM953.3 729.2l2.54 -4.40h5.08l2.54 4.40l-2.54 4.40h-5.08zM953.3 817.1l2.54 -4.40h5.08l2.54 4.40l-2.54 4.40h-5.08zM953.3 861.1l2.54 -4.40h5.08l2.54 4.40l-2.54 4.40h-5.08zM953.3 878.7l2.54 -4.40h5.08l2.54 4.40l-2.54 4.40h-5.08zM953.3 887.5l2.54 -4.40h5.08l2.54 4.40l-2.54 4.40h-5.08zM953.3 913.9l2.54 -4.40h5.08l2.54 4.40l-2.54 4.40h-5.08zM953.3 922.6l2.54 -4.40h5.08l2.54 4.40l-2.54 4.40h-5.08zM953.3 940.2l2.54 -4.40h5.08l2.54 4.40l-2.54 4.40h-5.08zM961.0 601.6l2.54 -4.40h5.08l2.54 4.40l-2.54 4.40h-5.08zM961.0 645.6l2.54 -4.40h5.08l2.54 4.40l-2.54 4.40h-5.08zM961.0 672.0l2.54 -4.40h5.08l2.54 4.40l-2.54 4.40h-5.08zM961.0 733.6l2.54 -4.40h5.08l2.54 4.40l-2.54 4.40h-5.08zM961.0 795.1l2.54 -4.40h5.08l2.54 4.40l-2.54 4.40h-5.08zM961.0 812.7l2.54 -4.40h5.08l2.54 4.40l-2.54 4.40h-5.08zM961.0 856.7l2.54 -4.40h5.08l2.54 4.40l-2.54 4.40h-5.08zM961.0 883.1l2.54 -4.40h5.08l2.54 4.40l-2.54 4.40h-5.08zM961.0 891.9l2.54 -4.40h5.08l2.54 4.40l-2.54 4.40h-5.08zM961.0 900.7l2.54 -4.40h5.08l2.54 4.40l-2.54 4.40h-5.08zM961.0 935.8l2.54 -4.40h5.08l2.54 4.40l-2.54 4.40h-5.08zM968.6 606.0l2.54 -4.40h5.08l2.54 4.40l-2.54 4.40h-5.08zM968.6 632.4l2.54 -4.40h5.08l2.54 4.40l-2.54 4.40h-5.08zM968.6 641.2l2.54 -4.40h5.08l2.54 4.40l-2.54 4.40h-5.08zM968.6 658.8l2.54 -4.40h5.08l2.54 4.40l-2.54 4.40h-5.08zM968.6 720.4l2.54 -4.40h5.08l2.54 4.40l-2.54 4.40h-5.08zM968.6 755.5l2.54 -4.40h5.08l2.54 4.40l-2.54 4.40h-5.08zM968.6 790.7l2.54 -4.40h5.08l2.54 4.40l-2.54 4.40h-5.08zM968.6 817.1l2.54 -4.40h5.08l2.54 4.40l-2.54 4.40h-5.08zM968.6 834.7l2.54 -4.40h5.08l2.54 4.40l-2.54 4.40h-5.08zM968.6 896.3l2.54 -4.40h5.08l2.54 4.40l-2.54 4.40h-5.08zM968.6 957.8l2.54 -4.40h5.08l2.54 4.40l-2.54 4.40h-5.08zM976.2 601.6l2.54 -4.40h5.08l2.54 4.40l-2.54 4.40h-5.08zM976.2 716.0l2.54 -4.40h5.08l2.54 4.40l-2.54 4.40h-5.08zM976.2 724.8l2.54 -4.40h5.08l2.54 4.40l-2.54 4.40h-5.08zM976.2 768.7l2.54 -4.40h5.08l2.54 4.40l-2.54 4.40h-5.08zM976.2 830.3l2.54 -4.40h5.08l2.54 4.40l-2.54 4.40h-5.08zM976.2 839.1l2.54 -4.40h5.08l2.54 4.40l-2.54 4.40h-5.08zM976.2 935.8l2.54 -4.40h5.08l2.54 4.40l-2.54 4.40h-5.08zM983.8 623.6l2.54 -4.40h5.08l2.54 4.40l-2.54 4.40h-5.08zM983.8 738.0l2.54 -4.40h5.08l2.54 4.40l-2.54 4.40h-5.08zM983.8 781.9l2.54 -4.40h5.08l2.54 4.40l-2.54 4.40h-5.08zM983.8 799.5l2.54 -4.40h5.08l2.54 4.40l-2.54 4.40h-5.08zM983.8 817.1l2.54 -4.40h5.08l2.54 4.40l-2.54 4.40h-5.08zM983.8 825.9l2.54 -4.40h5.08l2.54 4.40l-2.54 4.40h-5.08zM983.8 843.5l2.54 -4.40h5.08l2.54 4.40l-2.54 4.40h-5.08zM983.8 931.4l2.54 -4.40h5.08l2.54 4.40l-2.54 4.40h-5.08zM991.4 619.2l2.54 -4.40h5.08l2.54 4.40l-2.54 4.40h-5.08zM991.4 645.6l2.54 -4.40h5.08l2.54 4.40l-2.54 4.40h-5.08zM991.4 663.2l2.54 -4.40h5.08l2.54 4.40l-2.54 4.40h-5.08zM991.4 724.8l2.54 -4.40h5.08l2.54 4.40l-2.54 4.40h-5.08zM991.4 768.7l2.54 -4.40h5.08l2.54 4.40l-2.54 4.40h-5.08zM991.4 777.5l2.54 -4.40h5.08l2.54 4.40l-2.54 4.40h-5.08zM991.4 786.3l2.54 -4.40h5.08l2.54 4.40l-2.54 4.40h-5.08zM991.4 821.5l2.54 -4.40h5.08l2.54 4.40l-2.54 4.40h-5.08zM991.4 847.9l2.54 -4.40h5.08l2.54 4.40l-2.54 4.40h-5.08zM991.4 865.5l2.54 -4.40h5.08l2.54 4.40l-2.54 4.40h-5.08zM991.4 900.7l2.54 -4.40h5.08l2.54 4.40l-2.54 4.40h-5.08zM991.4 918.2l2.54 -4.40h5.08l2.54 4.40l-2.54 4.40h-5.08zM991.4 962.2l2.54 -4.40h5.08l2.54 4.40l-2.54 4.40h-5.08zM999.1 623.6l2.54 -4.40h5.08l2.54 4.40l-2.54 4.40h-5.08zM999.1 676.4l2.54 -4.40h5.08l2.54 4.40l-2.54 4.40h-5.08zM999.1 746.7l2.54 -4.40h5.08l2.54 4.40l-2.54 4.40h-5.08zM999.1 817.1l2.54 -4.40h5.08l2.54 4.40l-2.54 4.40h-5.08zM999.1 843.5l2.54 -4.40h5.08l2.54 4.40l-2.54 4.40h-5.08zM999.1 852.3l2.54 -4.40h5.08l2.54 4.40l-2.54 4.40h-5.08zM999.1 878.7l2.54 -4.40h5.08l2.54 4.40l-2.54 4.40h-5.08zM999.1 940.2l2.54 -4.40h5.08l2.54 4.40l-2.54 4.40h-5.08zM999.1 966.6l2.54 -4.40h5.08l2.54 4.40l-2.54 4.40h-5.08zM1006.7 795.1l2.54 -4.40h5.08l2.54 4.40l-2.54 4.40h-5.08zM1006.7 821.5l2.54 -4.40h5.08l2.54 4.40l-2.54 4.40h-5.08zM1006.7 883.1l2.54 -4.40h5.08l2.54 4.40l-2.54 4.40h-5.08zM1006.7 891.9l2.54 -4.40h5.08l2.54 4.40l-2.54 4.40h-5.08zM1006.7 900.7l2.54 -4.40h5.08l2.54 4.40l-2.54 4.40h-5.08zM1006.7 918.2l2.54 -4.40h5.08l2.54 4.40l-2.54 4.40h-5.08zM1006.7 935.8l2.54 -4.40h5.08l2.54 4.40l-2.54 4.40h-5.08zM1006.7 953.4l2.54 -4.40h5.08l2.54 4.40l-2.54 4.40h-5.08zM1006.7 962.2l2.54 -4.40h5.08l2.54 4.40l-2.54 4.40h-5.08zM1014.3 676.4l2.54 -4.40h5.08l2.54 4.40l-2.54 4.40h-5.08zM1014.3 755.5l2.54 -4.40h5.08l2.54 4.40l-2.54 4.40h-5.08zM1014.3 773.1l2.54 -4.40h5.08l2.54 4.40l-2.54 4.40h-5.08zM1014.3 790.7l2.54 -4.40h5.08l2.54 4.40l-2.54 4.40h-5.08zM1014.3 825.9l2.54 -4.40h5.08l2.54 4.40l-2.54 4.40h-5.08zM1014.3 852.3l2.54 -4.40h5.08l2.54 4.40l-2.54 4.40h-5.08zM1014.3 878.7l2.54 -4.40h5.08l2.54 4.40l-2.54 4.40h-5.08zM1014.3 913.9l2.54 -4.40h5.08l2.54 4.40l-2.54 4.40h-5.08zM1014.3 922.6l2.54 -4.40h5.08l2.54 4.40l-2.54 4.40h-5.08zM1021.9 654.4l2.54 -4.40h5.08l2.54 4.40l-2.54 4.40h-5.08zM1021.9 672.0l2.54 -4.40h5.08l2.54 4.40l-2.54 4.40h-5.08zM1021.9 786.3l2.54 -4.40h5.08l2.54 4.40l-2.54 4.40h-5.08zM1021.9 865.5l2.54 -4.40h5.08l2.54 4.40l-2.54 4.40h-5.08zM1021.9 900.7l2.54 -4.40h5.08l2.54 4.40l-2.54 4.40h-5.08zM1021.9 909.5l2.54 -4.40h5.08l2.54 4.40l-2.54 4.40h-5.08zM1021.9 918.2l2.54 -4.40h5.08l2.54 4.40l-2.54 4.40h-5.08zM1021.9 935.8l2.54 -4.40h5.08l2.54 4.40l-2.54 4.40h-5.08zM1029.5 658.8l2.54 -4.40h5.08l2.54 4.40l-2.54 4.40h-5.08zM1029.5 702.8l2.54 -4.40h5.08l2.54 4.40l-2.54 4.40h-5.08zM1029.5 720.4l2.54 -4.40h5.08l2.54 4.40l-2.54 4.40h-5.08zM1029.5 729.2l2.54 -4.40h5.08l2.54 4.40l-2.54 4.40h-5.08zM1029.5 861.1l2.54 -4.40h5.08l2.54 4.40l-2.54 4.40h-5.08zM1029.5 869.9l2.54 -4.40h5.08l2.54 4.40l-2.54 4.40h-5.08zM1029.5 957.8l2.54 -4.40h5.08l2.54 4.40l-2.54 4.40h-5.08zM1037.2 724.8l2.54 -4.40h5.08l2.54 4.40l-2.54 4.40h-5.08zM1037.2 812.7l2.54 -4.40h5.08l2.54 4.40l-2.54 4.40h-5.08zM1037.2 847.9l2.54 -4.40h5.08l2.54 4.40l-2.54 4.40h-5.08zM1037.2 883.1l2.54 -4.40h5.08l2.54 4.40l-2.54 4.40h-5.08zM1037.2 953.4l2.54 -4.40h5.08l2.54 4.40l-2.54 4.40h-5.08zM1037.2 962.2l2.54 -4.40h5.08l2.54 4.40l-2.54 4.40h-5.08zM1044.8 720.4l2.54 -4.40h5.08l2.54 4.40l-2.54 4.40h-5.08zM1044.8 808.3l2.54 -4.40h5.08l2.54 4.40l-2.54 4.40h-5.08zM1044.8 817.1l2.54 -4.40h5.08l2.54 4.40l-2.54 4.40h-5.08zM1044.8 825.9l2.54 -4.40h5.08l2.54 4.40l-2.54 4.40h-5.08zM1044.8 852.3l2.54 -4.40h5.08l2.54 4.40l-2.54 4.40h-5.08zM1044.8 931.4l2.54 -4.40h5.08l2.54 4.40l-2.54 4.40h-5.08zM1044.8 940.2l2.54 -4.40h5.08l2.54 4.40l-2.54 4.40h-5.08zM1044.8 966.6l2.54 -4.40h5.08l2.54 4.40l-2.54 4.40h-5.08zM1052.4 803.9l2.54 -4.40h5.08l2.54 4.40l-2.54 4.40h-5.08zM1052.4 812.7l2.54 -4.40h5.08l2.54 4.40l-2.54 4.40h-5.08zM1052.4 821.5l2.54 -4.40h5.08l2.54 4.40l-2.54 4.40h-5.08zM1052.4 830.3l2.54 -4.40h5.08l2.54 4.40l-2.54 4.40h-5.08zM1052.4 847.9l2.54 -4.40h5.08l2.54 4.40l-2.54 4.40h-5.08zM1052.4 874.3l2.54 -4.40h5.08l2.54 4.40l-2.54 4.40h-5.08zM1052.4 883.1l2.54 -4.40h5.08l2.54 4.40l-2.54 4.40h-5.08zM1052.4 891.9l2.54 -4.40h5.08l2.54 4.40l-2.54 4.40h-5.08zM1052.4 918.2l2.54 -4.40h5.08l2.54 4.40l-2.54 4.40h-5.08zM1060.0 887.5l2.54 -4.40h5.08l2.54 4.40l-2.54 4.40h-5.08zM1060.0 957.8l2.54 -4.40h5.08l2.54 4.40l-2.54 4.40h-5.08zM1067.7 856.7l2.54 -4.40h5.08l2.54 4.40l-2.54 4.40h-5.08zM1067.7 891.9l2.54 -4.40h5.08l2.54 4.40l-2.54 4.40h-5.08zM1067.7 927.0l2.54 -4.40h5.08l2.54 4.40l-2.54 4.40h-5.08zM1067.7 935.8l2.54 -4.40h5.08l2.54 4.40l-2.54 4.40h-5.08zM1075.3 764.3l2.54 -4.40h5.08l2.54 4.40l-2.54 4.40h-5.08zM1075.3 773.1l2.54 -4.40h5.08l2.54 4.40l-2.54 4.40h-5.08zM1075.3 808.3l2.54 -4.40h5.08l2.54 4.40l-2.54 4.40h-5.08zM1075.3 843.5l2.54 -4.40h5.08l2.54 4.40l-2.54 4.40h-5.08zM1075.3 852.3l2.54 -4.40h5.08l2.54 4.40l-2.54 4.40h-5.08zM1075.3 878.7l2.54 -4.40h5.08l2.54 4.40l-2.54 4.40h-5.08zM1075.3 887.5l2.54 -4.40h5.08l2.54 4.40l-2.54 4.40h-5.08zM1075.3 896.3l2.54 -4.40h5.08l2.54 4.40l-2.54 4.40h-5.08zM1075.3 922.6l2.54 -4.40h5.08l2.54 4.40l-2.54 4.40h-5.08zM1075.3 931.4l2.54 -4.40h5.08l2.54 4.40l-2.54 4.40h-5.08zM1075.3 940.2l2.54 -4.40h5.08l2.54 4.40l-2.54 4.40h-5.08zM1082.9 759.9l2.54 -4.40h5.08l2.54 4.40l-2.54 4.40h-5.08zM1082.9 768.7l2.54 -4.40h5.08l2.54 4.40l-2.54 4.40h-5.08zM1082.9 786.3l2.54 -4.40h5.08l2.54 4.40l-2.54 4.40h-5.08zM1082.9 830.3l2.54 -4.40h5.08l2.54 4.40l-2.54 4.40h-5.08zM1082.9 839.1l2.54 -4.40h5.08l2.54 4.40l-2.54 4.40h-5.08zM1082.9 865.5l2.54 -4.40h5.08l2.54 4.40l-2.54 4.40h-5.08zM1082.9 883.1l2.54 -4.40h5.08l2.54 4.40l-2.54 4.40h-5.08zM1082.9 935.8l2.54 -4.40h5.08l2.54 4.40l-2.54 4.40h-5.08zM1090.5 764.3l2.54 -4.40h5.08l2.54 4.40l-2.54 4.40h-5.08zM1090.5 773.1l2.54 -4.40h5.08l2.54 4.40l-2.54 4.40h-5.08zM1090.5 781.9l2.54 -4.40h5.08l2.54 4.40l-2.54 4.40h-5.08zM1090.5 790.7l2.54 -4.40h5.08l2.54 4.40l-2.54 4.40h-5.08zM1090.5 808.3l2.54 -4.40h5.08l2.54 4.40l-2.54 4.40h-5.08zM1090.5 825.9l2.54 -4.40h5.08l2.54 4.40l-2.54 4.40h-5.08zM1090.5 861.1l2.54 -4.40h5.08l2.54 4.40l-2.54 4.40h-5.08zM1090.5 887.5l2.54 -4.40h5.08l2.54 4.40l-2.54 4.40h-5.08zM1090.5 913.9l2.54 -4.40h5.08l2.54 4.40l-2.54 4.40h-5.08zM1090.5 931.4l2.54 -4.40h5.08l2.54 4.40l-2.54 4.40h-5.08zM1090.5 940.2l2.54 -4.40h5.08l2.54 4.40l-2.54 4.40h-5.08zM1090.5 949.0l2.54 -4.40h5.08l2.54 4.40l-2.54 4.40h-5.08zM1090.5 957.8l2.54 -4.40h5.08l2.54 4.40l-2.54 4.40h-5.08zM1098.1 768.7l2.54 -4.40h5.08l2.54 4.40l-2.54 4.40h-5.08zM1098.1 803.9l2.54 -4.40h5.08l2.54 4.40l-2.54 4.40h-5.08zM1098.1 847.9l2.54 -4.40h5.08l2.54 4.40l-2.54 4.40h-5.08zM1105.8 790.7l2.54 -4.40h5.08l2.54 4.40l-2.54 4.40h-5.08zM1105.8 808.3l2.54 -4.40h5.08l2.54 4.40l-2.54 4.40h-5.08zM1105.8 834.7l2.54 -4.40h5.08l2.54 4.40l-2.54 4.40h-5.08zM1105.8 843.5l2.54 -4.40h5.08l2.54 4.40l-2.54 4.40h-5.08zM1105.8 861.1l2.54 -4.40h5.08l2.54 4.40l-2.54 4.40h-5.08zM1105.8 913.9l2.54 -4.40h5.08l2.54 4.40l-2.54 4.40h-5.08zM1113.4 768.7l2.54 -4.40h5.08l2.54 4.40l-2.54 4.40h-5.08zM1113.4 803.9l2.54 -4.40h5.08l2.54 4.40l-2.54 4.40h-5.08zM1113.4 856.7l2.54 -4.40h5.08l2.54 4.40l-2.54 4.40h-5.08zM1121.0 808.3l2.54 -4.40h5.08l2.54 4.40l-2.54 4.40h-5.08zM1121.0 940.2l2.54 -4.40h5.08l2.54 4.40l-2.54 4.40h-5.08zM1128.6 795.1l2.54 -4.40h5.08l2.54 4.40l-2.54 4.40h-5.08zM1128.6 803.9l2.54 -4.40h5.08l2.54 4.40l-2.54 4.40h-5.08zM1128.6 847.9l2.54 -4.40h5.08l2.54 4.40l-2.54 4.40h-5.08zM1128.6 909.5l2.54 -4.40h5.08l2.54 4.40l-2.54 4.40h-5.08zM1136.3 799.5l2.54 -4.40h5.08l2.54 4.40l-2.54 4.40h-5.08zM537.8 381.2l2.49 -4.31h4.97l2.49 4.31l-2.49 4.31h-4.97zM552.8 355.3l2.49 -4.31h4.97l2.49 4.31l-2.49 4.31h-4.97zM560.2 299.3l2.49 -4.31h4.97l2.49 4.31l-2.49 4.31h-4.97zM560.2 351.0l2.49 -4.31h4.97l2.49 4.31l-2.49 4.31h-4.97zM582.6 407.1l2.49 -4.31h4.97l2.49 4.31l-2.49 4.31h-4.97zM597.5 303.6l2.49 -4.31h4.97l2.49 4.31l-2.49 4.31h-4.97zM597.5 363.9l2.49 -4.31h4.97l2.49 4.31l-2.49 4.31h-4.97zM605.0 264.8l2.49 -4.31h4.97l2.49 4.31l-2.49 4.31h-4.97zM605.0 471.7l2.49 -4.31h4.97l2.49 4.31l-2.49 4.31h-4.97zM612.4 424.3l2.49 -4.31h4.97l2.49 4.31l-2.49 4.31h-4.97zM612.4 467.4l2.49 -4.31h4.97l2.49 4.31l-2.49 4.31h-4.97zM619.9 368.3l2.49 -4.31h4.97l2.49 4.31l-2.49 4.31h-4.97zM619.9 488.9l2.49 -4.31h4.97l2.49 4.31l-2.49 4.31h-4.97zM627.4 217.4l2.49 -4.31h4.97l2.49 4.31l-2.49 4.31h-4.97zM627.4 458.8l2.49 -4.31h4.97l2.49 4.31l-2.49 4.31h-4.97zM627.4 493.2l2.49 -4.31h4.97l2.49 4.31l-2.49 4.31h-4.97zM627.4 519.1l2.49 -4.31h4.97l2.49 4.31l-2.49 4.31h-4.97zM634.8 385.5l2.49 -4.31h4.97l2.49 4.31l-2.49 4.31h-4.97zM634.8 488.9l2.49 -4.31h4.97l2.49 4.31l-2.49 4.31h-4.97zM634.8 514.8l2.49 -4.31h4.97l2.49 4.31l-2.49 4.31h-4.97zM634.8 523.4l2.49 -4.31h4.97l2.49 4.31l-2.49 4.31h-4.97zM634.8 532.0l2.49 -4.31h4.97l2.49 4.31l-2.49 4.31h-4.97zM642.3 303.6l2.49 -4.31h4.97l2.49 4.31l-2.49 4.31h-4.97zM649.7 290.7l2.49 -4.31h4.97l2.49 4.31l-2.49 4.31h-4.97zM649.7 333.8l2.49 -4.31h4.97l2.49 4.31l-2.49 4.31h-4.97zM657.2 527.7l2.49 -4.31h4.97l2.49 4.31l-2.49 4.31h-4.97zM664.7 359.6l2.49 -4.31h4.97l2.49 4.31l-2.49 4.31h-4.97zM664.7 376.9l2.49 -4.31h4.97l2.49 4.31l-2.49 4.31h-4.97zM664.7 437.2l2.49 -4.31h4.97l2.49 4.31l-2.49 4.31h-4.97zM664.7 523.4l2.49 -4.31h4.97l2.49 4.31l-2.49 4.31h-4.97zM672.1 295.0l2.49 -4.31h4.97l2.49 4.31l-2.49 4.31h-4.97zM672.1 338.1l2.49 -4.31h4.97l2.49 4.31l-2.49 4.31h-4.97zM672.1 346.7l2.49 -4.31h4.97l2.49 4.31l-2.49 4.31h-4.97zM672.1 372.6l2.49 -4.31h4.97l2.49 4.31l-2.49 4.31h-4.97zM672.1 441.5l2.49 -4.31h4.97l2.49 4.31l-2.49 4.31h-4.97zM672.1 458.8l2.49 -4.31h4.97l2.49 4.31l-2.49 4.31h-4.97zM672.1 536.3l2.49 -4.31h4.97l2.49 4.31l-2.49 4.31h-4.97zM679.6 264.8l2.49 -4.31h4.97l2.49 4.31l-2.49 4.31h-4.97zM679.6 342.4l2.49 -4.31h4.97l2.49 4.31l-2.49 4.31h-4.97zM679.6 445.8l2.49 -4.31h4.97l2.49 4.31l-2.49 4.31h-4.97zM679.6 549.3l2.49 -4.31h4.97l2.49 4.31l-2.49 4.31h-4.97zM679.6 583.8l2.49 -4.31h4.97l2.49 4.31l-2.49 4.31h-4.97zM679.6 592.4l2.49 -4.31h4.97l2.49 4.31l-2.49 4.31h-4.97zM687.0 424.3l2.49 -4.31h4.97l2.49 4.31l-2.49 4.31h-4.97zM687.0 458.8l2.49 -4.31h4.97l2.49 4.31l-2.49 4.31h-4.97zM687.0 553.6l2.49 -4.31h4.97l2.49 4.31l-2.49 4.31h-4.97zM687.0 562.2l2.49 -4.31h4.97l2.49 4.31l-2.49 4.31h-4.97zM694.5 471.7l2.49 -4.31h4.97l2.49 4.31l-2.49 4.31h-4.97zM694.5 488.9l2.49 -4.31h4.97l2.49 4.31l-2.49 4.31h-4.97zM694.5 523.4l2.49 -4.31h4.97l2.49 4.31l-2.49 4.31h-4.97zM694.5 566.5l2.49 -4.31h4.97l2.49 4.31l-2.49 4.31h-4.97zM702.0 269.1l2.49 -4.31h4.97l2.49 4.31l-2.49 4.31h-4.97zM702.0 320.9l2.49 -4.31h4.97l2.49 4.31l-2.49 4.31h-4.97zM702.0 432.9l2.49 -4.31h4.97l2.49 4.31l-2.49 4.31h-4.97zM709.4 282.1l2.49 -4.31h4.97l2.49 4.31l-2.49 4.31h-4.97zM709.4 299.3l2.49 -4.31h4.97l2.49 4.31l-2.49 4.31h-4.97zM709.4 359.6l2.49 -4.31h4.97l2.49 4.31l-2.49 4.31h-4.97zM709.4 402.7l2.49 -4.31h4.97l2.49 4.31l-2.49 4.31h-4.97zM709.4 514.8l2.49 -4.31h4.97l2.49 4.31l-2.49 4.31h-4.97zM709.4 523.4l2.49 -4.31h4.97l2.49 4.31l-2.49 4.31h-4.97zM709.4 575.1l2.49 -4.31h4.97l2.49 4.31l-2.49 4.31h-4.97zM709.4 583.8l2.49 -4.31h4.97l2.49 4.31l-2.49 4.31h-4.97zM716.9 286.4l2.49 -4.31h4.97l2.49 4.31l-2.49 4.31h-4.97zM716.9 295.0l2.49 -4.31h4.97l2.49 4.31l-2.49 4.31h-4.97zM716.9 458.8l2.49 -4.31h4.97l2.49 4.31l-2.49 4.31h-4.97zM716.9 510.5l2.49 -4.31h4.97l2.49 4.31l-2.49 4.31h-4.97zM724.3 264.8l2.49 -4.31h4.97l2.49 4.31l-2.49 4.31h-4.97zM724.3 282.1l2.49 -4.31h4.97l2.49 4.31l-2.49 4.31h-4.97zM724.3 351.0l2.49 -4.31h4.97l2.49 4.31l-2.49 4.31h-4.97zM724.3 445.8l2.49 -4.31h4.97l2.49 4.31l-2.49 4.31h-4.97zM724.3 480.3l2.49 -4.31h4.97l2.49 4.31l-2.49 4.31h-4.97zM724.3 488.9l2.49 -4.31h4.97l2.49 4.31l-2.49 4.31h-4.97zM724.3 506.2l2.49 -4.31h4.97l2.49 4.31l-2.49 4.31h-4.97zM724.3 523.4l2.49 -4.31h4.97l2.49 4.31l-2.49 4.31h-4.97zM724.3 575.1l2.49 -4.31h4.97l2.49 4.31l-2.49 4.31h-4.97zM731.8 260.5l2.49 -4.31h4.97l2.49 4.31l-2.49 4.31h-4.97zM731.8 286.4l2.49 -4.31h4.97l2.49 4.31l-2.49 4.31h-4.97zM731.8 303.6l2.49 -4.31h4.97l2.49 4.31l-2.49 4.31h-4.97zM731.8 346.7l2.49 -4.31h4.97l2.49 4.31l-2.49 4.31h-4.97zM731.8 363.9l2.49 -4.31h4.97l2.49 4.31l-2.49 4.31h-4.97zM731.8 432.9l2.49 -4.31h4.97l2.49 4.31l-2.49 4.31h-4.97zM731.8 579.4l2.49 -4.31h4.97l2.49 4.31l-2.49 4.31h-4.97zM739.3 230.3l2.49 -4.31h4.97l2.49 4.31l-2.49 4.31h-4.97zM739.3 273.4l2.49 -4.31h4.97l2.49 4.31l-2.49 4.31h-4.97zM739.3 290.7l2.49 -4.31h4.97l2.49 4.31l-2.49 4.31h-4.97zM739.3 307.9l2.49 -4.31h4.97l2.49 4.31l-2.49 4.31h-4.97zM739.3 351.0l2.49 -4.31h4.97l2.49 4.31l-2.49 4.31h-4.97zM739.3 445.8l2.49 -4.31h4.97l2.49 4.31l-2.49 4.31h-4.97zM739.3 480.3l2.49 -4.31h4.97l2.49 4.31l-2.49 4.31h-4.97zM746.7 217.4l2.49 -4.31h4.97l2.49 4.31l-2.49 4.31h-4.97zM746.7 226.0l2.49 -4.31h4.97l2.49 4.31l-2.49 4.31h-4.97zM746.7 277.8l2.49 -4.31h4.97l2.49 4.31l-2.49 4.31h-4.97zM746.7 329.5l2.49 -4.31h4.97l2.49 4.31l-2.49 4.31h-4.97zM746.7 458.8l2.49 -4.31h4.97l2.49 4.31l-2.49 4.31h-4.97zM746.7 484.6l2.49 -4.31h4.97l2.49 4.31l-2.49 4.31h-4.97zM746.7 536.3l2.49 -4.31h4.97l2.49 4.31l-2.49 4.31h-4.97zM754.2 230.3l2.49 -4.31h4.97l2.49 4.31l-2.49 4.31h-4.97zM754.2 325.2l2.49 -4.31h4.97l2.49 4.31l-2.49 4.31h-4.97zM754.2 445.8l2.49 -4.31h4.97l2.49 4.31l-2.49 4.31h-4.97zM754.2 463.1l2.49 -4.31h4.97l2.49 4.31l-2.49 4.31h-4.97zM754.2 540.7l2.49 -4.31h4.97l2.49 4.31l-2.49 4.31h-4.97zM761.6 234.6l2.49 -4.31h4.97l2.49 4.31l-2.49 4.31h-4.97zM761.6 303.6l2.49 -4.31h4.97l2.49 4.31l-2.49 4.31h-4.97zM761.6 312.2l2.49 -4.31h4.97l2.49 4.31l-2.49 4.31h-4.97zM761.6 329.5l2.49 -4.31h4.97l2.49 4.31l-2.49 4.31h-4.97zM761.6 450.1l2.49 -4.31h4.97l2.49 4.31l-2.49 4.31h-4.97zM769.1 221.7l2.49 -4.31h4.97l2.49 4.31l-2.49 4.31h-4.97zM769.1 239.0l2.49 -4.31h4.97l2.49 4.31l-2.49 4.31h-4.97zM769.1 299.3l2.49 -4.31h4.97l2.49 4.31l-2.49 4.31h-4.97zM769.1 411.4l2.49 -4.31h4.97l2.49 4.31l-2.49 4.31h-4.97zM769.1 445.8l2.49 -4.31h4.97l2.49 4.31l-2.49 4.31h-4.97zM769.1 454.5l2.49 -4.31h4.97l2.49 4.31l-2.49 4.31h-4.97zM769.1 480.3l2.49 -4.31h4.97l2.49 4.31l-2.49 4.31h-4.97zM769.1 557.9l2.49 -4.31h4.97l2.49 4.31l-2.49 4.31h-4.97zM776.6 182.9l2.49 -4.31h4.97l2.49 4.31l-2.49 4.31h-4.97zM776.6 191.5l2.49 -4.31h4.97l2.49 4.31l-2.49 4.31h-4.97zM776.6 217.4l2.49 -4.31h4.97l2.49 4.31l-2.49 4.31h-4.97zM776.6 329.5l2.49 -4.31h4.97l2.49 4.31l-2.49 4.31h-4.97zM776.6 338.1l2.49 -4.31h4.97l2.49 4.31l-2.49 4.31h-4.97zM776.6 355.3l2.49 -4.31h4.97l2.49 4.31l-2.49 4.31h-4.97zM776.6 398.4l2.49 -4.31h4.97l2.49 4.31l-2.49 4.31h-4.97zM776.6 458.8l2.49 -4.31h4.97l2.49 4.31l-2.49 4.31h-4.97zM784.0 161.4l2.49 -4.31h4.97l2.49 4.31l-2.49 4.31h-4.97zM784.0 170.0l2.49 -4.31h4.97l2.49 4.31l-2.49 4.31h-4.97zM784.0 213.1l2.49 -4.31h4.97l2.49 4.31l-2.49 4.31h-4.97zM784.0 221.7l2.49 -4.31h4.97l2.49 4.31l-2.49 4.31h-4.97zM784.0 351.0l2.49 -4.31h4.97l2.49 4.31l-2.49 4.31h-4.97zM784.0 454.5l2.49 -4.31h4.97l2.49 4.31l-2.49 4.31h-4.97zM784.0 471.7l2.49 -4.31h4.97l2.49 4.31l-2.49 4.31h-4.97zM784.0 557.9l2.49 -4.31h4.97l2.49 4.31l-2.49 4.31h-4.97zM791.5 157.1l2.49 -4.31h4.97l2.49 4.31l-2.49 4.31h-4.97zM791.5 165.7l2.49 -4.31h4.97l2.49 4.31l-2.49 4.31h-4.97zM791.5 174.3l2.49 -4.31h4.97l2.49 4.31l-2.49 4.31h-4.97zM791.5 182.9l2.49 -4.31h4.97l2.49 4.31l-2.49 4.31h-4.97zM791.5 303.6l2.49 -4.31h4.97l2.49 4.31l-2.49 4.31h-4.97zM791.5 372.6l2.49 -4.31h4.97l2.49 4.31l-2.49 4.31h-4.97zM791.5 381.2l2.49 -4.31h4.97l2.49 4.31l-2.49 4.31h-4.97zM791.5 424.3l2.49 -4.31h4.97l2.49 4.31l-2.49 4.31h-4.97zM791.5 458.8l2.49 -4.31h4.97l2.49 4.31l-2.49 4.31h-4.97zM791.5 476.0l2.49 -4.31h4.97l2.49 4.31l-2.49 4.31h-4.97zM791.5 501.9l2.49 -4.31h4.97l2.49 4.31l-2.49 4.31h-4.97zM798.9 325.2l2.49 -4.31h4.97l2.49 4.31l-2.49 4.31h-4.97zM798.9 342.4l2.49 -4.31h4.97l2.49 4.31l-2.49 4.31h-4.97zM798.9 351.0l2.49 -4.31h4.97l2.49 4.31l-2.49 4.31h-4.97zM798.9 445.8l2.49 -4.31h4.97l2.49 4.31l-2.49 4.31h-4.97zM798.9 532.0l2.49 -4.31h4.97l2.49 4.31l-2.49 4.31h-4.97zM806.4 312.2l2.49 -4.31h4.97l2.49 4.31l-2.49 4.31h-4.97zM806.4 346.7l2.49 -4.31h4.97l2.49 4.31l-2.49 4.31h-4.97zM806.4 381.2l2.49 -4.31h4.97l2.49 4.31l-2.49 4.31h-4.97zM806.4 407.1l2.49 -4.31h4.97l2.49 4.31l-2.49 4.31h-4.97zM806.4 415.7l2.49 -4.31h4.97l2.49 4.31l-2.49 4.31h-4.97zM806.4 467.4l2.49 -4.31h4.97l2.49 4.31l-2.49 4.31h-4.97zM806.4 493.2l2.49 -4.31h4.97l2.49 4.31l-2.49 4.31h-4.97zM813.9 333.8l2.49 -4.31h4.97l2.49 4.31l-2.49 4.31h-4.97zM813.9 402.7l2.49 -4.31h4.97l2.49 4.31l-2.49 4.31h-4.97zM813.9 471.7l2.49 -4.31h4.97l2.49 4.31l-2.49 4.31h-4.97zM813.9 480.3l2.49 -4.31h4.97l2.49 4.31l-2.49 4.31h-4.97zM813.9 497.6l2.49 -4.31h4.97l2.49 4.31l-2.49 4.31h-4.97zM813.9 506.2l2.49 -4.31h4.97l2.49 4.31l-2.49 4.31h-4.97zM821.3 320.9l2.49 -4.31h4.97l2.49 4.31l-2.49 4.31h-4.97zM821.3 355.3l2.49 -4.31h4.97l2.49 4.31l-2.49 4.31h-4.97zM821.3 493.2l2.49 -4.31h4.97l2.49 4.31l-2.49 4.31h-4.97zM828.8 333.8l2.49 -4.31h4.97l2.49 4.31l-2.49 4.31h-4.97zM828.8 359.6l2.49 -4.31h4.97l2.49 4.31l-2.49 4.31h-4.97zM828.8 488.9l2.49 -4.31h4.97l2.49 4.31l-2.49 4.31h-4.97zM836.2 346.7l2.49 -4.31h4.97l2.49 4.31l-2.49 4.31h-4.97zM851.2 53.6l2.49 -4.31h4.97l2.49 4.31l-2.49 4.31h-4.97zM851.2 329.5l2.49 -4.31h4.97l2.49 4.31l-2.49 4.31h-4.97zM866.1 36.4l2.49 -4.31h4.97l2.49 4.31l-2.49 4.31h-4.97zM866.1 62.2l2.49 -4.31h4.97l2.49 4.31l-2.49 4.31h-4.97zM873.5 57.9l2.49 -4.31h4.97l2.49 4.31l-2.49 4.31h-4.97zM881.0 27.8l2.49 -4.31h4.97l2.49 4.31l-2.49 4.31h-4.97zM881.0 36.4l2.49 -4.31h4.97l2.49 4.31l-2.49 4.31h-4.97zM888.5 6.2l2.49 -4.31h4.97l2.49 4.31l-2.49 4.31h-4.97zM637.3 823.1l2.43 -4.21h4.85l2.43 4.21l-2.43 4.21h-4.85zM637.3 840.0l2.43 -4.21h4.85l2.43 4.21l-2.43 4.21h-4.85zM644.5 810.5l2.43 -4.21h4.85l2.43 4.21l-2.43 4.21h-4.85zM644.5 818.9l2.43 -4.21h4.85l2.43 4.21l-2.43 4.21h-4.85zM651.8 806.3l2.43 -4.21h4.85l2.43 4.21l-2.43 4.21h-4.85zM659.1 810.5l2.43 -4.21h4.85l2.43 4.21l-2.43 4.21h-4.85zM659.1 818.9l2.43 -4.21h4.85l2.43 4.21l-2.43 4.21h-4.85zM666.4 814.7l2.43 -4.21h4.85l2.43 4.21l-2.43 4.21h-4.85zM673.7 684.2l2.43 -4.21h4.85l2.43 4.21l-2.43 4.21h-4.85zM673.7 726.3l2.43 -4.21h4.85l2.43 4.21l-2.43 4.21h-4.85zM673.7 818.9l2.43 -4.21h4.85l2.43 4.21l-2.43 4.21h-4.85zM680.9 680.0l2.43 -4.21h4.85l2.43 4.21l-2.43 4.21h-4.85zM680.9 696.8l2.43 -4.21h4.85l2.43 4.21l-2.43 4.21h-4.85zM680.9 705.2l2.43 -4.21h4.85l2.43 4.21l-2.43 4.21h-4.85zM680.9 722.1l2.43 -4.21h4.85l2.43 4.21l-2.43 4.21h-4.85zM680.9 738.9l2.43 -4.21h4.85l2.43 4.21l-2.43 4.21h-4.85zM680.9 814.7l2.43 -4.21h4.85l2.43 4.21l-2.43 4.21h-4.85zM688.2 675.8l2.43 -4.21h4.85l2.43 4.21l-2.43 4.21h-4.85zM688.2 684.2l2.43 -4.21h4.85l2.43 4.21l-2.43 4.21h-4.85zM688.2 692.6l2.43 -4.21h4.85l2.43 4.21l-2.43 4.21h-4.85zM688.2 810.5l2.43 -4.21h4.85l2.43 4.21l-2.43 4.21h-4.85zM688.2 818.9l2.43 -4.21h4.85l2.43 4.21l-2.43 4.21h-4.85zM688.2 852.6l2.43 -4.21h4.85l2.43 4.21l-2.43 4.21h-4.85zM695.5 688.4l2.43 -4.21h4.85l2.43 4.21l-2.43 4.21h-4.85zM695.5 696.8l2.43 -4.21h4.85l2.43 4.21l-2.43 4.21h-4.85zM695.5 797.9l2.43 -4.21h4.85l2.43 4.21l-2.43 4.21h-4.85zM695.5 823.1l2.43 -4.21h4.85l2.43 4.21l-2.43 4.21h-4.85zM702.8 701.0l2.43 -4.21h4.85l2.43 4.21l-2.43 4.21h-4.85zM702.8 852.6l2.43 -4.21h4.85l2.43 4.21l-2.43 4.21h-4.85zM710.1 806.3l2.43 -4.21h4.85l2.43 4.21l-2.43 4.21h-4.85zM710.1 823.1l2.43 -4.21h4.85l2.43 4.21l-2.43 4.21h-4.85zM717.3 709.5l2.43 -4.21h4.85l2.43 4.21l-2.43 4.21h-4.85zM717.3 717.9l2.43 -4.21h4.85l2.43 4.21l-2.43 4.21h-4.85zM717.3 793.7l2.43 -4.21h4.85l2.43 4.21l-2.43 4.21h-4.85zM717.3 802.1l2.43 -4.21h4.85l2.43 4.21l-2.43 4.21h-4.85zM724.6 713.7l2.43 -4.21h4.85l2.43 4.21l-2.43 4.21h-4.85zM724.6 722.1l2.43 -4.21h4.85l2.43 4.21l-2.43 4.21h-4.85zM724.6 730.5l2.43 -4.21h4.85l2.43 4.21l-2.43 4.21h-4.85zM724.6 738.9l2.43 -4.21h4.85l2.43 4.21l-2.43 4.21h-4.85zM724.6 823.1l2.43 -4.21h4.85l2.43 4.21l-2.43 4.21h-4.85zM724.6 865.2l2.43 -4.21h4.85l2.43 4.21l-2.43 4.21h-4.85zM731.9 717.9l2.43 -4.21h4.85l2.43 4.21l-2.43 4.21h-4.85zM731.9 768.4l2.43 -4.21h4.85l2.43 4.21l-2.43 4.21h-4.85zM731.9 793.7l2.43 -4.21h4.85l2.43 4.21l-2.43 4.21h-4.85zM731.9 810.5l2.43 -4.21h4.85l2.43 4.21l-2.43 4.21h-4.85zM731.9 844.2l2.43 -4.21h4.85l2.43 4.21l-2.43 4.21h-4.85zM731.9 869.4l2.43 -4.21h4.85l2.43 4.21l-2.43 4.21h-4.85zM739.2 713.7l2.43 -4.21h4.85l2.43 4.21l-2.43 4.21h-4.85zM739.2 823.1l2.43 -4.21h4.85l2.43 4.21l-2.43 4.21h-4.85zM739.2 865.2l2.43 -4.21h4.85l2.43 4.21l-2.43 4.21h-4.85zM746.4 717.9l2.43 -4.21h4.85l2.43 4.21l-2.43 4.21h-4.85zM746.4 827.3l2.43 -4.21h4.85l2.43 4.21l-2.43 4.21h-4.85zM753.7 747.4l2.43 -4.21h4.85l2.43 4.21l-2.43 4.21h-4.85zM753.7 755.8l2.43 -4.21h4.85l2.43 4.21l-2.43 4.21h-4.85zM753.7 781.0l2.43 -4.21h4.85l2.43 4.21l-2.43 4.21h-4.85zM753.7 865.2l2.43 -4.21h4.85l2.43 4.21l-2.43 4.21h-4.85zM761.0 709.5l2.43 -4.21h4.85l2.43 4.21l-2.43 4.21h-4.85zM761.0 776.8l2.43 -4.21h4.85l2.43 4.21l-2.43 4.21h-4.85zM768.3 705.2l2.43 -4.21h4.85l2.43 4.21l-2.43 4.21h-4.85zM768.3 713.7l2.43 -4.21h4.85l2.43 4.21l-2.43 4.21h-4.85z"/>
<path fill="#7f9dea" d="M686.6 1032.6l2.54 -4.40h5.08l2.54 4.40l-2.54 4.40h-5.08zM709.4 1028.2l2.54 -4.40h5.08l2.54 4.40l-2.54 4.40h-5.08zM717.0 1015.0l2.54 -4.40h5.08l2.54 4.40l-2.54 4.40h-5.08zM724.7 1028.2l2.54 -4.40h5.08l2.54 4.40l-2.54 4.40h-5.08zM732.3 997.4l2.54 -4.40h5.08l2.54 4.40l-2.54 4.40h-5.08zM732.3 1023.8l2.54 -4.40h5.08l2.54 4.40l-2.54 4.40h-5.08zM739.9 1010.6l2.54 -4.40h5.08l2.54 4.40l-2.54 4.40h-5.08zM747.5 1015.0l2.54 -4.40h5.08l2.54 4.40l-2.54 4.40h-5.08zM747.5 1023.8l2.54 -4.40h5.08l2.54 4.40l-2.54 4.40h-5.08zM755.2 984.2l2.54 -4.40h5.08l2.54 4.40l-2.54 4.40h-5.08zM755.2 993.0l2.54 -4.40h5.08l2.54 4.40l-2.54 4.40h-5.08zM762.8 953.4l2.54 -4.40h5.08l2.54 4.40l-2.54 4.40h-5.08zM762.8 962.2l2.54 -4.40h5.08l2.54 4.40l-2.54 4.40h-5.08zM762.8 988.6l2.54 -4.40h5.08l2.54 4.40l-2.54 4.40h-5.08zM770.4 966.6l2.54 -4.40h5.08l2.54 4.40l-2.54 4.40h-5.08zM770.4 984.2l2.54 -4.40h5.08l2.54 4.40l-2.54 4.40h-5.08zM770.4 1019.4l2.54 -4.40h5.08l2.54 4.40l-2.54 4.40h-5.08zM778.0 953.4l2.54 -4.40h5.08l2.54 4.40l-2.54 4.40h-5.08zM778.0 962.2l2.54 -4.40h5.08l2.54 4.40l-2.54 4.40h-5.08zM778.0 971.0l2.54 -4.40h5.08l2.54 4.40l-2.54 4.40h-5.08zM778.0 997.4l2.54 -4.40h5.08l2.54 4.40l-2.54 4.40h-5.08zM785.6 984.2l2.54 -4.40h5.08l2.54 4.40l-2.54 4.40h-5.08zM785.6 1001.8l2.54 -4.40h5.08l2.54 4.40l-2.54 4.40h-5.08zM785.6 1019.4l2.54 -4.40h5.08l2.54 4.40l-2.54 4.40h-5.08zM793.3 997.4l2.54 -4.40h5.08l2.54 4.40l-2.54 4.40h-5.08zM793.3 1006.2l2.54 -4.40h5.08l2.54 4.40l-2.54 4.40h-5.08zM800.9 1019.4l2.54 -4.40h5.08l2.54 4.40l-2.54 4.40h-5.08zM808.5 927.0l2.54 -4.40h5.08l2.54 4.40l-2.54 4.40h-5.08zM808.5 944.6l2.54 -4.40h5.08l2.54 4.40l-2.54 4.40h-5.08zM808.5 962.2l2.54 -4.40h5.08l2.54 4.40l-2.54 4.40h-5.08zM808.5 979.8l2.54 -4.40h5.08l2.54 4.40l-2.54 4.40h-5.08zM808.5 988.6l2.54 -4.40h5.08l2.54 4.40l-2.54 4.40h-5.08zM808.5 997.4l2.54 -4.40h5.08l2.54 4.40l-2.54 4.40h-5.08zM808.5 1006.2l2.54 -4.40h5.08l2.54 4.40l-2.54 4.40h-5.08zM816.1 975.4l2.54 -4.40h5.08l2.54 4.40l-2.54 4.40h-5.08zM816.1 1019.4l2.54 -4.40h5.08l2.54 4.40l-2.54 4.40h-5.08zM823.8 953.4l2.54 -4.40h5.08l2.54 4.40l-2.54 4.40h-5.08zM823.8 1015.0l2.54 -4.40h5.08l2.54 4.40l-2.54 4.40h-5.08zM831.4 614.8l2.54 -4.40h5.08l2.54 4.40l-2.54 4.40h-5.08zM831.4 957.8l2.54 -4.40h5.08l2.54 4.40l-2.54 4.40h-5.08zM839.0 953.4l2.54 -4.40h5.08l2.54 4.40l-2.54 4.40h-5.08zM846.6 579.6l2.54 -4.40h5.08l2.54 4.40l-2.54 4.40h-5.08zM846.6 650.0l2.54 -4.40h5.08l2.54 4.40l-2.54 4.40h-5.08zM846.6 975.4l2.54 -4.40h5.08l2.54 4.40l-2.54 4.40h-5.08zM854.2 592.8l2.54 -4.40h5.08l2.54 4.40l-2.54 4.40h-5.08zM854.2 724.8l2.54 -4.40h5.08l2.54 4.40l-2.54 4.40h-5.08zM854.2 777.5l2.54 -4.40h5.08l2.54 4.40l-2.54 4.40h-5.08zM854.2 795.1l2.54 -4.40h5.08l2.54 4.40l-2.54 4.40h-5.08zM854.2 803.9l2.54 -4.40h5.08l2.54 4.40l-2.54 4.40h-5.08zM854.2 839.1l2.54 -4.40h5.08l2.54 4.40l-2.54 4.40h-5.08zM854.2 856.7l2.54 -4.40h5.08l2.54 4.40l-2.54 4.40h-5.08zM854.2 944.6l2.54 -4.40h5.08l2.54 4.40l-2.54 4.40h-5.08zM861.9 632.4l2.54 -4.40h5.08l2.54 4.40l-2.54 4.40h-5.08zM861.9 852.3l2.54 -4.40h5.08l2.54 4.40l-2.54 4.40h-5.08zM861.9 861.1l2.54 -4.40h5.08l2.54 4.40l-2.54 4.40h-5.08zM861.9 931.4l2.54 -4.40h5.08l2.54 4.40l-2.54 4.40h-5.08zM861.9 957.8l2.54 -4.40h5.08l2.54 4.40l-2.54 4.40h-5.08zM861.9 984.2l2.54 -4.40h5.08l2.54 4.40l-2.54 4.40h-5.08zM869.5 742.4l2.54 -4.40h5.08l2.54 4.40l-2.54 4.40h-5.08zM869.5 795.1l2.54 -4.40h5.08l2.54 4.40l-2.54 4.40h-5.08zM869.5 839.1l2.54 -4.40h5.08l2.54 4.40l-2.54 4.40h-5.08zM869.5 856.7l2.54 -4.40h5.08l2.54 4.40l-2.54 4.40h-5.08zM869.5 979.8l2.54 -4.40h5.08l2.54 4.40l-2.54 4.40h-5.08zM877.1 667.6l2.54 -4.40h5.08l2.54 4.40l-2.54 4.40h-5.08zM877.1 720.4l2.54 -4.40h5.08l2.54 4.40l-2.54 4.40h-5.08zM877.1 764.3l2.54 -4.40h5.08l2.54 4.40l-2.54 4.40h-5.08zM877.1 781.9l2.54 -4.40h5.08l2.54 4.40l-2.54 4.40h-5.08zM877.1 808.3l2.54 -4.40h5.08l2.54 4.40l-2.54 4.40h-5.08zM877.1 878.7l2.54 -4.40h5.08l2.54 4.40l-2.54 4.40h-5.08zM884.7 566.5l2.54 -4.40h5.08l2.54 4.40l-2.54 4.40h-5.08zM884.7 592.8l2.54 -4.40h5.08l2.54 4.40l-2.54 4.40h-5.08zM884.7 672.0l2.54 -4.40h5.08l2.54 4.40l-2.54 4.40h-5.08zM884.7 777.5l2.54 -4.40h5.08l2.54 4.40l-2.54 4.40h-5.08zM884.7 803.9l2.54 -4.40h5.08l2.54 4.40l-2.54 4.40h-5.08zM884.7 830.3l2.54 -4.40h5.08l2.54 4.40l-2.54 4.40h-5.08zM884.7 874.3l2.54 -4.40h5.08l2.54 4.40l-2.54 4.40h-5.08zM884.7 988.6l2.54 -4.40h5.08l2.54 4.40l-2.54 4.40h-5.08zM892.4 544.5l2.54 -4.40h5.08l2.54 4.40l-2.54 4.40h-5.08zM892.4 579.6l2.54 -4.40h5.08l2.54 4.40l-2.54 4.40h-5.08zM892.4 667.6l2.54 -4.40h5.08l2.54 4.40l-2.54 4.40h-5.08zM892.4 676.4l2.54 -4.40h5.08l2.54 4.40l-2.54 4.40h-5.08zM892.4 790.7l2.54 -4.40h5.08l2.54 4.40l-2.54 4.40h-5.08zM892.4 799.5l2.54 -4.40h5.08l2.54 4.40l-2.54 4.40h-5.08zM892.4 808.3l2.54 -4.40h5.08l2.54 4.40l-2.54 4.40h-5.08zM892.4 905.1l2.54 -4.40h5.08l2.54 4.40l-2.54 4.40h-5.08zM900.0 531.3l2.54 -4.40h5.08l2.54 4.40l-2.54 4.40h-5.08zM900.0 636.8l2.54 -4.40h5.08l2.54 4.40l-2.54 4.40h-5.08zM900.0 663.2l2.54 -4.40h5.08l2.54 4.40l-2.54 4.40h-5.08zM900.0 672.0l2.54 -4.40h5.08l2.54 4.40l-2.54 4.40h-5.08zM900.0 680.8l2.54 -4.40h5.08l2.54 4.40l-2.54 4.40h-5.08zM900.0 698.4l2.54 -4.40h5.08l2.54 4.40l-2.54 4.40h-5.08zM900.0 733.6l2.54 -4.40h5.08l2.54 4.40l-2.54 4.40h-5.08zM900.0 751.1l2.54 -4.40h5.08l2.54 4.40l-2.54 4.40h-5.08zM900.0 795.1l2.54 -4.40h5.08l2.54 4.40l-2.54 4.40h-5.08zM900.0 803.9l2.54 -4.40h5.08l2.54 4.40l-2.54 4.40h-5.08zM900.0 821.5l2.54 -4.40h5.08l2.54 4.40l-2.54 4.40h-5.08zM900.0 909.5l2.54 -4.40h5.08l2.54 4.40l-2.54 4.40h-5.08zM900.0 918.2l2.54 -4.40h5.08l2.54 4.40l-2.54 4.40h-5.08zM900.0 935.8l2.54 -4.40h5.08l2.54 4.40l-2.54 4.40h-5.08zM900.0 953.4l2.54 -4.40h5.08l2.54 4.40l-2.54 4.40h-5.08zM900.0 962.2l2.54 -4.40h5.08l2.54 4.40l-2.54 4.40h-5.08zM907.6 526.9l2.54 -4.40h5.08l2.54 4.40l-2.54 4.40h-5.08zM907.6 562.1l2.54 -4.40h5.08l2.54 4.40l-2.54 4.40h-5.08zM907.6 570.8l2.54 -4.40h5.08l2.54 4.40l-2.54 4.40h-5.08zM907.6 588.4l2.54 -4.40h5.08l2.54 4.40l-2.54 4.40h-5.08zM907.6 606.0l2.54 -4.40h5.08l2.54 4.40l-2.54 4.40h-5.08zM907.6 632.4l2.54 -4.40h5.08l2.54 4.40l-2.54 4.40h-5.08zM907.6 790.7l2.54 -4.40h5.08l2.54 4.40l-2.54 4.40h-5.08zM907.6 799.5l2.54 -4.40h5.08l2.54 4.40l-2.54 4.40h-5.08zM907.6 825.9l2.54 -4.40h5.08l2.54 4.40l-2.54 4.40h-5.08zM907.6 878.7l2.54 -4.40h5.08l2.54 4.40l-2.54 4.40h-5.08zM907.6 940.2l2.54 -4.40h5.08l2.54 4.40l-2.54 4.40h-5.08zM907.6 993.0l2.54 -4.40h5.08l2.54 4.40l-2.54 4.40h-5.08zM915.2 540.1l2.54 -4.40h5.08l2.54 4.40l-2.54 4.40h-5.08zM915.2 566.5l2.54 -4.40h5.08l2.54 4.40l-2.54 4.40h-5.08zM915.2 584.0l2.54 -4.40h5.08l2.54 4.40l-2.54 4.40h-5.08zM915.2 592.8l2.54 -4.40h5.08l2.54 4.40l-2.54 4.40h-5.08zM915.2 636.8l2.54 -4.40h5.08l2.54 4.40l-2.54 4.40h-5.08zM915.2 689.6l2.54 -4.40h5.08l2.54 4.40l-2.54 4.40h-5.08zM915.2 707.2l2.54 -4.40h5.08l2.54 4.40l-2.54 4.40h-5.08zM915.2 759.9l2.54 -4.40h5.08l2.54 4.40l-2.54 4.40h-5.08zM915.2 795.1l2.54 -4.40h5.08l2.54 4.40l-2.54 4.40h-5.08zM915.2 865.5l2.54 -4.40h5.08l2.54 4.40l-2.54 4.40h-5.08zM915.2 909.5l2.54 -4.40h5.08l2.54 4.40l-2.54 4.40h-5.08zM915.2 927.0l2.54 -4.40h5.08l2.54 4.40l-2.54 4.40h-5.08zM922.8 500.5l2.54 -4.40h5.08l2.54 4.40l-2.54 4.40h-5.08zM922.8 509.3l2.54 -4.40h5.08l2.54 4.40l-2.54 4.40h-5.08zM922.8 562.1l2.54 -4.40h5.08l2.54 4.40l-2.54 4.40h-5.08zM922.8 711.6l2.54 -4.40h5.08l2.54 4.40l-2.54 4.40h-5.08zM922.8 729.2l2.54 -4.40h5.08l2.54 4.40l-2.54 4.40h-5.08zM922.8 738.0l2.54 -4.40h5.08l2.54 4.40l-2.54 4.40h-5.08zM922.8 781.9l2.54 -4.40h5.08l2.54 4.40l-2.54 4.40h-5.08zM922.8 817.1l2.54 -4.40h5.08l2.54 4.40l-2.54 4.40h-5.08zM922.8 825.9l2.54 -4.40h5.08l2.54 4.40l-2.54 4.40h-5.08zM922.8 852.3l2.54 -4.40h5.08l2.54 4.40l-2.54 4.40h-5.08zM922.8 861.1l2.54 -4.40h5.08l2.54 4.40l-2.54 4.40h-5.08zM922.8 887.5l2.54 -4.40h5.08l2.54 4.40l-2.54 4.40h-5.08zM922.8 913.9l2.54 -4.40h5.08l2.54 4.40l-2.54 4.40h-5.08zM922.8 949.0l2.54 -4.40h5.08l2.54 4.40l-2.54 4.40h-5.08zM922.8 993.0l2.54 -4.40h5.08l2.54 4.40l-2.54 4.40h-5.08zM930.5 496.1l2.54 -4.40h5.08l2.54 4.40l-2.54 4.40h-5.08zM930.5 513.7l2.54 -4.40h5.08l2.54 4.40l-2.54 4.40h-5.08zM930.5 584.0l2.54 -4.40h5.08l2.54 4.40l-2.54 4.40h-5.08zM930.5 601.6l2.54 -4.40h5.08l2.54 4.40l-2.54 4.40h-5.08zM930.5 610.4l2.54 -4.40h5.08l2.54 4.40l-2.54 4.40h-5.08zM930.5 619.2l2.54 -4.40h5.08l2.54 4.40l-2.54 4.40h-5.08zM930.5 707.2l2.54 -4.40h5.08l2.54 4.40l-2.54 4.40h-5.08zM930.5 742.4l2.54 -4.40h5.08l2.54 4.40l-2.54 4.40h-5.08zM930.5 847.9l2.54 -4.40h5.08l2.54 4.40l-2.54 4.40h-5.08zM930.5 918.2l2.54 -4.40h5.08l2.54 4.40l-2.54 4.40h-5.08zM930.5 927.0l2.54 -4.40h5.08l2.54 4.40l-2.54 4.40h-5.08zM930.5 935.8l2.54 -4.40h5.08l2.54 4.40l-2.54 4.40h-5.08zM930.5 944.6l2.54 -4.40h5.08l2.54 4.40l-2.54 4.40h-5.08zM930.5 979.8l2.54 -4.40h5.08l2.54 4.40l-2.54 4.40h-5.08zM938.1 738.0l2.54 -4.40h5.08l2.54 4.40l-2.54 4.40h-5.08zM938.1 808.3l2.54 -4.40h5.08l2.54 4.40l-2.54 4.40h-5.08zM938.1 896.3l2.54 -4.40h5.08l2.54 4.40l-2.54 4.40h-5.08zM938.1 984.2l2.54 -4.40h5.08l2.54 4.40l-2.54 4.40h-5.08zM945.7 557.7l2.54 -4.40h5.08l2.54 4.40l-2.54 4.40h-5.08zM945.7 584.0l2.54 -4.40h5.08l2.54 4.40l-2.54 4.40h-5.08zM945.7 628.0l2.54 -4.40h5.08l2.54 4.40l-2.54 4.40h-5.08zM945.7 645.6l2.54 -4.40h5.08l2.54 4.40l-2.54 4.40h-5.08zM945.7 672.0l2.54 -4.40h5.08l2.54 4.40l-2.54 4.40h-5.08zM945.7 680.8l2.54 -4.40h5.08l2.54 4.40l-2.54 4.40h-5.08zM945.7 707.2l2.54 -4.40h5.08l2.54 4.40l-2.54 4.40h-5.08zM945.7 742.4l2.54 -4.40h5.08l2.54 4.40l-2.54 4.40h-5.08zM945.7 803.9l2.54 -4.40h5.08l2.54 4.40l-2.54 4.40h-5.08zM945.7 874.3l2.54 -4.40h5.08l2.54 4.40l-2.54 4.40h-5.08zM945.7 900.7l2.54 -4.40h5.08l2.54 4.40l-2.54 4.40h-5.08zM945.7 944.6l2.54 -4.40h5.08l2.54 4.40l-2.54 4.40h-5.08zM953.3 553.3l2.54 -4.40h5.08l2.54 4.40l-2.54 4.40h-5.08zM953.3 658.8l2.54 -4.40h5.08l2.54 4.40l-2.54 4.40h-5.08zM953.3 702.8l2.54 -4.40h5.08l2.54 4.40l-2.54 4.40h-5.08zM953.3 746.7l2.54 -4.40h5.08l2.54 4.40l-2.54 4.40h-5.08zM953.3 781.9l2.54 -4.40h5.08l2.54 4.40l-2.54 4.40h-5.08zM953.3 790.7l2.54 -4.40h5.08l2.54 4.40l-2.54 4.40h-5.08zM953.3 869.9l2.54 -4.40h5.08l2.54 4.40l-2.54 4.40h-5.08zM953.3 966.6l2.54 -4.40h5.08l2.54 4.40l-2.54 4.40h-5.08zM953.3 984.2l2.54 -4.40h5.08l2.54 4.40l-2.54 4.40h-5.08zM961.0 566.5l2.54 -4.40h5.08l2.54 4.40l-2.54 4.40h-5.08zM961.0 610.4l2.54 -4.40h5.08l2.54 4.40l-2.54 4.40h-5.08zM961.0 636.8l2.54 -4.40h5.08l2.54 4.40l-2.54 4.40h-5.08zM961.0 654.4l2.54 -4.40h5.08l2.54 4.40l-2.54 4.40h-5.08zM961.0 680.8l2.54 -4.40h5.08l2.54 4.40l-2.54 4.40h-5.08zM961.0 707.2l2.54 -4.40h5.08l2.54 4.40l-2.54 4.40h-5.08zM961.0 803.9l2.54 -4.40h5.08l2.54 4.40l-2.54 4.40h-5.08zM961.0 821.5l2.54 -4.40h5.08l2.54 4.40l-2.54 4.40h-5.08zM961.0 839.1l2.54 -4.40h5.08l2.54 4.40l-2.54 4.40h-5.08zM961.0 909.5l2.54 -4.40h5.08l2.54 4.40l-2.54 4.40h-5.08zM961.0 918.2l2.54 -4.40h5.08l2.54 4.40l-2.54 4.40h-5.08zM968.6 588.4l2.54 -4.40h5.08l2.54 4.40l-2.54 4.40h-5.08zM968.6 614.8l2.54 -4.40h5.08l2.54 4.40l-2.54 4.40h-5.08zM968.6 623.6l2.54 -4.40h5.08l2.54 4.40l-2.54 4.40h-5.08zM968.6 650.0l2.54 -4.40h5.08l2.54 4.40l-2.54 4.40h-5.08zM968.6 711.6l2.54 -4.40h5.08l2.54 4.40l-2.54 4.40h-5.08zM968.6 746.7l2.54 -4.40h5.08l2.54 4.40l-2.54 4.40h-5.08zM968.6 887.5l2.54 -4.40h5.08l2.54 4.40l-2.54 4.40h-5.08zM968.6 975.4l2.54 -4.40h5.08l2.54 4.40l-2.54 4.40h-5.08zM976.2 742.4l2.54 -4.40h5.08l2.54 4.40l-2.54 4.40h-5.08zM976.2 786.3l2.54 -4.40h5.08l2.54 4.40l-2.54 4.40h-5.08zM976.2 812.7l2.54 -4.40h5.08l2.54 4.40l-2.54 4.40h-5.08zM976.2 865.5l2.54 -4.40h5.08l2.54 4.40l-2.54 4.40h-5.08zM976.2 874.3l2.54 -4.40h5.08l2.54 4.40l-2.54 4.40h-5.08zM976.2 909.5l2.54 -4.40h5.08l2.54 4.40l-2.54 4.40h-5.08zM976.2 918.2l2.54 -4.40h5.08l2.54 4.40l-2.54 4.40h-5.08zM976.2 962.2l2.54 -4.40h5.08l2.54 4.40l-2.54 4.40h-5.08zM976.2 979.8l2.54 -4.40h5.08l2.54 4.40l-2.54 4.40h-5.08zM983.8 632.4l2.54 -4.40h5.08l2.54 4.40l-2.54 4.40h-5.08zM983.8 650.0l2.54 -4.40h5.08l2.54 4.40l-2.54 4.40h-5.08zM983.8 658.8l2.54 -4.40h5.08l2.54 4.40l-2.54 4.40h-5.08zM983.8 711.6l2.54 -4.40h5.08l2.54 4.40l-2.54 4.40h-5.08zM983.8 922.6l2.54 -4.40h5.08l2.54 4.40l-2.54 4.40h-5.08zM983.8 993.0l2.54 -4.40h5.08l2.54 4.40l-2.54 4.40h-5.08zM991.4 751.1l2.54 -4.40h5.08l2.54 4.40l-2.54 4.40h-5.08zM991.4 803.9l2.54 -4.40h5.08l2.54 4.40l-2.54 4.40h-5.08zM991.4 812.7l2.54 -4.40h5.08l2.54 4.40l-2.54 4.40h-5.08zM991.4 839.1l2.54 -4.40h5.08l2.54 4.40l-2.54 4.40h-5.08zM991.4 927.0l2.54 -4.40h5.08l2.54 4.40l-2.54 4.40h-5.08zM991.4 935.8l2.54 -4.40h5.08l2.54 4.40l-2.54 4.40h-5.08zM999.1 614.8l2.54 -4.40h5.08l2.54 4.40l-2.54 4.40h-5.08zM999.1 632.4l2.54 -4.40h5.08l2.54 4.40l-2.54 4.40h-5.08zM999.1 658.8l2.54 -4.40h5.08l2.54 4.40l-2.54 4.40h-5.08zM999.1 764.3l2.54 -4.40h5.08l2.54 4.40l-2.54 4.40h-5.08zM999.1 773.1l2.54 -4.40h5.08l2.54 4.40l-2.54 4.40h-5.08zM999.1 781.9l2.54 -4.40h5.08l2.54 4.40l-2.54 4.40h-5.08zM999.1 799.5l2.54 -4.40h5.08l2.54 4.40l-2.54 4.40h-5.08zM999.1 808.3l2.54 -4.40h5.08l2.54 4.40l-2.54 4.40h-5.08zM999.1 825.9l2.54 -4.40h5.08l2.54 4.40l-2.54 4.40h-5.08zM1006.7 610.4l2.54 -4.40h5.08l2.54 4.40l-2.54 4.40h-5.08zM1006.7 636.8l2.54 -4.40h5.08l2.54 4.40l-2.54 4.40h-5.08zM1006.7 654.4l2.54 -4.40h5.08l2.54 4.40l-2.54 4.40h-5.08zM1006.7 698.4l2.54 -4.40h5.08l2.54 4.40l-2.54 4.40h-5.08zM1006.7 768.7l2.54 -4.40h5.08l2.54 4.40l-2.54 4.40h-5.08zM1006.7 786.3l2.54 -4.40h5.08l2.54 4.40l-2.54 4.40h-5.08zM1014.3 632.4l2.54 -4.40h5.08l2.54 4.40l-2.54 4.40h-5.08zM1014.3 650.0l2.54 -4.40h5.08l2.54 4.40l-2.54 4.40h-5.08zM1014.3 729.2l2.54 -4.40h5.08l2.54 4.40l-2.54 4.40h-5.08zM1014.3 764.3l2.54 -4.40h5.08l2.54 4.40l-2.54 4.40h-5.08zM1014.3 869.9l2.54 -4.40h5.08l2.54 4.40l-2.54 4.40h-5.08zM1014.3 887.5l2.54 -4.40h5.08l2.54 4.40l-2.54 4.40h-5.08zM1014.3 896.3l2.54 -4.40h5.08l2.54 4.40l-2.54 4.40h-5.08zM1021.9 645.6l2.54 -4.40h5.08l2.54 4.40l-2.54 4.40h-5.08zM1021.9 680.8l2.54 -4.40h5.08l2.54 4.40l-2.54 4.40h-5.08zM1021.9 724.8l2.54 -4.40h5.08l2.54 4.40l-2.54 4.40h-5.08zM1021.9 733.6l2.54 -4.40h5.08l2.54 4.40l-2.54 4.40h-5.08zM1021.9 759.9l2.54 -4.40h5.08l2.54 4.40l-2.54 4.40h-5.08zM1021.9 803.9l2.54 -4.40h5.08l2.54 4.40l-2.54 4.40h-5.08zM1021.9 830.3l2.54 -4.40h5.08l2.54 4.40l-2.54 4.40h-5.08zM1021.9 874.3l2.54 -4.40h5.08l2.54 4.40l-2.54 4.40h-5.08zM1021.9 971.0l2.54 -4.40h5.08l2.54 4.40l-2.54 4.40h-5.08zM1029.5 738.0l2.54 -4.40h5.08l2.54 4.40l-2.54 4.40h-5.08zM1029.5 843.5l2.54 -4.40h5.08l2.54 4.40l-2.54 4.40h-5.08zM1029.5 896.3l2.54 -4.40h5.08l2.54 4.40l-2.54 4.40h-5.08zM1029.5 922.6l2.54 -4.40h5.08l2.54 4.40l-2.54 4.40h-5.08zM1029.5 940.2l2.54 -4.40h5.08l2.54 4.40l-2.54 4.40h-5.08zM1029.5 949.0l2.54 -4.40h5.08l2.54 4.40l-2.54 4.40h-5.08zM1037.2 645.6l2.54 -4.40h5.08l2.54 4.40l-2.54 4.40h-5.08zM1037.2 733.6l2.54 -4.40h5.08l2.54 4.40l-2.54 4.40h-5.08zM1037.2 742.4l2.54 -4.40h5.08l2.54 4.40l-2.54 4.40h-5.08zM1037.2 821.5l2.54 -4.40h5.08l2.54 4.40l-2.54 4.40h-5.08zM1037.2 865.5l2.54 -4.40h5.08l2.54 4.40l-2.54 4.40h-5.08zM1037.2 909.5l2.54 -4.40h5.08l2.54 4.40l-2.54 4.40h-5.08zM1037.2 927.0l2.54 -4.40h5.08l2.54 4.40l-2.54 4.40h-5.08zM1037.2 935.8l2.54 -4.40h5.08l2.54 4.40l-2.54 4.40h-5.08zM1037.2 944.6l2.54 -4.40h5.08l2.54 4.40l-2.54 4.40h-5.08zM1044.8 738.0l2.54 -4.40h5.08l2.54 4.40l-2.54 4.40h-5.08zM1044.8 896.3l2.54 -4.40h5.08l2.54 4.40l-2.54 4.40h-5.08zM1044.8 922.6l2.54 -4.40h5.08l2.54 4.40l-2.54 4.40h-5.08zM1052.4 733.6l2.54 -4.40h5.08l2.54 4.40l-2.54 4.40h-5.08zM1052.4 909.5l2.54 -4.40h5.08l2.54 4.40l-2.54 4.40h-5.08zM1052.4 953.4l2.54 -4.40h5.08l2.54 4.40l-2.54 4.40h-5.08zM1052.4 979.8l2.54 -4.40h5.08l2.54 4.40l-2.54 4.40h-5.08zM1060.0 852.3l2.54 -4.40h5.08l2.54 4.40l-2.54 4.40h-5.08zM1060.0 861.1l2.54 -4.40h5.08l2.54 4.40l-2.54 4.40h-5.08zM1060.0 896.3l2.54 -4.40h5.08l2.54 4.40l-2.54 4.40h-5.08zM1060.0 922.6l2.54 -4.40h5.08l2.54 4.40l-2.54 4.40h-5.08zM1060.0 931.4l2.54 -4.40h5.08l2.54 4.40l-2.54 4.40h-5.08zM1060.0 949.0l2.54 -4.40h5.08l2.54 4.40l-2.54 4.40h-5.08zM1060.0 966.6l2.54 -4.40h5.08l2.54 4.40l-2.54 4.40h-5.08zM1067.7 821.5l2.54 -4.40h5.08l2.54 4.40l-2.54 4.40h-5.08zM1067.7 865.5l2.54 -4.40h5.08l2.54 4.40l-2.54 4.40h-5.08zM1067.7 900.7l2.54 -4.40h5.08l2.54 4.40l-2.54 4.40h-5.08zM1067.7 962.2l2.54 -4.40h5.08l2.54 4.40l-2.54 4.40h-5.08zM1075.3 825.9l2.54 -4.40h5.08l2.54 4.40l-2.54 4.40h-5.08zM1075.3 869.9l2.54 -4.40h5.08l2.54 4.40l-2.54 4.40h-5.08zM1075.3 949.0l2.54 -4.40h5.08l2.54 4.40l-2.54 4.40h-5.08zM1075.3 966.6l2.54 -4.40h5.08l2.54 4.40l-2.54 4.40h-5.08zM1082.9 795.1l2.54 -4.40h5.08l2.54 4.40l-2.54 4.40h-5.08zM1082.9 847.9l2.54 -4.40h5.08l2.54 4.40l-2.54 4.40h-5.08zM1082.9 874.3l2.54 -4.40h5.08l2.54 4.40l-2.54 4.40h-5.08zM1082.9 944.6l2.54 -4.40h5.08l2.54 4.40l-2.54 4.40h-5.08zM1082.9 953.4l2.54 -4.40h5.08l2.54 4.40l-2.54 4.40h-5.08zM1090.5 869.9l2.54 -4.40h5.08l2.54 4.40l-2.54 4.40h-5.08zM1090.5 878.7l2.54 -4.40h5.08l2.54 4.40l-2.54 4.40h-5.08zM1098.1 795.1l2.54 -4.40h5.08l2.54 4.40l-2.54 4.40h-5.08zM1098.1 812.7l2.54 -4.40h5.08l2.54 4.40l-2.54 4.40h-5.08zM1105.8 764.3l2.54 -4.40h5.08l2.54 4.40l-2.54 4.40h-5.08zM1105.8 852.3l2.54 -4.40h5.08l2.54 4.40l-2.54 4.40h-5.08zM1113.4 759.9l2.54 -4.40h5.08l2.54 4.40l-2.54 4.40h-5.08zM1113.4 777.5l2.54 -4.40h5.08l2.54 4.40l-2.54 4.40h-5.08zM1113.4 821.5l2.54 -4.40h5.08l2.54 4.40l-2.54 4.40h-5.08zM1113.4 865.5l2.54 -4.40h5.08l2.54 4.40l-2.54 4.40h-5.08zM1113.4 927.0l2.54 -4.40h5.08l2.54 4.40l-2.54 4.40h-5.08zM1113.4 944.6l2.54 -4.40h5.08l2.54 4.40l-2.54 4.40h-5.08zM1121.0 781.9l2.54 -4.40h5.08l2.54 4.40l-2.54 4.40h-5.08zM1121.0 799.5l2.54 -4.40h5.08l2.54 4.40l-2.54 4.40h-5.08zM1121.0 817.1l2.54 -4.40h5.08l2.54 4.40l-2.54 4.40h-5.08zM1128.6 830.3l2.54 -4.40h5.08l2.54 4.40l-2.54 4.40h-5.08zM1136.3 852.3l2.54 -4.40h5.08l2.54 4.40l-2.54 4.40h-5.08zM545.3 307.9l2.49 -4.31h4.97l2.49 4.31l-2.49 4.31h-4.97zM545.3 376.9l2.49 -4.31h4.97l2.49 4.31l-2.49 4.31h-4.97zM552.8 295.0l2.49 -4.31h4.97l2.49 4.31l-2.49 4.31h-4.97zM560.2 342.4l2.49 -4.31h4.97l2.49 4.31l-2.49 4.31h-4.97zM567.7 295.0l2.49 -4.31h4.97l2.49 4.31l-2.49 4.31h-4.97zM567.7 303.6l2.49 -4.31h4.97l2.49 4.31l-2.49 4.31h-4.97zM575.1 273.4l2.49 -4.31h4.97l2.49 4.31l-2.49 4.31h-4.97zM575.1 299.3l2.49 -4.31h4.97l2.49 4.31l-2.49 4.31h-4.97zM575.1 307.9l2.49 -4.31h4.97l2.49 4.31l-2.49 4.31h-4.97zM575.1 402.7l2.49 -4.31h4.97l2.49 4.31l-2.49 4.31h-4.97zM582.6 398.4l2.49 -4.31h4.97l2.49 4.31l-2.49 4.31h-4.97zM590.1 402.7l2.49 -4.31h4.97l2.49 4.31l-2.49 4.31h-4.97zM597.5 260.5l2.49 -4.31h4.97l2.49 4.31l-2.49 4.31h-4.97zM597.5 277.8l2.49 -4.31h4.97l2.49 4.31l-2.49 4.31h-4.97zM612.4 251.9l2.49 -4.31h4.97l2.49 4.31l-2.49 4.31h-4.97zM612.4 501.9l2.49 -4.31h4.97l2.49 4.31l-2.49 4.31h-4.97zM619.9 247.6l2.49 -4.31h4.97l2.49 4.31l-2.49 4.31h-4.97zM619.9 359.6l2.49 -4.31h4.97l2.49 4.31l-2.49 4.31h-4.97zM619.9 454.5l2.49 -4.31h4.97l2.49 4.31l-2.49 4.31h-4.97zM627.4 234.6l2.49 -4.31h4.97l2.49 4.31l-2.49 4.31h-4.97zM627.4 467.4l2.49 -4.31h4.97l2.49 4.31l-2.49 4.31h-4.97zM634.8 402.7l2.49 -4.31h4.97l2.49 4.31l-2.49 4.31h-4.97zM634.8 445.8l2.49 -4.31h4.97l2.49 4.31l-2.49 4.31h-4.97zM642.3 269.1l2.49 -4.31h4.97l2.49 4.31l-2.49 4.31h-4.97zM642.3 277.8l2.49 -4.31h4.97l2.49 4.31l-2.49 4.31h-4.97zM642.3 458.8l2.49 -4.31h4.97l2.49 4.31l-2.49 4.31h-4.97zM649.7 316.5l2.49 -4.31h4.97l2.49 4.31l-2.49 4.31h-4.97zM649.7 342.4l2.49 -4.31h4.97l2.49 4.31l-2.49 4.31h-4.97zM649.7 445.8l2.49 -4.31h4.97l2.49 4.31l-2.49 4.31h-4.97zM649.7 463.1l2.49 -4.31h4.97l2.49 4.31l-2.49 4.31h-4.97zM649.7 497.6l2.49 -4.31h4.97l2.49 4.31l-2.49 4.31h-4.97zM657.2 312.2l2.49 -4.31h4.97l2.49 4.31l-2.49 4.31h-4.97zM657.2 329.5l2.49 -4.31h4.97l2.49 4.31l-2.49 4.31h-4.97zM657.2 338.1l2.49 -4.31h4.97l2.49 4.31l-2.49 4.31h-4.97zM657.2 389.8l2.49 -4.31h4.97l2.49 4.31l-2.49 4.31h-4.97zM657.2 398.4l2.49 -4.31h4.97l2.49 4.31l-2.49 4.31h-4.97zM657.2 458.8l2.49 -4.31h4.97l2.49 4.31l-2.49 4.31h-4.97zM657.2 519.1l2.49 -4.31h4.97l2.49 4.31l-2.49 4.31h-4.97zM657.2 570.8l2.49 -4.31h4.97l2.49 4.31l-2.49 4.31h-4.97zM664.7 290.7l2.49 -4.31h4.97l2.49 4.31l-2.49 4.31h-4.97zM664.7 411.4l2.49 -4.31h4.97l2.49 4.31l-2.49 4.31h-4.97zM672.1 269.1l2.49 -4.31h4.97l2.49 4.31l-2.49 4.31h-4.97zM672.1 450.1l2.49 -4.31h4.97l2.49 4.31l-2.49 4.31h-4.97zM672.1 545.0l2.49 -4.31h4.97l2.49 4.31l-2.49 4.31h-4.97zM672.1 588.1l2.49 -4.31h4.97l2.49 4.31l-2.49 4.31h-4.97zM679.6 213.1l2.49 -4.31h4.97l2.49 4.31l-2.49 4.31h-4.97zM679.6 316.5l2.49 -4.31h4.97l2.49 4.31l-2.49 4.31h-4.97zM679.6 540.7l2.49 -4.31h4.97l2.49 4.31l-2.49 4.31h-4.97zM679.6 557.9l2.49 -4.31h4.97l2.49 4.31l-2.49 4.31h-4.97zM687.0 346.7l2.49 -4.31h4.97l2.49 4.31l-2.49 4.31h-4.97zM687.0 527.7l2.49 -4.31h4.97l2.49 4.31l-2.49 4.31h-4.97zM687.0 545.0l2.49 -4.31h4.97l2.49 4.31l-2.49 4.31h-4.97zM694.5 376.9l2.49 -4.31h4.97l2.49 4.31l-2.49 4.31h-4.97zM694.5 394.1l2.49 -4.31h4.97l2.49 4.31l-2.49 4.31h-4.97zM694.5 420.0l2.49 -4.31h4.97l2.49 4.31l-2.49 4.31h-4.97zM694.5 428.6l2.49 -4.31h4.97l2.49 4.31l-2.49 4.31h-4.97zM694.5 463.1l2.49 -4.31h4.97l2.49 4.31l-2.49 4.31h-4.97zM694.5 506.2l2.49 -4.31h4.97l2.49 4.31l-2.49 4.31h-4.97zM694.5 540.7l2.49 -4.31h4.97l2.49 4.31l-2.49 4.31h-4.97zM694.5 549.3l2.49 -4.31h4.97l2.49 4.31l-2.49 4.31h-4.97zM694.5 583.8l2.49 -4.31h4.97l2.49 4.31l-2.49 4.31h-4.97zM702.0 295.0l2.49 -4.31h4.97l2.49 4.31l-2.49 4.31h-4.97zM702.0 389.8l2.49 -4.31h4.97l2.49 4.31l-2.49 4.31h-4.97zM702.0 415.7l2.49 -4.31h4.97l2.49 4.31l-2.49 4.31h-4.97zM702.0 450.1l2.49 -4.31h4.97l2.49 4.31l-2.49 4.31h-4.97zM702.0 484.6l2.49 -4.31h4.97l2.49 4.31l-2.49 4.31h-4.97zM702.0 501.9l2.49 -4.31h4.97l2.49 4.31l-2.49 4.31h-4.97zM702.0 545.0l2.49 -4.31h4.97l2.49 4.31l-2.49 4.31h-4.97zM702.0 562.2l2.49 -4.31h4.97l2.49 4.31l-2.49 4.31h-4.97zM702.0 588.1l2.49 -4.31h4.97l2.49 4.31l-2.49 4.31h-4.97zM709.4 273.4l2.49 -4.31h4.97l2.49 4.31l-2.49 4.31h-4.97zM709.4 290.7l2.49 -4.31h4.97l2.49 4.31l-2.49 4.31h-4.97zM709.4 411.4l2.49 -4.31h4.97l2.49 4.31l-2.49 4.31h-4.97zM709.4 480.3l2.49 -4.31h4.97l2.49 4.31l-2.49 4.31h-4.97zM716.9 260.5l2.49 -4.31h4.97l2.49 4.31l-2.49 4.31h-4.97zM716.9 303.6l2.49 -4.31h4.97l2.49 4.31l-2.49 4.31h-4.97zM716.9 398.4l2.49 -4.31h4.97l2.49 4.31l-2.49 4.31h-4.97zM716.9 450.1l2.49 -4.31h4.97l2.49 4.31l-2.49 4.31h-4.97zM716.9 467.4l2.49 -4.31h4.97l2.49 4.31l-2.49 4.31h-4.97zM716.9 476.0l2.49 -4.31h4.97l2.49 4.31l-2.49 4.31h-4.97zM716.9 588.1l2.49 -4.31h4.97l2.49 4.31l-2.49 4.31h-4.97zM724.3 247.6l2.49 -4.31h4.97l2.49 4.31l-2.49 4.31h-4.97zM724.3 290.7l2.49 -4.31h4.97l2.49 4.31l-2.49 4.31h-4.97zM724.3 307.9l2.49 -4.31h4.97l2.49 4.31l-2.49 4.31h-4.97zM724.3 316.5l2.49 -4.31h4.97l2.49 4.31l-2.49 4.31h-4.97zM724.3 497.6l2.49 -4.31h4.97l2.49 4.31l-2.49 4.31h-4.97zM724.3 583.8l2.49 -4.31h4.97l2.49 4.31l-2.49 4.31h-4.97zM731.8 295.0l2.49 -4.31h4.97l2.49 4.31l-2.49 4.31h-4.97zM731.8 389.8l2.49 -4.31h4.97l2.49 4.31l-2.49 4.31h-4.97zM731.8 450.1l2.49 -4.31h4.97l2.49 4.31l-2.49 4.31h-4.97zM731.8 458.8l2.49 -4.31h4.97l2.49 4.31l-2.49 4.31h-4.97zM731.8 476.0l2.49 -4.31h4.97l2.49 4.31l-2.49 4.31h-4.97zM731.8 536.3l2.49 -4.31h4.97l2.49 4.31l-2.49 4.31h-4.97zM731.8 545.0l2.49 -4.31h4.97l2.49 4.31l-2.49 4.31h-4.97zM739.3 213.1l2.49 -4.31h4.97l2.49 4.31l-2.49 4.31h-4.97zM739.3 221.7l2.49 -4.31h4.97l2.49 4.31l-2.49 4.31h-4.97zM739.3 256.2l2.49 -4.31h4.97l2.49 4.31l-2.49 4.31h-4.97zM739.3 282.1l2.49 -4.31h4.97l2.49 4.31l-2.49 4.31h-4.97zM739.3 420.0l2.49 -4.31h4.97l2.49 4.31l-2.49 4.31h-4.97zM739.3 497.6l2.49 -4.31h4.97l2.49 4.31l-2.49 4.31h-4.97zM739.3 549.3l2.49 -4.31h4.97l2.49 4.31l-2.49 4.31h-4.97zM746.7 234.6l2.49 -4.31h4.97l2.49 4.31l-2.49 4.31h-4.97zM746.7 243.3l2.49 -4.31h4.97l2.49 4.31l-2.49 4.31h-4.97zM746.7 338.1l2.49 -4.31h4.97l2.49 4.31l-2.49 4.31h-4.97zM746.7 407.1l2.49 -4.31h4.97l2.49 4.31l-2.49 4.31h-4.97zM746.7 467.4l2.49 -4.31h4.97l2.49 4.31l-2.49 4.31h-4.97zM754.2 213.1l2.49 -4.31h4.97l2.49 4.31l-2.49 4.31h-4.97zM754.2 221.7l2.49 -4.31h4.97l2.49 4.31l-2.49 4.31h-4.97zM754.2 264.8l2.49 -4.31h4.97l2.49 4.31l-2.49 4.31h-4.97zM754.2 342.4l2.49 -4.31h4.97l2.49 4.31l-2.49 4.31h-4.97zM754.2 394.1l2.49 -4.31h4.97l2.49 4.31l-2.49 4.31h-4.97zM754.2 420.0l2.49 -4.31h4.97l2.49 4.31l-2.49 4.31h-4.97zM754.2 437.2l2.49 -4.31h4.97l2.49 4.31l-2.49 4.31h-4.97zM754.2 471.7l2.49 -4.31h4.97l2.49 4.31l-2.49 4.31h-4.97zM754.2 480.3l2.49 -4.31h4.97l2.49 4.31l-2.49 4.31h-4.97zM754.2 488.9l2.49 -4.31h4.97l2.49 4.31l-2.49 4.31h-4.97zM754.2 514.8l2.49 -4.31h4.97l2.49 4.31l-2.49 4.31h-4.97zM761.6 458.8l2.49 -4.31h4.97l2.49 4.31l-2.49 4.31h-4.97zM761.6 476.0l2.49 -4.31h4.97l2.49 4.31l-2.49 4.31h-4.97zM761.6 527.7l2.49 -4.31h4.97l2.49 4.31l-2.49 4.31h-4.97zM761.6 553.6l2.49 -4.31h4.97l2.49 4.31l-2.49 4.31h-4.97zM761.6 562.2l2.49 -4.31h4.97l2.49 4.31l-2.49 4.31h-4.97zM769.1 178.6l2.49 -4.31h4.97l2.49 4.31l-2.49 4.31h-4.97zM769.1 230.3l2.49 -4.31h4.97l2.49 4.31l-2.49 4.31h-4.97zM769.1 247.6l2.49 -4.31h4.97l2.49 4.31l-2.49 4.31h-4.97zM769.1 325.2l2.49 -4.31h4.97l2.49 4.31l-2.49 4.31h-4.97zM769.1 333.8l2.49 -4.31h4.97l2.49 4.31l-2.49 4.31h-4.97zM769.1 437.2l2.49 -4.31h4.97l2.49 4.31l-2.49 4.31h-4.97zM776.6 165.7l2.49 -4.31h4.97l2.49 4.31l-2.49 4.31h-4.97zM776.6 174.3l2.49 -4.31h4.97l2.49 4.31l-2.49 4.31h-4.97zM776.6 208.8l2.49 -4.31h4.97l2.49 4.31l-2.49 4.31h-4.97zM776.6 234.6l2.49 -4.31h4.97l2.49 4.31l-2.49 4.31h-4.97zM776.6 320.9l2.49 -4.31h4.97l2.49 4.31l-2.49 4.31h-4.97zM776.6 441.5l2.49 -4.31h4.97l2.49 4.31l-2.49 4.31h-4.97zM776.6 450.1l2.49 -4.31h4.97l2.49 4.31l-2.49 4.31h-4.97zM776.6 476.0l2.49 -4.31h4.97l2.49 4.31l-2.49 4.31h-4.97zM784.0 187.2l2.49 -4.31h4.97l2.49 4.31l-2.49 4.31h-4.97zM784.0 316.5l2.49 -4.31h4.97l2.49 4.31l-2.49 4.31h-4.97zM784.0 325.2l2.49 -4.31h4.97l2.49 4.31l-2.49 4.31h-4.97zM784.0 333.8l2.49 -4.31h4.97l2.49 4.31l-2.49 4.31h-4.97zM784.0 342.4l2.49 -4.31h4.97l2.49 4.31l-2.49 4.31h-4.97zM784.0 368.3l2.49 -4.31h4.97l2.49 4.31l-2.49 4.31h-4.97zM784.0 376.9l2.49 -4.31h4.97l2.49 4.31l-2.49 4.31h-4.97zM784.0 428.6l2.49 -4.31h4.97l2.49 4.31l-2.49 4.31h-4.97zM784.0 480.3l2.49 -4.31h4.97l2.49 4.31l-2.49 4.31h-4.97zM791.5 191.5l2.49 -4.31h4.97l2.49 4.31l-2.49 4.31h-4.97zM791.5 208.8l2.49 -4.31h4.97l2.49 4.31l-2.49 4.31h-4.97zM791.5 329.5l2.49 -4.31h4.97l2.49 4.31l-2.49 4.31h-4.97zM791.5 363.9l2.49 -4.31h4.97l2.49 4.31l-2.49 4.31h-4.97zM791.5 432.9l2.49 -4.31h4.97l2.49 4.31l-2.49 4.31h-4.97zM791.5 450.1l2.49 -4.31h4.97l2.49 4.31l-2.49 4.31h-4.97zM791.5 467.4l2.49 -4.31h4.97l2.49 4.31l-2.49 4.31h-4.97zM791.5 527.7l2.49 -4.31h4.97l2.49 4.31l-2.49 4.31h-4.97zM791.5 553.6l2.49 -4.31h4.97l2.49 4.31l-2.49 4.31h-4.97zM798.9 307.9l2.49 -4.31h4.97l2.49 4.31l-2.49 4.31h-4.97zM798.9 385.5l2.49 -4.31h4.97l2.49 4.31l-2.49 4.31h-4.97zM798.9 454.5l2.49 -4.31h4.97l2.49 4.31l-2.49 4.31h-4.97zM798.9 471.7l2.49 -4.31h4.97l2.49 4.31l-2.49 4.31h-4.97zM798.9 480.3l2.49 -4.31h4.97l2.49 4.31l-2.49 4.31h-4.97zM798.9 523.4l2.49 -4.31h4.97l2.49 4.31l-2.49 4.31h-4.97zM806.4 182.9l2.49 -4.31h4.97l2.49 4.31l-2.49 4.31h-4.97zM806.4 398.4l2.49 -4.31h4.97l2.49 4.31l-2.49 4.31h-4.97zM806.4 510.5l2.49 -4.31h4.97l2.49 4.31l-2.49 4.31h-4.97zM806.4 527.7l2.49 -4.31h4.97l2.49 4.31l-2.49 4.31h-4.97zM813.9 307.9l2.49 -4.31h4.97l2.49 4.31l-2.49 4.31h-4.97zM813.9 325.2l2.49 -4.31h4.97l2.49 4.31l-2.49 4.31h-4.97zM813.9 368.3l2.49 -4.31h4.97l2.49 4.31l-2.49 4.31h-4.97zM813.9 488.9l2.49 -4.31h4.97l2.49 4.31l-2.49 4.31h-4.97zM813.9 532.0l2.49 -4.31h4.97l2.49 4.31l-2.49 4.31h-4.97zM821.3 381.2l2.49 -4.31h4.97l2.49 4.31l-2.49 4.31h-4.97zM821.3 389.8l2.49 -4.31h4.97l2.49 4.31l-2.49 4.31h-4.97zM821.3 476.0l2.49 -4.31h4.97l2.49 4.31l-2.49 4.31h-4.97zM821.3 519.1l2.49 -4.31h4.97l2.49 4.31l-2.49 4.31h-4.97zM828.8 471.7l2.49 -4.31h4.97l2.49 4.31l-2.49 4.31h-4.97zM836.2 329.5l2.49 -4.31h4.97l2.49 4.31l-2.49 4.31h-4.97zM836.2 484.6l2.49 -4.31h4.97l2.49 4.31l-2.49 4.31h-4.97zM843.7 316.5l2.49 -4.31h4.97l2.49 4.31l-2.49 4.31h-4.97zM851.2 62.2l2.49 -4.31h4.97l2.49 4.31l-2.49 4.31h-4.97zM858.6 66.6l2.49 -4.31h4.97l2.49 4.31l-2.49 4.31h-4.97zM651.8 831.5l2.43 -4.21h4.85l2.43 4.21l-2.43 4.21h-4.85zM659.1 827.3l2.43 -4.21h4.85l2.43 4.21l-2.43 4.21h-4.85zM666.4 738.9l2.43 -4.21h4.85l2.43 4.21l-2.43 4.21h-4.85zM666.4 823.1l2.43 -4.21h4.85l2.43 4.21l-2.43 4.21h-4.85zM673.7 734.7l2.43 -4.21h4.85l2.43 4.21l-2.43 4.21h-4.85zM680.9 797.9l2.43 -4.21h4.85l2.43 4.21l-2.43 4.21h-4.85zM680.9 806.3l2.43 -4.21h4.85l2.43 4.21l-2.43 4.21h-4.85zM695.5 713.7l2.43 -4.21h4.85l2.43 4.21l-2.43 4.21h-4.85zM695.5 814.7l2.43 -4.21h4.85l2.43 4.21l-2.43 4.21h-4.85zM695.5 840.0l2.43 -4.21h4.85l2.43 4.21l-2.43 4.21h-4.85zM702.8 785.2l2.43 -4.21h4.85l2.43 4.21l-2.43 4.21h-4.85zM702.8 827.3l2.43 -4.21h4.85l2.43 4.21l-2.43 4.21h-4.85zM702.8 835.8l2.43 -4.21h4.85l2.43 4.21l-2.43 4.21h-4.85zM710.1 781.0l2.43 -4.21h4.85l2.43 4.21l-2.43 4.21h-4.85zM710.1 840.0l2.43 -4.21h4.85l2.43 4.21l-2.43 4.21h-4.85zM717.3 818.9l2.43 -4.21h4.85l2.43 4.21l-2.43 4.21h-4.85zM724.6 747.4l2.43 -4.21h4.85l2.43 4.21l-2.43 4.21h-4.85zM724.6 772.6l2.43 -4.21h4.85l2.43 4.21l-2.43 4.21h-4.85zM724.6 789.5l2.43 -4.21h4.85l2.43 4.21l-2.43 4.21h-4.85zM724.6 814.7l2.43 -4.21h4.85l2.43 4.21l-2.43 4.21h-4.85zM724.6 831.5l2.43 -4.21h4.85l2.43 4.21l-2.43 4.21h-4.85zM731.9 726.3l2.43 -4.21h4.85l2.43 4.21l-2.43 4.21h-4.85zM731.9 743.1l2.43 -4.21h4.85l2.43 4.21l-2.43 4.21h-4.85zM731.9 751.6l2.43 -4.21h4.85l2.43 4.21l-2.43 4.21h-4.85zM731.9 818.9l2.43 -4.21h4.85l2.43 4.21l-2.43 4.21h-4.85zM739.2 696.8l2.43 -4.21h4.85l2.43 4.21l-2.43 4.21h-4.85zM739.2 705.2l2.43 -4.21h4.85l2.43 4.21l-2.43 4.21h-4.85zM739.2 722.1l2.43 -4.21h4.85l2.43 4.21l-2.43 4.21h-4.85zM739.2 747.4l2.43 -4.21h4.85l2.43 4.21l-2.43 4.21h-4.85zM739.2 755.8l2.43 -4.21h4.85l2.43 4.21l-2.43 4.21h-4.85zM739.2 772.6l2.43 -4.21h4.85l2.43 4.21l-2.43 4.21h-4.85zM739.2 781.0l2.43 -4.21h4.85l2.43 4.21l-2.43 4.21h-4.85zM739.2 806.3l2.43 -4.21h4.85l2.43 4.21l-2.43 4.21h-4.85zM739.2 814.7l2.43 -4.21h4.85l2.43 4.21l-2.43 4.21h-4.85zM739.2 840.0l2.43 -4.21h4.85l2.43 4.21l-2.43 4.21h-4.85zM739.2 873.6l2.43 -4.21h4.85l2.43 4.21l-2.43 4.21h-4.85zM746.4 709.5l2.43 -4.21h4.85l2.43 4.21l-2.43 4.21h-4.85zM746.4 734.7l2.43 -4.21h4.85l2.43 4.21l-2.43 4.21h-4.85zM746.4 776.8l2.43 -4.21h4.85l2.43 4.21l-2.43 4.21h-4.85zM746.4 785.2l2.43 -4.21h4.85l2.43 4.21l-2.43 4.21h-4.85zM746.4 802.1l2.43 -4.21h4.85l2.43 4.21l-2.43 4.21h-4.85zM746.4 810.5l2.43 -4.21h4.85l2.43 4.21l-2.43 4.21h-4.85zM753.7 696.8l2.43 -4.21h4.85l2.43 4.21l-2.43 4.21h-4.85zM753.7 713.7l2.43 -4.21h4.85l2.43 4.21l-2.43 4.21h-4.85zM753.7 823.1l2.43 -4.21h4.85l2.43 4.21l-2.43 4.21h-4.85zM753.7 831.5l2.43 -4.21h4.85l2.43 4.21l-2.43 4.21h-4.85zM761.0 734.7l2.43 -4.21h4.85l2.43 4.21l-2.43 4.21h-4.85zM761.0 835.8l2.43 -4.21h4.85l2.43 4.21l-2.43 4.21h-4.85zM768.3 823.1l2.43 -4.21h4.85l2.43 4.21l-2.43 4.21h-4.85z"/>
<path fill="#5681e3" d="M694.2 1028.2l2.54 -4.40h5.08l2.54 4.40l-2.54 4.40h-5.08zM694.2 1045.8l2.54 -4.40h5.08l2.54 4.40l-2.54 4.40h-5.08zM701.8 1041.4l2.54 -4.40h5.08l2.54 4.40l-2.54 4.40h-5.08zM717.0 1050.2l2.54 -4.40h5.08l2.54 4.40l-2.54 4.40h-5.08zM724.7 1019.4l2.54 -4.40h5.08l2.54 4.40l-2.54 4.40h-5.08zM739.9 993.0l2.54 -4.40h5.08l2.54 4.40l-2.54 4.40h-5.08zM739.9 1001.8l2.54 -4.40h5.08l2.54 4.40l-2.54 4.40h-5.08zM739.9 1019.4l2.54 -4.40h5.08l2.54 4.40l-2.54 4.40h-5.08zM747.5 1006.2l2.54 -4.40h5.08l2.54 4.40l-2.54 4.40h-5.08zM755.2 975.4l2.54 -4.40h5.08l2.54 4.40l-2.54 4.40h-5.08zM762.8 979.8l2.54 -4.40h5.08l2.54 4.40l-2.54 4.40h-5.08zM762.8 1015.0l2.54 -4.40h5.08l2.54 4.40l-2.54 4.40h-5.08zM770.4 993.0l2.54 -4.40h5.08l2.54 4.40l-2.54 4.40h-5.08zM770.4 1001.8l2.54 -4.40h5.08l2.54 4.40l-2.54 4.40h-5.08zM778.0 944.6l2.54 -4.40h5.08l2.54 4.40l-2.54 4.40h-5.08zM778.0 979.8l2.54 -4.40h5.08l2.54 4.40l-2.54 4.40h-5.08zM778.0 1006.2l2.54 -4.40h5.08l2.54 4.40l-2.54 4.40h-5.08zM785.6 940.2l2.54 -4.40h5.08l2.54 4.40l-2.54 4.40h-5.08zM785.6 957.8l2.54 -4.40h5.08l2.54 4.40l-2.54 4.40h-5.08zM800.9 1028.2l2.54 -4.40h5.08l2.54 4.40l-2.54 4.40h-5.08zM823.8 979.8l2.54 -4.40h5.08l2.54 4.40l-2.54 4.40h-5.08zM823.8 997.4l2.54 -4.40h5.08l2.54 4.40l-2.54 4.40h-5.08zM839.0 592.8l2.54 -4.40h5.08l2.54 4.40l-2.54 4.40h-5.08zM839.0 610.4l2.54 -4.40h5.08l2.54 4.40l-2.54 4.40h-5.08zM839.0 979.8l2.54 -4.40h5.08l2.54 4.40l-2.54 4.40h-5.08zM846.6 641.2l2.54 -4.40h5.08l2.54 4.40l-2.54 4.40h-5.08zM846.6 931.4l2.54 -4.40h5.08l2.54 4.40l-2.54 4.40h-5.08zM846.6 957.8l2.54 -4.40h5.08l2.54 4.40l-2.54 4.40h-5.08zM854.2 584.0l2.54 -4.40h5.08l2.54 4.40l-2.54 4.40h-5.08zM854.2 601.6l2.54 -4.40h5.08l2.54 4.40l-2.54 4.40h-5.08zM854.2 786.3l2.54 -4.40h5.08l2.54 4.40l-2.54 4.40h-5.08zM861.9 711.6l2.54 -4.40h5.08l2.54 4.40l-2.54 4.40h-5.08zM861.9 720.4l2.54 -4.40h5.08l2.54 4.40l-2.54 4.40h-5.08zM861.9 781.9l2.54 -4.40h5.08l2.54 4.40l-2.54 4.40h-5.08zM861.9 817.1l2.54 -4.40h5.08l2.54 4.40l-2.54 4.40h-5.08zM861.9 975.4l2.54 -4.40h5.08l2.54 4.40l-2.54 4.40h-5.08zM869.5 610.4l2.54 -4.40h5.08l2.54 4.40l-2.54 4.40h-5.08zM869.5 751.1l2.54 -4.40h5.08l2.54 4.40l-2.54 4.40h-5.08zM869.5 865.5l2.54 -4.40h5.08l2.54 4.40l-2.54 4.40h-5.08zM877.1 553.3l2.54 -4.40h5.08l2.54 4.40l-2.54 4.40h-5.08zM877.1 588.4l2.54 -4.40h5.08l2.54 4.40l-2.54 4.40h-5.08zM877.1 852.3l2.54 -4.40h5.08l2.54 4.40l-2.54 4.40h-5.08zM877.1 931.4l2.54 -4.40h5.08l2.54 4.40l-2.54 4.40h-5.08zM884.7 540.1l2.54 -4.40h5.08l2.54 4.40l-2.54 4.40h-5.08zM884.7 628.0l2.54 -4.40h5.08l2.54 4.40l-2.54 4.40h-5.08zM884.7 856.7l2.54 -4.40h5.08l2.54 4.40l-2.54 4.40h-5.08zM884.7 865.5l2.54 -4.40h5.08l2.54 4.40l-2.54 4.40h-5.08zM884.7 979.8l2.54 -4.40h5.08l2.54 4.40l-2.54 4.40h-5.08zM892.4 553.3l2.54 -4.40h5.08l2.54 4.40l-2.54 4.40h-5.08zM892.4 570.8l2.54 -4.40h5.08l2.54 4.40l-2.54 4.40h-5.08zM892.4 685.2l2.54 -4.40h5.08l2.54 4.40l-2.54 4.40h-5.08zM892.4 817.1l2.54 -4.40h5.08l2.54 4.40l-2.54 4.40h-5.08zM892.4 861.1l2.54 -4.40h5.08l2.54 4.40l-2.54 4.40h-5.08zM892.4 887.5l2.54 -4.40h5.08l2.54 4.40l-2.54 4.40h-5.08zM892.4 913.9l2.54 -4.40h5.08l2.54 4.40l-2.54 4.40h-5.08zM892.4 922.6l2.54 -4.40h5.08l2.54 4.40l-2.54 4.40h-5.08zM892.4 940.2l2.54 -4.40h5.08l2.54 4.40l-2.54 4.40h-5.08zM892.4 949.0l2.54 -4.40h5.08l2.54 4.40l-2.54 4.40h-5.08zM892.4 984.2l2.54 -4.40h5.08l2.54 4.40l-2.54 4.40h-5.08zM892.4 1001.8l2.54 -4.40h5.08l2.54 4.40l-2.54 4.40h-5.08zM900.0 566.5l2.54 -4.40h5.08l2.54 4.40l-2.54 4.40h-5.08zM900.0 856.7l2.54 -4.40h5.08l2.54 4.40l-2.54 4.40h-5.08zM900.0 927.0l2.54 -4.40h5.08l2.54 4.40l-2.54 4.40h-5.08zM900.0 944.6l2.54 -4.40h5.08l2.54 4.40l-2.54 4.40h-5.08zM907.6 553.3l2.54 -4.40h5.08l2.54 4.40l-2.54 4.40h-5.08zM907.6 667.6l2.54 -4.40h5.08l2.54 4.40l-2.54 4.40h-5.08zM907.6 773.1l2.54 -4.40h5.08l2.54 4.40l-2.54 4.40h-5.08zM907.6 817.1l2.54 -4.40h5.08l2.54 4.40l-2.54 4.40h-5.08zM907.6 834.7l2.54 -4.40h5.08l2.54 4.40l-2.54 4.40h-5.08zM907.6 975.4l2.54 -4.40h5.08l2.54 4.40l-2.54 4.40h-5.08zM915.2 513.7l2.54 -4.40h5.08l2.54 4.40l-2.54 4.40h-5.08zM915.2 548.9l2.54 -4.40h5.08l2.54 4.40l-2.54 4.40h-5.08zM915.2 663.2l2.54 -4.40h5.08l2.54 4.40l-2.54 4.40h-5.08zM915.2 883.1l2.54 -4.40h5.08l2.54 4.40l-2.54 4.40h-5.08zM915.2 971.0l2.54 -4.40h5.08l2.54 4.40l-2.54 4.40h-5.08zM915.2 979.8l2.54 -4.40h5.08l2.54 4.40l-2.54 4.40h-5.08zM922.8 570.8l2.54 -4.40h5.08l2.54 4.40l-2.54 4.40h-5.08zM922.8 614.8l2.54 -4.40h5.08l2.54 4.40l-2.54 4.40h-5.08zM922.8 623.6l2.54 -4.40h5.08l2.54 4.40l-2.54 4.40h-5.08zM922.8 632.4l2.54 -4.40h5.08l2.54 4.40l-2.54 4.40h-5.08zM922.8 702.8l2.54 -4.40h5.08l2.54 4.40l-2.54 4.40h-5.08zM922.8 720.4l2.54 -4.40h5.08l2.54 4.40l-2.54 4.40h-5.08zM922.8 755.5l2.54 -4.40h5.08l2.54 4.40l-2.54 4.40h-5.08zM922.8 984.2l2.54 -4.40h5.08l2.54 4.40l-2.54 4.40h-5.08zM930.5 504.9l2.54 -4.40h5.08l2.54 4.40l-2.54 4.40h-5.08zM930.5 531.3l2.54 -4.40h5.08l2.54 4.40l-2.54 4.40h-5.08zM930.5 654.4l2.54 -4.40h5.08l2.54 4.40l-2.54 4.40h-5.08zM930.5 830.3l2.54 -4.40h5.08l2.54 4.40l-2.54 4.40h-5.08zM930.5 839.1l2.54 -4.40h5.08l2.54 4.40l-2.54 4.40h-5.08zM930.5 900.7l2.54 -4.40h5.08l2.54 4.40l-2.54 4.40h-5.08zM938.1 526.9l2.54 -4.40h5.08l2.54 4.40l-2.54 4.40h-5.08zM938.1 535.7l2.54 -4.40h5.08l2.54 4.40l-2.54 4.40h-5.08zM938.1 579.6l2.54 -4.40h5.08l2.54 4.40l-2.54 4.40h-5.08zM938.1 606.0l2.54 -4.40h5.08l2.54 4.40l-2.54 4.40h-5.08zM938.1 632.4l2.54 -4.40h5.08l2.54 4.40l-2.54 4.40h-5.08zM938.1 641.2l2.54 -4.40h5.08l2.54 4.40l-2.54 4.40h-5.08zM938.1 694.0l2.54 -4.40h5.08l2.54 4.40l-2.54 4.40h-5.08zM938.1 755.5l2.54 -4.40h5.08l2.54 4.40l-2.54 4.40h-5.08zM938.1 790.7l2.54 -4.40h5.08l2.54 4.40l-2.54 4.40h-5.08zM938.1 878.7l2.54 -4.40h5.08l2.54 4.40l-2.54 4.40h-5.08zM938.1 922.6l2.54 -4.40h5.08l2.54 4.40l-2.54 4.40h-5.08zM945.7 522.5l2.54 -4.40h5.08l2.54 4.40l-2.54 4.40h-5.08zM945.7 636.8l2.54 -4.40h5.08l2.54 4.40l-2.54 4.40h-5.08zM945.7 689.6l2.54 -4.40h5.08l2.54 4.40l-2.54 4.40h-5.08zM945.7 698.4l2.54 -4.40h5.08l2.54 4.40l-2.54 4.40h-5.08zM945.7 724.8l2.54 -4.40h5.08l2.54 4.40l-2.54 4.40h-5.08zM945.7 759.9l2.54 -4.40h5.08l2.54 4.40l-2.54 4.40h-5.08zM945.7 865.5l2.54 -4.40h5.08l2.54 4.40l-2.54 4.40h-5.08zM945.7 909.5l2.54 -4.40h5.08l2.54 4.40l-2.54 4.40h-5.08zM945.7 918.2l2.54 -4.40h5.08l2.54 4.40l-2.54 4.40h-5.08zM945.7 962.2l2.54 -4.40h5.08l2.54 4.40l-2.54 4.40h-5.08zM945.7 979.8l2.54 -4.40h5.08l2.54 4.40l-2.54 4.40h-5.08zM953.3 579.6l2.54 -4.40h5.08l2.54 4.40l-2.54 4.40h-5.08zM953.3 738.0l2.54 -4.40h5.08l2.54 4.40l-2.54 4.40h-5.08zM961.0 716.0l2.54 -4.40h5.08l2.54 4.40l-2.54 4.40h-5.08zM961.0 865.5l2.54 -4.40h5.08l2.54 4.40l-2.54 4.40h-5.08zM961.0 874.3l2.54 -4.40h5.08l2.54 4.40l-2.54 4.40h-5.08zM961.0 971.0l2.54 -4.40h5.08l2.54 4.40l-2.54 4.40h-5.08zM968.6 667.6l2.54 -4.40h5.08l2.54 4.40l-2.54 4.40h-5.08zM968.6 702.8l2.54 -4.40h5.08l2.54 4.40l-2.54 4.40h-5.08zM968.6 852.3l2.54 -4.40h5.08l2.54 4.40l-2.54 4.40h-5.08zM968.6 861.1l2.54 -4.40h5.08l2.54 4.40l-2.54 4.40h-5.08zM976.2 610.4l2.54 -4.40h5.08l2.54 4.40l-2.54 4.40h-5.08zM976.2 645.6l2.54 -4.40h5.08l2.54 4.40l-2.54 4.40h-5.08zM976.2 733.6l2.54 -4.40h5.08l2.54 4.40l-2.54 4.40h-5.08zM976.2 953.4l2.54 -4.40h5.08l2.54 4.40l-2.54 4.40h-5.08zM976.2 988.6l2.54 -4.40h5.08l2.54 4.40l-2.54 4.40h-5.08zM983.8 614.8l2.54 -4.40h5.08l2.54 4.40l-2.54 4.40h-5.08zM983.8 720.4l2.54 -4.40h5.08l2.54 4.40l-2.54 4.40h-5.08zM983.8 869.9l2.54 -4.40h5.08l2.54 4.40l-2.54 4.40h-5.08zM983.8 957.8l2.54 -4.40h5.08l2.54 4.40l-2.54 4.40h-5.08zM983.8 966.6l2.54 -4.40h5.08l2.54 4.40l-2.54 4.40h-5.08zM991.4 610.4l2.54 -4.40h5.08l2.54 4.40l-2.54 4.40h-5.08zM991.4 733.6l2.54 -4.40h5.08l2.54 4.40l-2.54 4.40h-5.08zM991.4 759.9l2.54 -4.40h5.08l2.54 4.40l-2.54 4.40h-5.08zM991.4 909.5l2.54 -4.40h5.08l2.54 4.40l-2.54 4.40h-5.08zM991.4 944.6l2.54 -4.40h5.08l2.54 4.40l-2.54 4.40h-5.08zM991.4 953.4l2.54 -4.40h5.08l2.54 4.40l-2.54 4.40h-5.08zM999.1 606.0l2.54 -4.40h5.08l2.54 4.40l-2.54 4.40h-5.08zM999.1 896.3l2.54 -4.40h5.08l2.54 4.40l-2.54 4.40h-5.08zM999.1 931.4l2.54 -4.40h5.08l2.54 4.40l-2.54 4.40h-5.08zM1006.7 619.2l2.54 -4.40h5.08l2.54 4.40l-2.54 4.40h-5.08zM1006.7 707.2l2.54 -4.40h5.08l2.54 4.40l-2.54 4.40h-5.08zM1006.7 742.4l2.54 -4.40h5.08l2.54 4.40l-2.54 4.40h-5.08zM1006.7 751.1l2.54 -4.40h5.08l2.54 4.40l-2.54 4.40h-5.08zM1006.7 759.9l2.54 -4.40h5.08l2.54 4.40l-2.54 4.40h-5.08zM1006.7 777.5l2.54 -4.40h5.08l2.54 4.40l-2.54 4.40h-5.08zM1006.7 927.0l2.54 -4.40h5.08l2.54 4.40l-2.54 4.40h-5.08zM1014.3 623.6l2.54 -4.40h5.08l2.54 4.40l-2.54 4.40h-5.08zM1014.3 781.9l2.54 -4.40h5.08l2.54 4.40l-2.54 4.40h-5.08zM1014.3 931.4l2.54 -4.40h5.08l2.54 4.40l-2.54 4.40h-5.08zM1014.3 949.0l2.54 -4.40h5.08l2.54 4.40l-2.54 4.40h-5.08zM1014.3 966.6l2.54 -4.40h5.08l2.54 4.40l-2.54 4.40h-5.08zM1014.3 975.4l2.54 -4.40h5.08l2.54 4.40l-2.54 4.40h-5.08zM1021.9 716.0l2.54 -4.40h5.08l2.54 4.40l-2.54 4.40h-5.08zM1021.9 795.1l2.54 -4.40h5.08l2.54 4.40l-2.54 4.40h-5.08zM1029.5 711.6l2.54 -4.40h5.08l2.54 4.40l-2.54 4.40h-5.08zM1029.5 913.9l2.54 -4.40h5.08l2.54 4.40l-2.54 4.40h-5.08zM1029.5 931.4l2.54 -4.40h5.08l2.54 4.40l-2.54 4.40h-5.08zM1037.2 707.2l2.54 -4.40h5.08l2.54 4.40l-2.54 4.40h-5.08zM1037.2 716.0l2.54 -4.40h5.08l2.54 4.40l-2.54 4.40h-5.08zM1037.2 918.2l2.54 -4.40h5.08l2.54 4.40l-2.54 4.40h-5.08zM1044.8 834.7l2.54 -4.40h5.08l2.54 4.40l-2.54 4.40h-5.08zM1044.8 843.5l2.54 -4.40h5.08l2.54 4.40l-2.54 4.40h-5.08zM1044.8 887.5l2.54 -4.40h5.08l2.54 4.40l-2.54 4.40h-5.08zM1044.8 913.9l2.54 -4.40h5.08l2.54 4.40l-2.54 4.40h-5.08zM1052.4 742.4l2.54 -4.40h5.08l2.54 4.40l-2.54 4.40h-5.08zM1052.4 927.0l2.54 -4.40h5.08l2.54 4.40l-2.54 4.40h-5.08zM1052.4 935.8l2.54 -4.40h5.08l2.54 4.40l-2.54 4.40h-5.08zM1052.4 962.2l2.54 -4.40h5.08l2.54 4.40l-2.54 4.40h-5.08zM1060.0 825.9l2.54 -4.40h5.08l2.54 4.40l-2.54 4.40h-5.08zM1060.0 878.7l2.54 -4.40h5.08l2.54 4.40l-2.54 4.40h-5.08zM1067.7 883.1l2.54 -4.40h5.08l2.54 4.40l-2.54 4.40h-5.08zM1067.7 918.2l2.54 -4.40h5.08l2.54 4.40l-2.54 4.40h-5.08zM1075.3 755.5l2.54 -4.40h5.08l2.54 4.40l-2.54 4.40h-5.08zM1075.3 781.9l2.54 -4.40h5.08l2.54 4.40l-2.54 4.40h-5.08zM1082.9 927.0l2.54 -4.40h5.08l2.54 4.40l-2.54 4.40h-5.08zM1082.9 962.2l2.54 -4.40h5.08l2.54 4.40l-2.54 4.40h-5.08zM1090.5 896.3l2.54 -4.40h5.08l2.54 4.40l-2.54 4.40h-5.08zM1098.1 856.7l2.54 -4.40h5.08l2.54 4.40l-2.54 4.40h-5.08zM1105.8 878.7l2.54 -4.40h5.08l2.54 4.40l-2.54 4.40h-5.08zM1105.8 905.1l2.54 -4.40h5.08l2.54 4.40l-2.54 4.40h-5.08zM1105.8 922.6l2.54 -4.40h5.08l2.54 4.40l-2.54 4.40h-5.08zM1113.4 874.3l2.54 -4.40h5.08l2.54 4.40l-2.54 4.40h-5.08zM1113.4 935.8l2.54 -4.40h5.08l2.54 4.40l-2.54 4.40h-5.08zM1121.0 790.7l2.54 -4.40h5.08l2.54 4.40l-2.54 4.40h-5.08zM1121.0 843.5l2.54 -4.40h5.08l2.54 4.40l-2.54 4.40h-5.08zM1121.0 869.9l2.54 -4.40h5.08l2.54 4.40l-2.54 4.40h-5.08zM1121.0 931.4l2.54 -4.40h5.08l2.54 4.40l-2.54 4.40h-5.08zM1136.3 834.7l2.54 -4.40h5.08l2.54 4.40l-2.54 4.40h-5.08zM1136.3 922.6l2.54 -4.40h5.08l2.54 4.40l-2.54 4.40h-5.08zM1143.9 803.9l2.54 -4.40h5.08l2.54 4.40l-2.54 4.40h-5.08zM552.8 303.6l2.49 -4.31h4.97l2.49 4.31l-2.49 4.31h-4.97zM582.6 286.4l2.49 -4.31h4.97l2.49 4.31l-2.49 4.31h-4.97zM605.0 325.2l2.49 -4.31h4.97l2.49 4.31l-2.49 4.31h-4.97zM605.0 333.8l2.49 -4.31h4.97l2.49 4.31l-2.49 4.31h-4.97zM605.0 497.6l2.49 -4.31h4.97l2.49 4.31l-2.49 4.31h-4.97zM612.4 338.1l2.49 -4.31h4.97l2.49 4.31l-2.49 4.31h-4.97zM612.4 450.1l2.49 -4.31h4.97l2.49 4.31l-2.49 4.31h-4.97zM627.4 251.9l2.49 -4.31h4.97l2.49 4.31l-2.49 4.31h-4.97zM627.4 303.6l2.49 -4.31h4.97l2.49 4.31l-2.49 4.31h-4.97zM627.4 346.7l2.49 -4.31h4.97l2.49 4.31l-2.49 4.31h-4.97zM627.4 476.0l2.49 -4.31h4.97l2.49 4.31l-2.49 4.31h-4.97zM634.8 307.9l2.49 -4.31h4.97l2.49 4.31l-2.49 4.31h-4.97zM634.8 506.2l2.49 -4.31h4.97l2.49 4.31l-2.49 4.31h-4.97zM642.3 320.9l2.49 -4.31h4.97l2.49 4.31l-2.49 4.31h-4.97zM642.3 346.7l2.49 -4.31h4.97l2.49 4.31l-2.49 4.31h-4.97zM642.3 389.8l2.49 -4.31h4.97l2.49 4.31l-2.49 4.31h-4.97zM642.3 398.4l2.49 -4.31h4.97l2.49 4.31l-2.49 4.31h-4.97zM642.3 424.3l2.49 -4.31h4.97l2.49 4.31l-2.49 4.31h-4.97zM642.3 450.1l2.49 -4.31h4.97l2.49 4.31l-2.49 4.31h-4.97zM642.3 467.4l2.49 -4.31h4.97l2.49 4.31l-2.49 4.31h-4.97zM642.3 476.0l2.49 -4.31h4.97l2.49 4.31l-2.49 4.31h-4.97zM642.3 536.3l2.49 -4.31h4.97l2.49 4.31l-2.49 4.31h-4.97zM649.7 299.3l2.49 -4.31h4.97l2.49 4.31l-2.49 4.31h-4.97zM649.7 514.8l2.49 -4.31h4.97l2.49 4.31l-2.49 4.31h-4.97zM657.2 277.8l2.49 -4.31h4.97l2.49 4.31l-2.49 4.31h-4.97zM657.2 295.0l2.49 -4.31h4.97l2.49 4.31l-2.49 4.31h-4.97zM657.2 381.2l2.49 -4.31h4.97l2.49 4.31l-2.49 4.31h-4.97zM657.2 476.0l2.49 -4.31h4.97l2.49 4.31l-2.49 4.31h-4.97zM657.2 501.9l2.49 -4.31h4.97l2.49 4.31l-2.49 4.31h-4.97zM657.2 510.5l2.49 -4.31h4.97l2.49 4.31l-2.49 4.31h-4.97zM657.2 562.2l2.49 -4.31h4.97l2.49 4.31l-2.49 4.31h-4.97zM664.7 239.0l2.49 -4.31h4.97l2.49 4.31l-2.49 4.31h-4.97zM664.7 282.1l2.49 -4.31h4.97l2.49 4.31l-2.49 4.31h-4.97zM664.7 385.5l2.49 -4.31h4.97l2.49 4.31l-2.49 4.31h-4.97zM664.7 445.8l2.49 -4.31h4.97l2.49 4.31l-2.49 4.31h-4.97zM664.7 454.5l2.49 -4.31h4.97l2.49 4.31l-2.49 4.31h-4.97zM664.7 566.5l2.49 -4.31h4.97l2.49 4.31l-2.49 4.31h-4.97zM672.1 234.6l2.49 -4.31h4.97l2.49 4.31l-2.49 4.31h-4.97zM672.1 260.5l2.49 -4.31h4.97l2.49 4.31l-2.49 4.31h-4.97zM672.1 286.4l2.49 -4.31h4.97l2.49 4.31l-2.49 4.31h-4.97zM672.1 320.9l2.49 -4.31h4.97l2.49 4.31l-2.49 4.31h-4.97zM672.1 389.8l2.49 -4.31h4.97l2.49 4.31l-2.49 4.31h-4.97zM672.1 398.4l2.49 -4.31h4.97l2.49 4.31l-2.49 4.31h-4.97zM672.1 432.9l2.49 -4.31h4.97l2.49 4.31l-2.49 4.31h-4.97zM672.1 501.9l2.49 -4.31h4.97l2.49 4.31l-2.49 4.31h-4.97zM672.1 579.4l2.49 -4.31h4.97l2.49 4.31l-2.49 4.31h-4.97zM679.6 282.1l2.49 -4.31h4.97l2.49 4.31l-2.49 4.31h-4.97zM679.6 351.0l2.49 -4.31h4.97l2.49 4.31l-2.49 4.31h-4.97zM679.6 359.6l2.49 -4.31h4.97l2.49 4.31l-2.49 4.31h-4.97zM679.6 385.5l2.49 -4.31h4.97l2.49 4.31l-2.49 4.31h-4.97zM679.6 394.1l2.49 -4.31h4.97l2.49 4.31l-2.49 4.31h-4.97zM679.6 420.0l2.49 -4.31h4.97l2.49 4.31l-2.49 4.31h-4.97zM679.6 454.5l2.49 -4.31h4.97l2.49 4.31l-2.49 4.31h-4.97zM679.6 566.5l2.49 -4.31h4.97l2.49 4.31l-2.49 4.31h-4.97zM679.6 575.1l2.49 -4.31h4.97l2.49 4.31l-2.49 4.31h-4.97zM687.0 260.5l2.49 -4.31h4.97l2.49 4.31l-2.49 4.31h-4.97zM687.0 320.9l2.49 -4.31h4.97l2.49 4.31l-2.49 4.31h-4.97zM687.0 355.3l2.49 -4.31h4.97l2.49 4.31l-2.49 4.31h-4.97zM687.0 372.6l2.49 -4.31h4.97l2.49 4.31l-2.49 4.31h-4.97zM687.0 407.1l2.49 -4.31h4.97l2.49 4.31l-2.49 4.31h-4.97zM687.0 536.3l2.49 -4.31h4.97l2.49 4.31l-2.49 4.31h-4.97zM687.0 588.1l2.49 -4.31h4.97l2.49 4.31l-2.49 4.31h-4.97zM694.5 273.4l2.49 -4.31h4.97l2.49 4.31l-2.49 4.31h-4.97zM694.5 282.1l2.49 -4.31h4.97l2.49 4.31l-2.49 4.31h-4.97zM694.5 359.6l2.49 -4.31h4.97l2.49 4.31l-2.49 4.31h-4.97zM694.5 402.7l2.49 -4.31h4.97l2.49 4.31l-2.49 4.31h-4.97zM694.5 445.8l2.49 -4.31h4.97l2.49 4.31l-2.49 4.31h-4.97zM694.5 480.3l2.49 -4.31h4.97l2.49 4.31l-2.49 4.31h-4.97zM694.5 532.0l2.49 -4.31h4.97l2.49 4.31l-2.49 4.31h-4.97zM702.0 260.5l2.49 -4.31h4.97l2.49 4.31l-2.49 4.31h-4.97zM702.0 424.3l2.49 -4.31h4.97l2.49 4.31l-2.49 4.31h-4.97zM702.0 476.0l2.49 -4.31h4.97l2.49 4.31l-2.49 4.31h-4.97zM702.0 570.8l2.49 -4.31h4.97l2.49 4.31l-2.49 4.31h-4.97zM702.0 579.4l2.49 -4.31h4.97l2.49 4.31l-2.49 4.31h-4.97zM709.4 239.0l2.49 -4.31h4.97l2.49 4.31l-2.49 4.31h-4.97zM709.4 445.8l2.49 -4.31h4.97l2.49 4.31l-2.49 4.31h-4.97zM709.4 454.5l2.49 -4.31h4.97l2.49 4.31l-2.49 4.31h-4.97zM709.4 497.6l2.49 -4.31h4.97l2.49 4.31l-2.49 4.31h-4.97zM716.9 277.8l2.49 -4.31h4.97l2.49 4.31l-2.49 4.31h-4.97zM716.9 372.6l2.49 -4.31h4.97l2.49 4.31l-2.49 4.31h-4.97zM716.9 389.8l2.49 -4.31h4.97l2.49 4.31l-2.49 4.31h-4.97zM716.9 415.7l2.49 -4.31h4.97l2.49 4.31l-2.49 4.31h-4.97zM716.9 562.2l2.49 -4.31h4.97l2.49 4.31l-2.49 4.31h-4.97zM716.9 579.4l2.49 -4.31h4.97l2.49 4.31l-2.49 4.31h-4.97zM724.3 273.4l2.49 -4.31h4.97l2.49 4.31l-2.49 4.31h-4.97zM724.3 402.7l2.49 -4.31h4.97l2.49 4.31l-2.49 4.31h-4.97zM724.3 411.4l2.49 -4.31h4.97l2.49 4.31l-2.49 4.31h-4.97zM724.3 463.1l2.49 -4.31h4.97l2.49 4.31l-2.49 4.31h-4.97zM724.3 549.3l2.49 -4.31h4.97l2.49 4.31l-2.49 4.31h-4.97zM731.8 415.7l2.49 -4.31h4.97l2.49 4.31l-2.49 4.31h-4.97zM731.8 467.4l2.49 -4.31h4.97l2.49 4.31l-2.49 4.31h-4.97zM739.3 299.3l2.49 -4.31h4.97l2.49 4.31l-2.49 4.31h-4.97zM739.3 325.2l2.49 -4.31h4.97l2.49 4.31l-2.49 4.31h-4.97zM739.3 333.8l2.49 -4.31h4.97l2.49 4.31l-2.49 4.31h-4.97zM739.3 394.1l2.49 -4.31h4.97l2.49 4.31l-2.49 4.31h-4.97zM739.3 402.7l2.49 -4.31h4.97l2.49 4.31l-2.49 4.31h-4.97zM739.3 437.2l2.49 -4.31h4.97l2.49 4.31l-2.49 4.31h-4.97zM739.3 540.7l2.49 -4.31h4.97l2.49 4.31l-2.49 4.31h-4.97zM739.3 575.1l2.49 -4.31h4.97l2.49 4.31l-2.49 4.31h-4.97zM746.7 286.4l2.49 -4.31h4.97l2.49 4.31l-2.49 4.31h-4.97zM746.7 363.9l2.49 -4.31h4.97l2.49 4.31l-2.49 4.31h-4.97zM746.7 432.9l2.49 -4.31h4.97l2.49 4.31l-2.49 4.31h-4.97zM746.7 493.2l2.49 -4.31h4.97l2.49 4.31l-2.49 4.31h-4.97zM746.7 527.7l2.49 -4.31h4.97l2.49 4.31l-2.49 4.31h-4.97zM746.7 553.6l2.49 -4.31h4.97l2.49 4.31l-2.49 4.31h-4.97zM746.7 570.8l2.49 -4.31h4.97l2.49 4.31l-2.49 4.31h-4.97zM754.2 247.6l2.49 -4.31h4.97l2.49 4.31l-2.49 4.31h-4.97zM754.2 454.5l2.49 -4.31h4.97l2.49 4.31l-2.49 4.31h-4.97zM754.2 532.0l2.49 -4.31h4.97l2.49 4.31l-2.49 4.31h-4.97zM761.6 217.4l2.49 -4.31h4.97l2.49 4.31l-2.49 4.31h-4.97zM761.6 260.5l2.49 -4.31h4.97l2.49 4.31l-2.49 4.31h-4.97zM761.6 320.9l2.49 -4.31h4.97l2.49 4.31l-2.49 4.31h-4.97zM761.6 355.3l2.49 -4.31h4.97l2.49 4.31l-2.49 4.31h-4.97zM761.6 381.2l2.49 -4.31h4.97l2.49 4.31l-2.49 4.31h-4.97zM761.6 389.8l2.49 -4.31h4.97l2.49 4.31l-2.49 4.31h-4.97zM769.1 170.0l2.49 -4.31h4.97l2.49 4.31l-2.49 4.31h-4.97zM769.1 213.1l2.49 -4.31h4.97l2.49 4.31l-2.49 4.31h-4.97zM769.1 342.4l2.49 -4.31h4.97l2.49 4.31l-2.49 4.31h-4.97zM769.1 420.0l2.49 -4.31h4.97l2.49 4.31l-2.49 4.31h-4.97zM769.1 471.7l2.49 -4.31h4.97l2.49 4.31l-2.49 4.31h-4.97zM769.1 540.7l2.49 -4.31h4.97l2.49 4.31l-2.49 4.31h-4.97zM776.6 346.7l2.49 -4.31h4.97l2.49 4.31l-2.49 4.31h-4.97zM776.6 363.9l2.49 -4.31h4.97l2.49 4.31l-2.49 4.31h-4.97zM776.6 372.6l2.49 -4.31h4.97l2.49 4.31l-2.49 4.31h-4.97zM776.6 432.9l2.49 -4.31h4.97l2.49 4.31l-2.49 4.31h-4.97zM776.6 484.6l2.49 -4.31h4.97l2.49 4.31l-2.49 4.31h-4.97zM776.6 545.0l2.49 -4.31h4.97l2.49 4.31l-2.49 4.31h-4.97zM776.6 553.6l2.49 -4.31h4.97l2.49 4.31l-2.49 4.31h-4.97zM784.0 204.5l2.49 -4.31h4.97l2.49 4.31l-2.49 4.31h-4.97zM784.0 532.0l2.49 -4.31h4.97l2.49 4.31l-2.49 4.31h-4.97zM791.5 312.2l2.49 -4.31h4.97l2.49 4.31l-2.49 4.31h-4.97zM791.5 389.8l2.49 -4.31h4.97l2.49 4.31l-2.49 4.31h-4.97zM791.5 407.1l2.49 -4.31h4.97l2.49 4.31l-2.49 4.31h-4.97zM791.5 536.3l2.49 -4.31h4.97l2.49 4.31l-2.49 4.31h-4.97zM798.9 316.5l2.49 -4.31h4.97l2.49 4.31l-2.49 4.31h-4.97zM798.9 394.1l2.49 -4.31h4.97l2.49 4.31l-2.49 4.31h-4.97zM798.9 402.7l2.49 -4.31h4.97l2.49 4.31l-2.49 4.31h-4.97zM798.9 411.4l2.49 -4.31h4.97l2.49 4.31l-2.49 4.31h-4.97zM798.9 420.0l2.49 -4.31h4.97l2.49 4.31l-2.49 4.31h-4.97zM798.9 437.2l2.49 -4.31h4.97l2.49 4.31l-2.49 4.31h-4.97zM798.9 540.7l2.49 -4.31h4.97l2.49 4.31l-2.49 4.31h-4.97zM806.4 320.9l2.49 -4.31h4.97l2.49 4.31l-2.49 4.31h-4.97zM806.4 363.9l2.49 -4.31h4.97l2.49 4.31l-2.49 4.31h-4.97zM806.4 372.6l2.49 -4.31h4.97l2.49 4.31l-2.49 4.31h-4.97zM806.4 450.1l2.49 -4.31h4.97l2.49 4.31l-2.49 4.31h-4.97zM806.4 519.1l2.49 -4.31h4.97l2.49 4.31l-2.49 4.31h-4.97zM813.9 359.6l2.49 -4.31h4.97l2.49 4.31l-2.49 4.31h-4.97zM813.9 394.1l2.49 -4.31h4.97l2.49 4.31l-2.49 4.31h-4.97zM813.9 523.4l2.49 -4.31h4.97l2.49 4.31l-2.49 4.31h-4.97zM821.3 338.1l2.49 -4.31h4.97l2.49 4.31l-2.49 4.31h-4.97zM821.3 501.9l2.49 -4.31h4.97l2.49 4.31l-2.49 4.31h-4.97zM821.3 510.5l2.49 -4.31h4.97l2.49 4.31l-2.49 4.31h-4.97zM821.3 527.7l2.49 -4.31h4.97l2.49 4.31l-2.49 4.31h-4.97zM828.8 307.9l2.49 -4.31h4.97l2.49 4.31l-2.49 4.31h-4.97zM828.8 325.2l2.49 -4.31h4.97l2.49 4.31l-2.49 4.31h-4.97zM836.2 312.2l2.49 -4.31h4.97l2.49 4.31l-2.49 4.31h-4.97zM836.2 355.3l2.49 -4.31h4.97l2.49 4.31l-2.49 4.31h-4.97zM843.7 307.9l2.49 -4.31h4.97l2.49 4.31l-2.49 4.31h-4.97zM843.7 325.2l2.49 -4.31h4.97l2.49 4.31l-2.49 4.31h-4.97zM866.1 27.8l2.49 -4.31h4.97l2.49 4.31l-2.49 4.31h-4.97zM866.1 53.6l2.49 -4.31h4.97l2.49 4.31l-2.49 4.31h-4.97zM866.1 79.5l2.49 -4.31h4.97l2.49 4.31l-2.49 4.31h-4.97zM873.5 32.1l2.49 -4.31h4.97l2.49 4.31l-2.49 4.31h-4.97zM637.3 814.7l2.43 -4.21h4.85l2.43 4.21l-2.43 4.21h-4.85zM659.1 844.2l2.43 -4.21h4.85l2.43 4.21l-2.43 4.21h-4.85zM666.4 797.9l2.43 -4.21h4.85l2.43 4.21l-2.43 4.21h-4.85zM673.7 810.5l2.43 -4.21h4.85l2.43 4.21l-2.43 4.21h-4.85zM673.7 827.3l2.43 -4.21h4.85l2.43 4.21l-2.43 4.21h-4.85zM673.7 835.8l2.43 -4.21h4.85l2.43 4.21l-2.43 4.21h-4.85zM688.2 802.1l2.43 -4.21h4.85l2.43 4.21l-2.43 4.21h-4.85zM695.5 781.0l2.43 -4.21h4.85l2.43 4.21l-2.43 4.21h-4.85zM695.5 806.3l2.43 -4.21h4.85l2.43 4.21l-2.43 4.21h-4.85zM695.5 831.5l2.43 -4.21h4.85l2.43 4.21l-2.43 4.21h-4.85zM695.5 848.4l2.43 -4.21h4.85l2.43 4.21l-2.43 4.21h-4.85zM695.5 856.8l2.43 -4.21h4.85l2.43 4.21l-2.43 4.21h-4.85zM702.8 776.8l2.43 -4.21h4.85l2.43 4.21l-2.43 4.21h-4.85zM710.1 772.6l2.43 -4.21h4.85l2.43 4.21l-2.43 4.21h-4.85zM710.1 789.5l2.43 -4.21h4.85l2.43 4.21l-2.43 4.21h-4.85zM710.1 797.9l2.43 -4.21h4.85l2.43 4.21l-2.43 4.21h-4.85zM710.1 814.7l2.43 -4.21h4.85l2.43 4.21l-2.43 4.21h-4.85zM710.1 848.4l2.43 -4.21h4.85l2.43 4.21l-2.43 4.21h-4.85zM717.3 751.6l2.43 -4.21h4.85l2.43 4.21l-2.43 4.21h-4.85zM717.3 760.0l2.43 -4.21h4.85l2.43 4.21l-2.43 4.21h-4.85zM717.3 776.8l2.43 -4.21h4.85l2.43 4.21l-2.43 4.21h-4.85zM724.6 764.2l2.43 -4.21h4.85l2.43 4.21l-2.43 4.21h-4.85zM731.9 701.0l2.43 -4.21h4.85l2.43 4.21l-2.43 4.21h-4.85zM731.9 776.8l2.43 -4.21h4.85l2.43 4.21l-2.43 4.21h-4.85zM731.9 802.1l2.43 -4.21h4.85l2.43 4.21l-2.43 4.21h-4.85zM739.2 764.2l2.43 -4.21h4.85l2.43 4.21l-2.43 4.21h-4.85zM739.2 789.5l2.43 -4.21h4.85l2.43 4.21l-2.43 4.21h-4.85zM739.2 831.5l2.43 -4.21h4.85l2.43 4.21l-2.43 4.21h-4.85zM746.4 726.3l2.43 -4.21h4.85l2.43 4.21l-2.43 4.21h-4.85zM746.4 768.4l2.43 -4.21h4.85l2.43 4.21l-2.43 4.21h-4.85zM746.4 835.8l2.43 -4.21h4.85l2.43 4.21l-2.43 4.21h-4.85zM746.4 869.4l2.43 -4.21h4.85l2.43 4.21l-2.43 4.21h-4.85zM753.7 722.1l2.43 -4.21h4.85l2.43 4.21l-2.43 4.21h-4.85zM753.7 806.3l2.43 -4.21h4.85l2.43 4.21l-2.43 4.21h-4.85zM753.7 848.4l2.43 -4.21h4.85l2.43 4.21l-2.43 4.21h-4.85zM782.8 831.5l2.43 -4.21h4.85l2.43 4.21l-2.43 4.21h-4.85z"/>
<path fill="#3262d8" d="M701.8 1023.8l2.54 -4.40h5.08l2.54 4.40l-2.54 4.40h-5.08zM717.0 1023.8l2.54 -4.40h5.08l2.54 4.40l-2.54 4.40h-5.08zM724.7 1054.6l2.54 -4.40h5.08l2.54 4.40l-2.54 4.40h-5.08zM732.3 1032.6l2.54 -4.40h5.08l2.54 4.40l-2.54 4.40h-5.08zM755.2 1001.8l2.54 -4.40h5.08l2.54 4.40l-2.54 4.40h-5.08zM755.2 1010.6l2.54 -4.40h5.08l2.54 4.40l-2.54 4.40h-5.08zM762.8 971.0l2.54 -4.40h5.08l2.54 4.40l-2.54 4.40h-5.08zM770.4 949.0l2.54 -4.40h5.08l2.54 4.40l-2.54 4.40h-5.08zM770.4 1010.6l2.54 -4.40h5.08l2.54 4.40l-2.54 4.40h-5.08zM778.0 988.6l2.54 -4.40h5.08l2.54 4.40l-2.54 4.40h-5.08zM793.3 944.6l2.54 -4.40h5.08l2.54 4.40l-2.54 4.40h-5.08zM793.3 979.8l2.54 -4.40h5.08l2.54 4.40l-2.54 4.40h-5.08zM800.9 966.6l2.54 -4.40h5.08l2.54 4.40l-2.54 4.40h-5.08zM808.5 1032.6l2.54 -4.40h5.08l2.54 4.40l-2.54 4.40h-5.08zM816.1 940.2l2.54 -4.40h5.08l2.54 4.40l-2.54 4.40h-5.08zM823.8 944.6l2.54 -4.40h5.08l2.54 4.40l-2.54 4.40h-5.08zM823.8 971.0l2.54 -4.40h5.08l2.54 4.40l-2.54 4.40h-5.08zM823.8 1006.2l2.54 -4.40h5.08l2.54 4.40l-2.54 4.40h-5.08zM831.4 597.2l2.54 -4.40h5.08l2.54 4.40l-2.54 4.40h-5.08zM831.4 940.2l2.54 -4.40h5.08l2.54 4.40l-2.54 4.40h-5.08zM831.4 975.4l2.54 -4.40h5.08l2.54 4.40l-2.54 4.40h-5.08zM839.0 628.0l2.54 -4.40h5.08l2.54 4.40l-2.54 4.40h-5.08zM839.0 971.0l2.54 -4.40h5.08l2.54 4.40l-2.54 4.40h-5.08zM839.0 988.6l2.54 -4.40h5.08l2.54 4.40l-2.54 4.40h-5.08zM846.6 606.0l2.54 -4.40h5.08l2.54 4.40l-2.54 4.40h-5.08zM846.6 614.8l2.54 -4.40h5.08l2.54 4.40l-2.54 4.40h-5.08zM846.6 623.6l2.54 -4.40h5.08l2.54 4.40l-2.54 4.40h-5.08zM846.6 808.3l2.54 -4.40h5.08l2.54 4.40l-2.54 4.40h-5.08zM854.2 962.2l2.54 -4.40h5.08l2.54 4.40l-2.54 4.40h-5.08zM861.9 614.8l2.54 -4.40h5.08l2.54 4.40l-2.54 4.40h-5.08zM861.9 843.5l2.54 -4.40h5.08l2.54 4.40l-2.54 4.40h-5.08zM861.9 966.6l2.54 -4.40h5.08l2.54 4.40l-2.54 4.40h-5.08zM869.5 557.7l2.54 -4.40h5.08l2.54 4.40l-2.54 4.40h-5.08zM869.5 566.5l2.54 -4.40h5.08l2.54 4.40l-2.54 4.40h-5.08zM869.5 592.8l2.54 -4.40h5.08l2.54 4.40l-2.54 4.40h-5.08zM869.5 733.6l2.54 -4.40h5.08l2.54 4.40l-2.54 4.40h-5.08zM869.5 759.9l2.54 -4.40h5.08l2.54 4.40l-2.54 4.40h-5.08zM869.5 786.3l2.54 -4.40h5.08l2.54 4.40l-2.54 4.40h-5.08zM869.5 874.3l2.54 -4.40h5.08l2.54 4.40l-2.54 4.40h-5.08zM877.1 606.0l2.54 -4.40h5.08l2.54 4.40l-2.54 4.40h-5.08zM877.1 623.6l2.54 -4.40h5.08l2.54 4.40l-2.54 4.40h-5.08zM877.1 676.4l2.54 -4.40h5.08l2.54 4.40l-2.54 4.40h-5.08zM877.1 729.2l2.54 -4.40h5.08l2.54 4.40l-2.54 4.40h-5.08zM877.1 790.7l2.54 -4.40h5.08l2.54 4.40l-2.54 4.40h-5.08zM877.1 843.5l2.54 -4.40h5.08l2.54 4.40l-2.54 4.40h-5.08zM877.1 913.9l2.54 -4.40h5.08l2.54 4.40l-2.54 4.40h-5.08zM877.1 940.2l2.54 -4.40h5.08l2.54 4.40l-2.54 4.40h-5.08zM877.1 957.8l2.54 -4.40h5.08l2.54 4.40l-2.54 4.40h-5.08zM877.1 975.4l2.54 -4.40h5.08l2.54 4.40l-2.54 4.40h-5.08zM884.7 548.9l2.54 -4.40h5.08l2.54 4.40l-2.54 4.40h-5.08zM884.7 584.0l2.54 -4.40h5.08l2.54 4.40l-2.54 4.40h-5.08zM884.7 601.6l2.54 -4.40h5.08l2.54 4.40l-2.54 4.40h-5.08zM884.7 636.8l2.54 -4.40h5.08l2.54 4.40l-2.54 4.40h-5.08zM884.7 645.6l2.54 -4.40h5.08l2.54 4.40l-2.54 4.40h-5.08zM884.7 724.8l2.54 -4.40h5.08l2.54 4.40l-2.54 4.40h-5.08zM884.7 759.9l2.54 -4.40h5.08l2.54 4.40l-2.54 4.40h-5.08zM884.7 927.0l2.54 -4.40h5.08l2.54 4.40l-2.54 4.40h-5.08zM884.7 962.2l2.54 -4.40h5.08l2.54 4.40l-2.54 4.40h-5.08zM884.7 971.0l2.54 -4.40h5.08l2.54 4.40l-2.54 4.40h-5.08zM892.4 632.4l2.54 -4.40h5.08l2.54 4.40l-2.54 4.40h-5.08zM892.4 641.2l2.54 -4.40h5.08l2.54 4.40l-2.54 4.40h-5.08zM892.4 658.8l2.54 -4.40h5.08l2.54 4.40l-2.54 4.40h-5.08zM892.4 896.3l2.54 -4.40h5.08l2.54 4.40l-2.54 4.40h-5.08zM892.4 957.8l2.54 -4.40h5.08l2.54 4.40l-2.54 4.40h-5.08zM892.4 966.6l2.54 -4.40h5.08l2.54 4.40l-2.54 4.40h-5.08zM892.4 975.4l2.54 -4.40h5.08l2.54 4.40l-2.54 4.40h-5.08zM900.0 592.8l2.54 -4.40h5.08l2.54 4.40l-2.54 4.40h-5.08zM900.0 865.5l2.54 -4.40h5.08l2.54 4.40l-2.54 4.40h-5.08zM907.6 535.7l2.54 -4.40h5.08l2.54 4.40l-2.54 4.40h-5.08zM907.6 931.4l2.54 -4.40h5.08l2.54 4.40l-2.54 4.40h-5.08zM915.2 504.9l2.54 -4.40h5.08l2.54 4.40l-2.54 4.40h-5.08zM915.2 619.2l2.54 -4.40h5.08l2.54 4.40l-2.54 4.40h-5.08zM915.2 751.1l2.54 -4.40h5.08l2.54 4.40l-2.54 4.40h-5.08zM915.2 777.5l2.54 -4.40h5.08l2.54 4.40l-2.54 4.40h-5.08zM915.2 874.3l2.54 -4.40h5.08l2.54 4.40l-2.54 4.40h-5.08zM915.2 988.6l2.54 -4.40h5.08l2.54 4.40l-2.54 4.40h-5.08zM922.8 526.9l2.54 -4.40h5.08l2.54 4.40l-2.54 4.40h-5.08zM922.8 535.7l2.54 -4.40h5.08l2.54 4.40l-2.54 4.40h-5.08zM922.8 694.0l2.54 -4.40h5.08l2.54 4.40l-2.54 4.40h-5.08zM922.8 773.1l2.54 -4.40h5.08l2.54 4.40l-2.54 4.40h-5.08zM930.5 540.1l2.54 -4.40h5.08l2.54 4.40l-2.54 4.40h-5.08zM930.5 751.1l2.54 -4.40h5.08l2.54 4.40l-2.54 4.40h-5.08zM930.5 865.5l2.54 -4.40h5.08l2.54 4.40l-2.54 4.40h-5.08zM930.5 891.9l2.54 -4.40h5.08l2.54 4.40l-2.54 4.40h-5.08zM938.1 676.4l2.54 -4.40h5.08l2.54 4.40l-2.54 4.40h-5.08zM938.1 702.8l2.54 -4.40h5.08l2.54 4.40l-2.54 4.40h-5.08zM938.1 799.5l2.54 -4.40h5.08l2.54 4.40l-2.54 4.40h-5.08zM938.1 817.1l2.54 -4.40h5.08l2.54 4.40l-2.54 4.40h-5.08zM938.1 887.5l2.54 -4.40h5.08l2.54 4.40l-2.54 4.40h-5.08zM938.1 905.1l2.54 -4.40h5.08l2.54 4.40l-2.54 4.40h-5.08zM938.1 931.4l2.54 -4.40h5.08l2.54 4.40l-2.54 4.40h-5.08zM938.1 940.2l2.54 -4.40h5.08l2.54 4.40l-2.54 4.40h-5.08zM938.1 966.6l2.54 -4.40h5.08l2.54 4.40l-2.54 4.40h-5.08zM938.1 975.4l2.54 -4.40h5.08l2.54 4.40l-2.54 4.40h-5.08zM945.7 496.1l2.54 -4.40h5.08l2.54 4.40l-2.54 4.40h-5.08zM945.7 575.2l2.54 -4.40h5.08l2.54 4.40l-2.54 4.40h-5.08zM945.7 663.2l2.54 -4.40h5.08l2.54 4.40l-2.54 4.40h-5.08zM953.3 544.5l2.54 -4.40h5.08l2.54 4.40l-2.54 4.40h-5.08zM953.3 764.3l2.54 -4.40h5.08l2.54 4.40l-2.54 4.40h-5.08zM953.3 896.3l2.54 -4.40h5.08l2.54 4.40l-2.54 4.40h-5.08zM953.3 931.4l2.54 -4.40h5.08l2.54 4.40l-2.54 4.40h-5.08zM953.3 975.4l2.54 -4.40h5.08l2.54 4.40l-2.54 4.40h-5.08zM961.0 619.2l2.54 -4.40h5.08l2.54 4.40l-2.54 4.40h-5.08zM961.0 689.6l2.54 -4.40h5.08l2.54 4.40l-2.54 4.40h-5.08zM961.0 751.1l2.54 -4.40h5.08l2.54 4.40l-2.54 4.40h-5.08zM961.0 786.3l2.54 -4.40h5.08l2.54 4.40l-2.54 4.40h-5.08zM961.0 927.0l2.54 -4.40h5.08l2.54 4.40l-2.54 4.40h-5.08zM961.0 944.6l2.54 -4.40h5.08l2.54 4.40l-2.54 4.40h-5.08zM961.0 979.8l2.54 -4.40h5.08l2.54 4.40l-2.54 4.40h-5.08zM968.6 694.0l2.54 -4.40h5.08l2.54 4.40l-2.54 4.40h-5.08zM968.6 729.2l2.54 -4.40h5.08l2.54 4.40l-2.54 4.40h-5.08zM968.6 738.0l2.54 -4.40h5.08l2.54 4.40l-2.54 4.40h-5.08zM968.6 869.9l2.54 -4.40h5.08l2.54 4.40l-2.54 4.40h-5.08zM968.6 922.6l2.54 -4.40h5.08l2.54 4.40l-2.54 4.40h-5.08zM968.6 940.2l2.54 -4.40h5.08l2.54 4.40l-2.54 4.40h-5.08zM968.6 949.0l2.54 -4.40h5.08l2.54 4.40l-2.54 4.40h-5.08zM976.2 619.2l2.54 -4.40h5.08l2.54 4.40l-2.54 4.40h-5.08zM976.2 777.5l2.54 -4.40h5.08l2.54 4.40l-2.54 4.40h-5.08zM976.2 795.1l2.54 -4.40h5.08l2.54 4.40l-2.54 4.40h-5.08zM976.2 856.7l2.54 -4.40h5.08l2.54 4.40l-2.54 4.40h-5.08zM976.2 883.1l2.54 -4.40h5.08l2.54 4.40l-2.54 4.40h-5.08zM976.2 927.0l2.54 -4.40h5.08l2.54 4.40l-2.54 4.40h-5.08zM976.2 971.0l2.54 -4.40h5.08l2.54 4.40l-2.54 4.40h-5.08zM976.2 997.4l2.54 -4.40h5.08l2.54 4.40l-2.54 4.40h-5.08zM983.8 676.4l2.54 -4.40h5.08l2.54 4.40l-2.54 4.40h-5.08zM983.8 913.9l2.54 -4.40h5.08l2.54 4.40l-2.54 4.40h-5.08zM991.4 601.6l2.54 -4.40h5.08l2.54 4.40l-2.54 4.40h-5.08zM991.4 628.0l2.54 -4.40h5.08l2.54 4.40l-2.54 4.40h-5.08zM991.4 689.6l2.54 -4.40h5.08l2.54 4.40l-2.54 4.40h-5.08zM991.4 979.8l2.54 -4.40h5.08l2.54 4.40l-2.54 4.40h-5.08zM999.1 755.5l2.54 -4.40h5.08l2.54 4.40l-2.54 4.40h-5.08zM1006.7 663.2l2.54 -4.40h5.08l2.54 4.40l-2.54 4.40h-5.08zM1006.7 733.6l2.54 -4.40h5.08l2.54 4.40l-2.54 4.40h-5.08zM1006.7 979.8l2.54 -4.40h5.08l2.54 4.40l-2.54 4.40h-5.08zM1014.3 667.6l2.54 -4.40h5.08l2.54 4.40l-2.54 4.40h-5.08zM1014.3 685.2l2.54 -4.40h5.08l2.54 4.40l-2.54 4.40h-5.08zM1014.3 702.8l2.54 -4.40h5.08l2.54 4.40l-2.54 4.40h-5.08zM1014.3 799.5l2.54 -4.40h5.08l2.54 4.40l-2.54 4.40h-5.08zM1021.9 636.8l2.54 -4.40h5.08l2.54 4.40l-2.54 4.40h-5.08zM1021.9 698.4l2.54 -4.40h5.08l2.54 4.40l-2.54 4.40h-5.08zM1021.9 707.2l2.54 -4.40h5.08l2.54 4.40l-2.54 4.40h-5.08zM1021.9 953.4l2.54 -4.40h5.08l2.54 4.40l-2.54 4.40h-5.08zM1021.9 962.2l2.54 -4.40h5.08l2.54 4.40l-2.54 4.40h-5.08zM1029.5 676.4l2.54 -4.40h5.08l2.54 4.40l-2.54 4.40h-5.08zM1029.5 966.6l2.54 -4.40h5.08l2.54 4.40l-2.54 4.40h-5.08zM1037.2 698.4l2.54 -4.40h5.08l2.54 4.40l-2.54 4.40h-5.08zM1037.2 874.3l2.54 -4.40h5.08l2.54 4.40l-2.54 4.40h-5.08zM1044.8 773.1l2.54 -4.40h5.08l2.54 4.40l-2.54 4.40h-5.08zM1044.8 878.7l2.54 -4.40h5.08l2.54 4.40l-2.54 4.40h-5.08zM1044.8 957.8l2.54 -4.40h5.08l2.54 4.40l-2.54 4.40h-5.08zM1060.0 738.0l2.54 -4.40h5.08l2.54 4.40l-2.54 4.40h-5.08zM1060.0 746.7l2.54 -4.40h5.08l2.54 4.40l-2.54 4.40h-5.08zM1060.0 913.9l2.54 -4.40h5.08l2.54 4.40l-2.54 4.40h-5.08zM1060.0 975.4l2.54 -4.40h5.08l2.54 4.40l-2.54 4.40h-5.08zM1067.7 759.9l2.54 -4.40h5.08l2.54 4.40l-2.54 4.40h-5.08zM1067.7 944.6l2.54 -4.40h5.08l2.54 4.40l-2.54 4.40h-5.08zM1075.3 799.5l2.54 -4.40h5.08l2.54 4.40l-2.54 4.40h-5.08zM1075.3 975.4l2.54 -4.40h5.08l2.54 4.40l-2.54 4.40h-5.08zM1082.9 777.5l2.54 -4.40h5.08l2.54 4.40l-2.54 4.40h-5.08zM1098.1 865.5l2.54 -4.40h5.08l2.54 4.40l-2.54 4.40h-5.08zM1098.1 891.9l2.54 -4.40h5.08l2.54 4.40l-2.54 4.40h-5.08zM1105.8 755.5l2.54 -4.40h5.08l2.54 4.40l-2.54 4.40h-5.08zM1105.8 940.2l2.54 -4.40h5.08l2.54 4.40l-2.54 4.40h-5.08zM1113.4 918.2l2.54 -4.40h5.08l2.54 4.40l-2.54 4.40h-5.08zM1121.0 764.3l2.54 -4.40h5.08l2.54 4.40l-2.54 4.40h-5.08zM1121.0 852.3l2.54 -4.40h5.08l2.54 4.40l-2.54 4.40h-5.08zM1121.0 913.9l2.54 -4.40h5.08l2.54 4.40l-2.54 4.40h-5.08zM1121.0 922.6l2.54 -4.40h5.08l2.54 4.40l-2.54 4.40h-5.08zM1128.6 821.5l2.54 -4.40h5.08l2.54 4.40l-2.54 4.40h-5.08zM1128.6 918.2l2.54 -4.40h5.08l2.54 4.40l-2.54 4.40h-5.08zM1136.3 817.1l2.54 -4.40h5.08l2.54 4.40l-2.54 4.40h-5.08zM1136.3 825.9l2.54 -4.40h5.08l2.54 4.40l-2.54 4.40h-5.08zM560.2 307.9l2.49 -4.31h4.97l2.49 4.31l-2.49 4.31h-4.97zM560.2 325.2l2.49 -4.31h4.97l2.49 4.31l-2.49 4.31h-4.97zM567.7 407.1l2.49 -4.31h4.97l2.49 4.31l-2.49 4.31h-4.97zM575.1 290.7l2.49 -4.31h4.97l2.49 4.31l-2.49 4.31h-4.97zM590.1 411.4l2.49 -4.31h4.97l2.49 4.31l-2.49 4.31h-4.97zM597.5 243.3l2.49 -4.31h4.97l2.49 4.31l-2.49 4.31h-4.97zM597.5 251.9l2.49 -4.31h4.97l2.49 4.31l-2.49 4.31h-4.97zM605.0 299.3l2.49 -4.31h4.97l2.49 4.31l-2.49 4.31h-4.97zM605.0 316.5l2.49 -4.31h4.97l2.49 4.31l-2.49 4.31h-4.97zM605.0 368.3l2.49 -4.31h4.97l2.49 4.31l-2.49 4.31h-4.97zM612.4 303.6l2.49 -4.31h4.97l2.49 4.31l-2.49 4.31h-4.97zM619.9 316.5l2.49 -4.31h4.97l2.49 4.31l-2.49 4.31h-4.97zM627.4 329.5l2.49 -4.31h4.97l2.49 4.31l-2.49 4.31h-4.97zM634.8 437.2l2.49 -4.31h4.97l2.49 4.31l-2.49 4.31h-4.97zM634.8 463.1l2.49 -4.31h4.97l2.49 4.31l-2.49 4.31h-4.97zM642.3 355.3l2.49 -4.31h4.97l2.49 4.31l-2.49 4.31h-4.97zM642.3 415.7l2.49 -4.31h4.97l2.49 4.31l-2.49 4.31h-4.97zM649.7 376.9l2.49 -4.31h4.97l2.49 4.31l-2.49 4.31h-4.97zM649.7 394.1l2.49 -4.31h4.97l2.49 4.31l-2.49 4.31h-4.97zM649.7 437.2l2.49 -4.31h4.97l2.49 4.31l-2.49 4.31h-4.97zM649.7 454.5l2.49 -4.31h4.97l2.49 4.31l-2.49 4.31h-4.97zM649.7 471.7l2.49 -4.31h4.97l2.49 4.31l-2.49 4.31h-4.97zM649.7 488.9l2.49 -4.31h4.97l2.49 4.31l-2.49 4.31h-4.97zM649.7 506.2l2.49 -4.31h4.97l2.49 4.31l-2.49 4.31h-4.97zM657.2 415.7l2.49 -4.31h4.97l2.49 4.31l-2.49 4.31h-4.97zM657.2 432.9l2.49 -4.31h4.97l2.49 4.31l-2.49 4.31h-4.97zM657.2 441.5l2.49 -4.31h4.97l2.49 4.31l-2.49 4.31h-4.97zM657.2 450.1l2.49 -4.31h4.97l2.49 4.31l-2.49 4.31h-4.97zM657.2 484.6l2.49 -4.31h4.97l2.49 4.31l-2.49 4.31h-4.97zM657.2 493.2l2.49 -4.31h4.97l2.49 4.31l-2.49 4.31h-4.97zM664.7 325.2l2.49 -4.31h4.97l2.49 4.31l-2.49 4.31h-4.97zM664.7 463.1l2.49 -4.31h4.97l2.49 4.31l-2.49 4.31h-4.97zM664.7 471.7l2.49 -4.31h4.97l2.49 4.31l-2.49 4.31h-4.97zM664.7 497.6l2.49 -4.31h4.97l2.49 4.31l-2.49 4.31h-4.97zM664.7 557.9l2.49 -4.31h4.97l2.49 4.31l-2.49 4.31h-4.97zM672.1 251.9l2.49 -4.31h4.97l2.49 4.31l-2.49 4.31h-4.97zM672.1 355.3l2.49 -4.31h4.97l2.49 4.31l-2.49 4.31h-4.97zM672.1 381.2l2.49 -4.31h4.97l2.49 4.31l-2.49 4.31h-4.97zM672.1 424.3l2.49 -4.31h4.97l2.49 4.31l-2.49 4.31h-4.97zM672.1 467.4l2.49 -4.31h4.97l2.49 4.31l-2.49 4.31h-4.97zM672.1 476.0l2.49 -4.31h4.97l2.49 4.31l-2.49 4.31h-4.97zM679.6 221.7l2.49 -4.31h4.97l2.49 4.31l-2.49 4.31h-4.97zM679.6 239.0l2.49 -4.31h4.97l2.49 4.31l-2.49 4.31h-4.97zM679.6 247.6l2.49 -4.31h4.97l2.49 4.31l-2.49 4.31h-4.97zM679.6 256.2l2.49 -4.31h4.97l2.49 4.31l-2.49 4.31h-4.97zM679.6 307.9l2.49 -4.31h4.97l2.49 4.31l-2.49 4.31h-4.97zM679.6 402.7l2.49 -4.31h4.97l2.49 4.31l-2.49 4.31h-4.97zM679.6 428.6l2.49 -4.31h4.97l2.49 4.31l-2.49 4.31h-4.97zM679.6 480.3l2.49 -4.31h4.97l2.49 4.31l-2.49 4.31h-4.97zM679.6 506.2l2.49 -4.31h4.97l2.49 4.31l-2.49 4.31h-4.97zM687.0 243.3l2.49 -4.31h4.97l2.49 4.31l-2.49 4.31h-4.97zM687.0 286.4l2.49 -4.31h4.97l2.49 4.31l-2.49 4.31h-4.97zM687.0 329.5l2.49 -4.31h4.97l2.49 4.31l-2.49 4.31h-4.97zM687.0 381.2l2.49 -4.31h4.97l2.49 4.31l-2.49 4.31h-4.97zM687.0 398.4l2.49 -4.31h4.97l2.49 4.31l-2.49 4.31h-4.97zM687.0 467.4l2.49 -4.31h4.97l2.49 4.31l-2.49 4.31h-4.97zM687.0 484.6l2.49 -4.31h4.97l2.49 4.31l-2.49 4.31h-4.97zM694.5 256.2l2.49 -4.31h4.97l2.49 4.31l-2.49 4.31h-4.97zM694.5 514.8l2.49 -4.31h4.97l2.49 4.31l-2.49 4.31h-4.97zM694.5 575.1l2.49 -4.31h4.97l2.49 4.31l-2.49 4.31h-4.97zM702.0 277.8l2.49 -4.31h4.97l2.49 4.31l-2.49 4.31h-4.97zM702.0 363.9l2.49 -4.31h4.97l2.49 4.31l-2.49 4.31h-4.97zM702.0 407.1l2.49 -4.31h4.97l2.49 4.31l-2.49 4.31h-4.97zM702.0 441.5l2.49 -4.31h4.97l2.49 4.31l-2.49 4.31h-4.97zM702.0 467.4l2.49 -4.31h4.97l2.49 4.31l-2.49 4.31h-4.97zM702.0 493.2l2.49 -4.31h4.97l2.49 4.31l-2.49 4.31h-4.97zM702.0 527.7l2.49 -4.31h4.97l2.49 4.31l-2.49 4.31h-4.97zM702.0 536.3l2.49 -4.31h4.97l2.49 4.31l-2.49 4.31h-4.97zM709.4 342.4l2.49 -4.31h4.97l2.49 4.31l-2.49 4.31h-4.97zM709.4 376.9l2.49 -4.31h4.97l2.49 4.31l-2.49 4.31h-4.97zM709.4 428.6l2.49 -4.31h4.97l2.49 4.31l-2.49 4.31h-4.97zM709.4 437.2l2.49 -4.31h4.97l2.49 4.31l-2.49 4.31h-4.97zM709.4 463.1l2.49 -4.31h4.97l2.49 4.31l-2.49 4.31h-4.97zM709.4 471.7l2.49 -4.31h4.97l2.49 4.31l-2.49 4.31h-4.97zM709.4 506.2l2.49 -4.31h4.97l2.49 4.31l-2.49 4.31h-4.97zM716.9 338.1l2.49 -4.31h4.97l2.49 4.31l-2.49 4.31h-4.97zM716.9 501.9l2.49 -4.31h4.97l2.49 4.31l-2.49 4.31h-4.97zM716.9 527.7l2.49 -4.31h4.97l2.49 4.31l-2.49 4.31h-4.97zM716.9 553.6l2.49 -4.31h4.97l2.49 4.31l-2.49 4.31h-4.97zM724.3 230.3l2.49 -4.31h4.97l2.49 4.31l-2.49 4.31h-4.97zM724.3 385.5l2.49 -4.31h4.97l2.49 4.31l-2.49 4.31h-4.97zM724.3 420.0l2.49 -4.31h4.97l2.49 4.31l-2.49 4.31h-4.97zM724.3 428.6l2.49 -4.31h4.97l2.49 4.31l-2.49 4.31h-4.97zM724.3 532.0l2.49 -4.31h4.97l2.49 4.31l-2.49 4.31h-4.97zM724.3 540.7l2.49 -4.31h4.97l2.49 4.31l-2.49 4.31h-4.97zM731.8 398.4l2.49 -4.31h4.97l2.49 4.31l-2.49 4.31h-4.97zM731.8 407.1l2.49 -4.31h4.97l2.49 4.31l-2.49 4.31h-4.97zM731.8 424.3l2.49 -4.31h4.97l2.49 4.31l-2.49 4.31h-4.97zM731.8 553.6l2.49 -4.31h4.97l2.49 4.31l-2.49 4.31h-4.97zM739.3 359.6l2.49 -4.31h4.97l2.49 4.31l-2.49 4.31h-4.97zM739.3 368.3l2.49 -4.31h4.97l2.49 4.31l-2.49 4.31h-4.97zM739.3 454.5l2.49 -4.31h4.97l2.49 4.31l-2.49 4.31h-4.97zM739.3 557.9l2.49 -4.31h4.97l2.49 4.31l-2.49 4.31h-4.97zM739.3 566.5l2.49 -4.31h4.97l2.49 4.31l-2.49 4.31h-4.97zM746.7 251.9l2.49 -4.31h4.97l2.49 4.31l-2.49 4.31h-4.97zM746.7 355.3l2.49 -4.31h4.97l2.49 4.31l-2.49 4.31h-4.97zM746.7 450.1l2.49 -4.31h4.97l2.49 4.31l-2.49 4.31h-4.97zM746.7 519.1l2.49 -4.31h4.97l2.49 4.31l-2.49 4.31h-4.97zM746.7 545.0l2.49 -4.31h4.97l2.49 4.31l-2.49 4.31h-4.97zM746.7 562.2l2.49 -4.31h4.97l2.49 4.31l-2.49 4.31h-4.97zM754.2 316.5l2.49 -4.31h4.97l2.49 4.31l-2.49 4.31h-4.97zM754.2 402.7l2.49 -4.31h4.97l2.49 4.31l-2.49 4.31h-4.97zM754.2 428.6l2.49 -4.31h4.97l2.49 4.31l-2.49 4.31h-4.97zM754.2 557.9l2.49 -4.31h4.97l2.49 4.31l-2.49 4.31h-4.97zM761.6 243.3l2.49 -4.31h4.97l2.49 4.31l-2.49 4.31h-4.97zM761.6 338.1l2.49 -4.31h4.97l2.49 4.31l-2.49 4.31h-4.97zM761.6 372.6l2.49 -4.31h4.97l2.49 4.31l-2.49 4.31h-4.97zM761.6 407.1l2.49 -4.31h4.97l2.49 4.31l-2.49 4.31h-4.97zM761.6 467.4l2.49 -4.31h4.97l2.49 4.31l-2.49 4.31h-4.97zM761.6 501.9l2.49 -4.31h4.97l2.49 4.31l-2.49 4.31h-4.97zM761.6 545.0l2.49 -4.31h4.97l2.49 4.31l-2.49 4.31h-4.97zM769.1 316.5l2.49 -4.31h4.97l2.49 4.31l-2.49 4.31h-4.97zM769.1 351.0l2.49 -4.31h4.97l2.49 4.31l-2.49 4.31h-4.97zM769.1 506.2l2.49 -4.31h4.97l2.49 4.31l-2.49 4.31h-4.97zM776.6 536.3l2.49 -4.31h4.97l2.49 4.31l-2.49 4.31h-4.97zM776.6 562.2l2.49 -4.31h4.97l2.49 4.31l-2.49 4.31h-4.97zM784.0 195.9l2.49 -4.31h4.97l2.49 4.31l-2.49 4.31h-4.97zM784.0 307.9l2.49 -4.31h4.97l2.49 4.31l-2.49 4.31h-4.97zM784.0 385.5l2.49 -4.31h4.97l2.49 4.31l-2.49 4.31h-4.97zM784.0 411.4l2.49 -4.31h4.97l2.49 4.31l-2.49 4.31h-4.97zM784.0 488.9l2.49 -4.31h4.97l2.49 4.31l-2.49 4.31h-4.97zM784.0 506.2l2.49 -4.31h4.97l2.49 4.31l-2.49 4.31h-4.97zM791.5 200.2l2.49 -4.31h4.97l2.49 4.31l-2.49 4.31h-4.97zM791.5 346.7l2.49 -4.31h4.97l2.49 4.31l-2.49 4.31h-4.97zM791.5 355.3l2.49 -4.31h4.97l2.49 4.31l-2.49 4.31h-4.97zM791.5 398.4l2.49 -4.31h4.97l2.49 4.31l-2.49 4.31h-4.97zM791.5 441.5l2.49 -4.31h4.97l2.49 4.31l-2.49 4.31h-4.97zM791.5 493.2l2.49 -4.31h4.97l2.49 4.31l-2.49 4.31h-4.97zM798.9 161.4l2.49 -4.31h4.97l2.49 4.31l-2.49 4.31h-4.97zM798.9 359.6l2.49 -4.31h4.97l2.49 4.31l-2.49 4.31h-4.97zM798.9 376.9l2.49 -4.31h4.97l2.49 4.31l-2.49 4.31h-4.97zM798.9 497.6l2.49 -4.31h4.97l2.49 4.31l-2.49 4.31h-4.97zM806.4 441.5l2.49 -4.31h4.97l2.49 4.31l-2.49 4.31h-4.97zM806.4 484.6l2.49 -4.31h4.97l2.49 4.31l-2.49 4.31h-4.97zM806.4 536.3l2.49 -4.31h4.97l2.49 4.31l-2.49 4.31h-4.97zM813.9 161.4l2.49 -4.31h4.97l2.49 4.31l-2.49 4.31h-4.97zM813.9 342.4l2.49 -4.31h4.97l2.49 4.31l-2.49 4.31h-4.97zM813.9 514.8l2.49 -4.31h4.97l2.49 4.31l-2.49 4.31h-4.97zM821.3 346.7l2.49 -4.31h4.97l2.49 4.31l-2.49 4.31h-4.97zM821.3 363.9l2.49 -4.31h4.97l2.49 4.31l-2.49 4.31h-4.97zM821.3 372.6l2.49 -4.31h4.97l2.49 4.31l-2.49 4.31h-4.97zM828.8 342.4l2.49 -4.31h4.97l2.49 4.31l-2.49 4.31h-4.97zM828.8 351.0l2.49 -4.31h4.97l2.49 4.31l-2.49 4.31h-4.97zM828.8 368.3l2.49 -4.31h4.97l2.49 4.31l-2.49 4.31h-4.97zM858.6 40.7l2.49 -4.31h4.97l2.49 4.31l-2.49 4.31h-4.97zM858.6 57.9l2.49 -4.31h4.97l2.49 4.31l-2.49 4.31h-4.97zM881.0 45.0l2.49 -4.31h4.97l2.49 4.31l-2.49 4.31h-4.97zM888.5 14.8l2.49 -4.31h4.97l2.49 4.31l-2.49 4.31h-4.97zM651.8 814.7l2.43 -4.21h4.85l2.43 4.21l-2.43 4.21h-4.85zM666.4 840.0l2.43 -4.21h4.85l2.43 4.21l-2.43 4.21h-4.85zM673.7 802.1l2.43 -4.21h4.85l2.43 4.21l-2.43 4.21h-4.85zM688.2 793.7l2.43 -4.21h4.85l2.43 4.21l-2.43 4.21h-4.85zM688.2 827.3l2.43 -4.21h4.85l2.43 4.21l-2.43 4.21h-4.85zM688.2 844.2l2.43 -4.21h4.85l2.43 4.21l-2.43 4.21h-4.85zM695.5 705.2l2.43 -4.21h4.85l2.43 4.21l-2.43 4.21h-4.85zM702.8 734.7l2.43 -4.21h4.85l2.43 4.21l-2.43 4.21h-4.85zM702.8 810.5l2.43 -4.21h4.85l2.43 4.21l-2.43 4.21h-4.85zM702.8 818.9l2.43 -4.21h4.85l2.43 4.21l-2.43 4.21h-4.85zM710.1 722.1l2.43 -4.21h4.85l2.43 4.21l-2.43 4.21h-4.85zM710.1 738.9l2.43 -4.21h4.85l2.43 4.21l-2.43 4.21h-4.85zM710.1 831.5l2.43 -4.21h4.85l2.43 4.21l-2.43 4.21h-4.85zM717.3 785.2l2.43 -4.21h4.85l2.43 4.21l-2.43 4.21h-4.85zM717.3 827.3l2.43 -4.21h4.85l2.43 4.21l-2.43 4.21h-4.85zM724.6 696.8l2.43 -4.21h4.85l2.43 4.21l-2.43 4.21h-4.85zM724.6 705.2l2.43 -4.21h4.85l2.43 4.21l-2.43 4.21h-4.85zM724.6 755.8l2.43 -4.21h4.85l2.43 4.21l-2.43 4.21h-4.85zM724.6 856.8l2.43 -4.21h4.85l2.43 4.21l-2.43 4.21h-4.85zM731.9 852.6l2.43 -4.21h4.85l2.43 4.21l-2.43 4.21h-4.85zM739.2 797.9l2.43 -4.21h4.85l2.43 4.21l-2.43 4.21h-4.85zM746.4 751.6l2.43 -4.21h4.85l2.43 4.21l-2.43 4.21h-4.85zM746.4 793.7l2.43 -4.21h4.85l2.43 4.21l-2.43 4.21h-4.85zM753.7 730.5l2.43 -4.21h4.85l2.43 4.21l-2.43 4.21h-4.85zM753.7 738.9l2.43 -4.21h4.85l2.43 4.21l-2.43 4.21h-4.85zM753.7 772.6l2.43 -4.21h4.85l2.43 4.21l-2.43 4.21h-4.85zM753.7 797.9l2.43 -4.21h4.85l2.43 4.21l-2.43 4.21h-4.85zM761.0 726.3l2.43 -4.21h4.85l2.43 4.21l-2.43 4.21h-4.85zM761.0 793.7l2.43 -4.21h4.85l2.43 4.21l-2.43 4.21h-4.85z"/>
<path fill="#2149bc" d="M724.7 1010.6l2.54 -4.40h5.08l2.54 4.40l-2.54 4.40h-5.08zM785.6 931.4l2.54 -4.40h5.08l2.54 4.40l-2.54 4.40h-5.08zM793.3 1015.0l2.54 -4.40h5.08l2.54 4.40l-2.54 4.40h-5.08zM800.9 975.4l2.54 -4.40h5.08l2.54 4.40l-2.54 4.40h-5.08zM808.5 971.0l2.54 -4.40h5.08l2.54 4.40l-2.54 4.40h-5.08zM808.5 1023.8l2.54 -4.40h5.08l2.54 4.40l-2.54 4.40h-5.08zM823.8 935.8l2.54 -4.40h5.08l2.54 4.40l-2.54 4.40h-5.08zM831.4 1010.6l2.54 -4.40h5.08l2.54 4.40l-2.54 4.40h-5.08zM839.0 584.0l2.54 -4.40h5.08l2.54 4.40l-2.54 4.40h-5.08zM846.6 588.4l2.54 -4.40h5.08l2.54 4.40l-2.54 4.40h-5.08zM846.6 984.2l2.54 -4.40h5.08l2.54 4.40l-2.54 4.40h-5.08zM854.2 610.4l2.54 -4.40h5.08l2.54 4.40l-2.54 4.40h-5.08zM854.2 619.2l2.54 -4.40h5.08l2.54 4.40l-2.54 4.40h-5.08zM854.2 654.4l2.54 -4.40h5.08l2.54 4.40l-2.54 4.40h-5.08zM854.2 812.7l2.54 -4.40h5.08l2.54 4.40l-2.54 4.40h-5.08zM854.2 953.4l2.54 -4.40h5.08l2.54 4.40l-2.54 4.40h-5.08zM854.2 988.6l2.54 -4.40h5.08l2.54 4.40l-2.54 4.40h-5.08zM861.9 570.8l2.54 -4.40h5.08l2.54 4.40l-2.54 4.40h-5.08zM861.9 922.6l2.54 -4.40h5.08l2.54 4.40l-2.54 4.40h-5.08zM869.5 575.2l2.54 -4.40h5.08l2.54 4.40l-2.54 4.40h-5.08zM869.5 601.6l2.54 -4.40h5.08l2.54 4.40l-2.54 4.40h-5.08zM869.5 628.0l2.54 -4.40h5.08l2.54 4.40l-2.54 4.40h-5.08zM869.5 636.8l2.54 -4.40h5.08l2.54 4.40l-2.54 4.40h-5.08zM869.5 680.8l2.54 -4.40h5.08l2.54 4.40l-2.54 4.40h-5.08zM869.5 689.6l2.54 -4.40h5.08l2.54 4.40l-2.54 4.40h-5.08zM869.5 909.5l2.54 -4.40h5.08l2.54 4.40l-2.54 4.40h-5.08zM869.5 935.8l2.54 -4.40h5.08l2.54 4.40l-2.54 4.40h-5.08zM877.1 650.0l2.54 -4.40h5.08l2.54 4.40l-2.54 4.40h-5.08zM877.1 685.2l2.54 -4.40h5.08l2.54 4.40l-2.54 4.40h-5.08zM877.1 711.6l2.54 -4.40h5.08l2.54 4.40l-2.54 4.40h-5.08zM884.7 839.1l2.54 -4.40h5.08l2.54 4.40l-2.54 4.40h-5.08zM892.4 606.0l2.54 -4.40h5.08l2.54 4.40l-2.54 4.40h-5.08zM892.4 843.5l2.54 -4.40h5.08l2.54 4.40l-2.54 4.40h-5.08zM892.4 993.0l2.54 -4.40h5.08l2.54 4.40l-2.54 4.40h-5.08zM900.0 759.9l2.54 -4.40h5.08l2.54 4.40l-2.54 4.40h-5.08zM900.0 874.3l2.54 -4.40h5.08l2.54 4.40l-2.54 4.40h-5.08zM900.0 979.8l2.54 -4.40h5.08l2.54 4.40l-2.54 4.40h-5.08zM907.6 500.5l2.54 -4.40h5.08l2.54 4.40l-2.54 4.40h-5.08zM907.6 544.5l2.54 -4.40h5.08l2.54 4.40l-2.54 4.40h-5.08zM907.6 614.8l2.54 -4.40h5.08l2.54 4.40l-2.54 4.40h-5.08zM907.6 949.0l2.54 -4.40h5.08l2.54 4.40l-2.54 4.40h-5.08zM915.2 496.1l2.54 -4.40h5.08l2.54 4.40l-2.54 4.40h-5.08zM915.2 522.5l2.54 -4.40h5.08l2.54 4.40l-2.54 4.40h-5.08zM915.2 531.3l2.54 -4.40h5.08l2.54 4.40l-2.54 4.40h-5.08zM922.8 641.2l2.54 -4.40h5.08l2.54 4.40l-2.54 4.40h-5.08zM922.8 667.6l2.54 -4.40h5.08l2.54 4.40l-2.54 4.40h-5.08zM922.8 922.6l2.54 -4.40h5.08l2.54 4.40l-2.54 4.40h-5.08zM922.8 940.2l2.54 -4.40h5.08l2.54 4.40l-2.54 4.40h-5.08zM930.5 636.8l2.54 -4.40h5.08l2.54 4.40l-2.54 4.40h-5.08zM930.5 698.4l2.54 -4.40h5.08l2.54 4.40l-2.54 4.40h-5.08zM930.5 786.3l2.54 -4.40h5.08l2.54 4.40l-2.54 4.40h-5.08zM938.1 500.5l2.54 -4.40h5.08l2.54 4.40l-2.54 4.40h-5.08zM938.1 729.2l2.54 -4.40h5.08l2.54 4.40l-2.54 4.40h-5.08zM938.1 852.3l2.54 -4.40h5.08l2.54 4.40l-2.54 4.40h-5.08zM938.1 861.1l2.54 -4.40h5.08l2.54 4.40l-2.54 4.40h-5.08zM938.1 957.8l2.54 -4.40h5.08l2.54 4.40l-2.54 4.40h-5.08zM945.7 592.8l2.54 -4.40h5.08l2.54 4.40l-2.54 4.40h-5.08zM945.7 768.7l2.54 -4.40h5.08l2.54 4.40l-2.54 4.40h-5.08zM945.7 839.1l2.54 -4.40h5.08l2.54 4.40l-2.54 4.40h-5.08zM945.7 927.0l2.54 -4.40h5.08l2.54 4.40l-2.54 4.40h-5.08zM945.7 988.6l2.54 -4.40h5.08l2.54 4.40l-2.54 4.40h-5.08zM953.3 852.3l2.54 -4.40h5.08l2.54 4.40l-2.54 4.40h-5.08zM953.3 957.8l2.54 -4.40h5.08l2.54 4.40l-2.54 4.40h-5.08zM961.0 724.8l2.54 -4.40h5.08l2.54 4.40l-2.54 4.40h-5.08zM961.0 759.9l2.54 -4.40h5.08l2.54 4.40l-2.54 4.40h-5.08zM961.0 953.4l2.54 -4.40h5.08l2.54 4.40l-2.54 4.40h-5.08zM968.6 905.1l2.54 -4.40h5.08l2.54 4.40l-2.54 4.40h-5.08zM968.6 993.0l2.54 -4.40h5.08l2.54 4.40l-2.54 4.40h-5.08zM976.2 663.2l2.54 -4.40h5.08l2.54 4.40l-2.54 4.40h-5.08zM976.2 759.9l2.54 -4.40h5.08l2.54 4.40l-2.54 4.40h-5.08zM983.8 685.2l2.54 -4.40h5.08l2.54 4.40l-2.54 4.40h-5.08zM983.8 729.2l2.54 -4.40h5.08l2.54 4.40l-2.54 4.40h-5.08zM983.8 746.7l2.54 -4.40h5.08l2.54 4.40l-2.54 4.40h-5.08zM991.4 716.0l2.54 -4.40h5.08l2.54 4.40l-2.54 4.40h-5.08zM991.4 971.0l2.54 -4.40h5.08l2.54 4.40l-2.54 4.40h-5.08zM999.1 702.8l2.54 -4.40h5.08l2.54 4.40l-2.54 4.40h-5.08zM999.1 790.7l2.54 -4.40h5.08l2.54 4.40l-2.54 4.40h-5.08zM999.1 905.1l2.54 -4.40h5.08l2.54 4.40l-2.54 4.40h-5.08zM999.1 984.2l2.54 -4.40h5.08l2.54 4.40l-2.54 4.40h-5.08zM1006.7 672.0l2.54 -4.40h5.08l2.54 4.40l-2.54 4.40h-5.08zM1014.3 641.2l2.54 -4.40h5.08l2.54 4.40l-2.54 4.40h-5.08zM1021.9 663.2l2.54 -4.40h5.08l2.54 4.40l-2.54 4.40h-5.08zM1021.9 742.4l2.54 -4.40h5.08l2.54 4.40l-2.54 4.40h-5.08zM1029.5 641.2l2.54 -4.40h5.08l2.54 4.40l-2.54 4.40h-5.08zM1029.5 746.7l2.54 -4.40h5.08l2.54 4.40l-2.54 4.40h-5.08zM1029.5 808.3l2.54 -4.40h5.08l2.54 4.40l-2.54 4.40h-5.08zM1037.2 830.3l2.54 -4.40h5.08l2.54 4.40l-2.54 4.40h-5.08zM1044.8 746.7l2.54 -4.40h5.08l2.54 4.40l-2.54 4.40h-5.08zM1044.8 975.4l2.54 -4.40h5.08l2.54 4.40l-2.54 4.40h-5.08zM1067.7 812.7l2.54 -4.40h5.08l2.54 4.40l-2.54 4.40h-5.08zM1067.7 971.0l2.54 -4.40h5.08l2.54 4.40l-2.54 4.40h-5.08zM1082.9 971.0l2.54 -4.40h5.08l2.54 4.40l-2.54 4.40h-5.08zM1098.1 909.5l2.54 -4.40h5.08l2.54 4.40l-2.54 4.40h-5.08zM1128.6 812.7l2.54 -4.40h5.08l2.54 4.40l-2.54 4.40h-5.08zM1128.6 927.0l2.54 -4.40h5.08l2.54 4.40l-2.54 4.40h-5.08zM1143.9 777.5l2.54 -4.40h5.08l2.54 4.40l-2.54 4.40h-5.08zM1143.9 812.7l2.54 -4.40h5.08l2.54 4.40l-2.54 4.40h-5.08zM1143.9 830.3l2.54 -4.40h5.08l2.54 4.40l-2.54 4.40h-5.08zM1143.9 839.1l2.54 -4.40h5.08l2.54 4.40l-2.54 4.40h-5.08zM552.8 312.2l2.49 -4.31h4.97l2.49 4.31l-2.49 4.31h-4.97zM552.8 338.1l2.49 -4.31h4.97l2.49 4.31l-2.49 4.31h-4.97zM552.8 346.7l2.49 -4.31h4.97l2.49 4.31l-2.49 4.31h-4.97zM560.2 316.5l2.49 -4.31h4.97l2.49 4.31l-2.49 4.31h-4.97zM560.2 333.8l2.49 -4.31h4.97l2.49 4.31l-2.49 4.31h-4.97zM560.2 359.6l2.49 -4.31h4.97l2.49 4.31l-2.49 4.31h-4.97zM567.7 312.2l2.49 -4.31h4.97l2.49 4.31l-2.49 4.31h-4.97zM590.1 264.8l2.49 -4.31h4.97l2.49 4.31l-2.49 4.31h-4.97zM590.1 307.9l2.49 -4.31h4.97l2.49 4.31l-2.49 4.31h-4.97zM605.0 376.9l2.49 -4.31h4.97l2.49 4.31l-2.49 4.31h-4.97zM612.4 320.9l2.49 -4.31h4.97l2.49 4.31l-2.49 4.31h-4.97zM612.4 484.6l2.49 -4.31h4.97l2.49 4.31l-2.49 4.31h-4.97zM627.4 372.6l2.49 -4.31h4.97l2.49 4.31l-2.49 4.31h-4.97zM634.8 316.5l2.49 -4.31h4.97l2.49 4.31l-2.49 4.31h-4.97zM634.8 368.3l2.49 -4.31h4.97l2.49 4.31l-2.49 4.31h-4.97zM642.3 372.6l2.49 -4.31h4.97l2.49 4.31l-2.49 4.31h-4.97zM642.3 441.5l2.49 -4.31h4.97l2.49 4.31l-2.49 4.31h-4.97zM642.3 493.2l2.49 -4.31h4.97l2.49 4.31l-2.49 4.31h-4.97zM649.7 402.7l2.49 -4.31h4.97l2.49 4.31l-2.49 4.31h-4.97zM657.2 467.4l2.49 -4.31h4.97l2.49 4.31l-2.49 4.31h-4.97zM664.7 394.1l2.49 -4.31h4.97l2.49 4.31l-2.49 4.31h-4.97zM664.7 428.6l2.49 -4.31h4.97l2.49 4.31l-2.49 4.31h-4.97zM664.7 506.2l2.49 -4.31h4.97l2.49 4.31l-2.49 4.31h-4.97zM664.7 514.8l2.49 -4.31h4.97l2.49 4.31l-2.49 4.31h-4.97zM664.7 575.1l2.49 -4.31h4.97l2.49 4.31l-2.49 4.31h-4.97zM672.1 303.6l2.49 -4.31h4.97l2.49 4.31l-2.49 4.31h-4.97zM672.1 407.1l2.49 -4.31h4.97l2.49 4.31l-2.49 4.31h-4.97zM672.1 527.7l2.49 -4.31h4.97l2.49 4.31l-2.49 4.31h-4.97zM672.1 553.6l2.49 -4.31h4.97l2.49 4.31l-2.49 4.31h-4.97zM672.1 596.7l2.49 -4.31h4.97l2.49 4.31l-2.49 4.31h-4.97zM679.6 532.0l2.49 -4.31h4.97l2.49 4.31l-2.49 4.31h-4.97zM687.0 269.1l2.49 -4.31h4.97l2.49 4.31l-2.49 4.31h-4.97zM687.0 312.2l2.49 -4.31h4.97l2.49 4.31l-2.49 4.31h-4.97zM687.0 432.9l2.49 -4.31h4.97l2.49 4.31l-2.49 4.31h-4.97zM687.0 493.2l2.49 -4.31h4.97l2.49 4.31l-2.49 4.31h-4.97zM687.0 519.1l2.49 -4.31h4.97l2.49 4.31l-2.49 4.31h-4.97zM687.0 579.4l2.49 -4.31h4.97l2.49 4.31l-2.49 4.31h-4.97zM694.5 342.4l2.49 -4.31h4.97l2.49 4.31l-2.49 4.31h-4.97zM694.5 411.4l2.49 -4.31h4.97l2.49 4.31l-2.49 4.31h-4.97zM694.5 454.5l2.49 -4.31h4.97l2.49 4.31l-2.49 4.31h-4.97zM702.0 303.6l2.49 -4.31h4.97l2.49 4.31l-2.49 4.31h-4.97zM702.0 329.5l2.49 -4.31h4.97l2.49 4.31l-2.49 4.31h-4.97zM702.0 338.1l2.49 -4.31h4.97l2.49 4.31l-2.49 4.31h-4.97zM702.0 553.6l2.49 -4.31h4.97l2.49 4.31l-2.49 4.31h-4.97zM709.4 540.7l2.49 -4.31h4.97l2.49 4.31l-2.49 4.31h-4.97zM709.4 549.3l2.49 -4.31h4.97l2.49 4.31l-2.49 4.31h-4.97zM716.9 329.5l2.49 -4.31h4.97l2.49 4.31l-2.49 4.31h-4.97zM716.9 536.3l2.49 -4.31h4.97l2.49 4.31l-2.49 4.31h-4.97zM724.3 299.3l2.49 -4.31h4.97l2.49 4.31l-2.49 4.31h-4.97zM724.3 394.1l2.49 -4.31h4.97l2.49 4.31l-2.49 4.31h-4.97zM724.3 514.8l2.49 -4.31h4.97l2.49 4.31l-2.49 4.31h-4.97zM724.3 557.9l2.49 -4.31h4.97l2.49 4.31l-2.49 4.31h-4.97zM731.8 519.1l2.49 -4.31h4.97l2.49 4.31l-2.49 4.31h-4.97zM739.3 342.4l2.49 -4.31h4.97l2.49 4.31l-2.49 4.31h-4.97zM739.3 411.4l2.49 -4.31h4.97l2.49 4.31l-2.49 4.31h-4.97zM739.3 428.6l2.49 -4.31h4.97l2.49 4.31l-2.49 4.31h-4.97zM739.3 532.0l2.49 -4.31h4.97l2.49 4.31l-2.49 4.31h-4.97zM746.7 346.7l2.49 -4.31h4.97l2.49 4.31l-2.49 4.31h-4.97zM746.7 372.6l2.49 -4.31h4.97l2.49 4.31l-2.49 4.31h-4.97zM746.7 381.2l2.49 -4.31h4.97l2.49 4.31l-2.49 4.31h-4.97zM746.7 389.8l2.49 -4.31h4.97l2.49 4.31l-2.49 4.31h-4.97zM746.7 415.7l2.49 -4.31h4.97l2.49 4.31l-2.49 4.31h-4.97zM746.7 424.3l2.49 -4.31h4.97l2.49 4.31l-2.49 4.31h-4.97zM746.7 441.5l2.49 -4.31h4.97l2.49 4.31l-2.49 4.31h-4.97zM754.2 411.4l2.49 -4.31h4.97l2.49 4.31l-2.49 4.31h-4.97zM754.2 566.5l2.49 -4.31h4.97l2.49 4.31l-2.49 4.31h-4.97zM761.6 424.3l2.49 -4.31h4.97l2.49 4.31l-2.49 4.31h-4.97zM761.6 493.2l2.49 -4.31h4.97l2.49 4.31l-2.49 4.31h-4.97zM769.1 523.4l2.49 -4.31h4.97l2.49 4.31l-2.49 4.31h-4.97zM776.6 407.1l2.49 -4.31h4.97l2.49 4.31l-2.49 4.31h-4.97zM784.0 394.1l2.49 -4.31h4.97l2.49 4.31l-2.49 4.31h-4.97zM784.0 463.1l2.49 -4.31h4.97l2.49 4.31l-2.49 4.31h-4.97zM791.5 320.9l2.49 -4.31h4.97l2.49 4.31l-2.49 4.31h-4.97zM791.5 415.7l2.49 -4.31h4.97l2.49 4.31l-2.49 4.31h-4.97zM798.9 549.3l2.49 -4.31h4.97l2.49 4.31l-2.49 4.31h-4.97zM806.4 389.8l2.49 -4.31h4.97l2.49 4.31l-2.49 4.31h-4.97zM813.9 376.9l2.49 -4.31h4.97l2.49 4.31l-2.49 4.31h-4.97zM813.9 385.5l2.49 -4.31h4.97l2.49 4.31l-2.49 4.31h-4.97zM821.3 484.6l2.49 -4.31h4.97l2.49 4.31l-2.49 4.31h-4.97zM843.7 333.8l2.49 -4.31h4.97l2.49 4.31l-2.49 4.31h-4.97zM881.0 19.1l2.49 -4.31h4.97l2.49 4.31l-2.49 4.31h-4.97zM673.7 692.6l2.43 -4.21h4.85l2.43 4.21l-2.43 4.21h-4.85zM688.2 701.0l2.43 -4.21h4.85l2.43 4.21l-2.43 4.21h-4.85zM688.2 709.5l2.43 -4.21h4.85l2.43 4.21l-2.43 4.21h-4.85zM695.5 789.5l2.43 -4.21h4.85l2.43 4.21l-2.43 4.21h-4.85zM710.1 696.8l2.43 -4.21h4.85l2.43 4.21l-2.43 4.21h-4.85zM717.3 692.6l2.43 -4.21h4.85l2.43 4.21l-2.43 4.21h-4.85zM717.3 701.0l2.43 -4.21h4.85l2.43 4.21l-2.43 4.21h-4.85zM717.3 743.1l2.43 -4.21h4.85l2.43 4.21l-2.43 4.21h-4.85zM724.6 848.4l2.43 -4.21h4.85l2.43 4.21l-2.43 4.21h-4.85zM739.2 856.8l2.43 -4.21h4.85l2.43 4.21l-2.43 4.21h-4.85zM746.4 743.1l2.43 -4.21h4.85l2.43 4.21l-2.43 4.21h-4.85zM746.4 818.9l2.43 -4.21h4.85l2.43 4.21l-2.43 4.21h-4.85zM761.0 844.2l2.43 -4.21h4.85l2.43 4.21l-2.43 4.21h-4.85zM768.3 831.5l2.43 -4.21h4.85l2.43 4.21l-2.43 4.21h-4.85zM768.3 848.4l2.43 -4.21h4.85l2.43 4.21l-2.43 4.21h-4.85zM768.3 856.8l2.43 -4.21h4.85l2.43 4.21l-2.43 4.21h-4.85z"/>
<path fill="#17348c" d="M800.9 931.4l2.54 -4.40h5.08l2.54 4.40l-2.54 4.40h-5.08zM816.1 931.4l2.54 -4.40h5.08l2.54 4.40l-2.54 4.40h-5.08zM846.6 570.8l2.54 -4.40h5.08l2.54 4.40l-2.54 4.40h-5.08zM846.6 632.4l2.54 -4.40h5.08l2.54 4.40l-2.54 4.40h-5.08zM846.6 966.6l2.54 -4.40h5.08l2.54 4.40l-2.54 4.40h-5.08zM854.2 716.0l2.54 -4.40h5.08l2.54 4.40l-2.54 4.40h-5.08zM854.2 935.8l2.54 -4.40h5.08l2.54 4.40l-2.54 4.40h-5.08zM861.9 588.4l2.54 -4.40h5.08l2.54 4.40l-2.54 4.40h-5.08zM861.9 606.0l2.54 -4.40h5.08l2.54 4.40l-2.54 4.40h-5.08zM861.9 685.2l2.54 -4.40h5.08l2.54 4.40l-2.54 4.40h-5.08zM861.9 913.9l2.54 -4.40h5.08l2.54 4.40l-2.54 4.40h-5.08zM869.5 619.2l2.54 -4.40h5.08l2.54 4.40l-2.54 4.40h-5.08zM869.5 645.6l2.54 -4.40h5.08l2.54 4.40l-2.54 4.40h-5.08zM869.5 663.2l2.54 -4.40h5.08l2.54 4.40l-2.54 4.40h-5.08zM869.5 953.4l2.54 -4.40h5.08l2.54 4.40l-2.54 4.40h-5.08zM869.5 971.0l2.54 -4.40h5.08l2.54 4.40l-2.54 4.40h-5.08zM877.1 570.8l2.54 -4.40h5.08l2.54 4.40l-2.54 4.40h-5.08zM877.1 632.4l2.54 -4.40h5.08l2.54 4.40l-2.54 4.40h-5.08zM877.1 658.8l2.54 -4.40h5.08l2.54 4.40l-2.54 4.40h-5.08zM877.1 905.1l2.54 -4.40h5.08l2.54 4.40l-2.54 4.40h-5.08zM877.1 984.2l2.54 -4.40h5.08l2.54 4.40l-2.54 4.40h-5.08zM884.7 654.4l2.54 -4.40h5.08l2.54 4.40l-2.54 4.40h-5.08zM892.4 869.9l2.54 -4.40h5.08l2.54 4.40l-2.54 4.40h-5.08zM900.0 584.0l2.54 -4.40h5.08l2.54 4.40l-2.54 4.40h-5.08zM900.0 654.4l2.54 -4.40h5.08l2.54 4.40l-2.54 4.40h-5.08zM915.2 487.3l2.54 -4.40h5.08l2.54 4.40l-2.54 4.40h-5.08zM915.2 680.8l2.54 -4.40h5.08l2.54 4.40l-2.54 4.40h-5.08zM915.2 953.4l2.54 -4.40h5.08l2.54 4.40l-2.54 4.40h-5.08zM922.8 518.1l2.54 -4.40h5.08l2.54 4.40l-2.54 4.40h-5.08zM922.8 931.4l2.54 -4.40h5.08l2.54 4.40l-2.54 4.40h-5.08zM922.8 975.4l2.54 -4.40h5.08l2.54 4.40l-2.54 4.40h-5.08zM930.5 988.6l2.54 -4.40h5.08l2.54 4.40l-2.54 4.40h-5.08zM938.1 773.1l2.54 -4.40h5.08l2.54 4.40l-2.54 4.40h-5.08zM938.1 949.0l2.54 -4.40h5.08l2.54 4.40l-2.54 4.40h-5.08zM953.3 623.6l2.54 -4.40h5.08l2.54 4.40l-2.54 4.40h-5.08zM953.3 667.6l2.54 -4.40h5.08l2.54 4.40l-2.54 4.40h-5.08zM953.3 773.1l2.54 -4.40h5.08l2.54 4.40l-2.54 4.40h-5.08zM968.6 984.2l2.54 -4.40h5.08l2.54 4.40l-2.54 4.40h-5.08zM976.2 636.8l2.54 -4.40h5.08l2.54 4.40l-2.54 4.40h-5.08zM976.2 672.0l2.54 -4.40h5.08l2.54 4.40l-2.54 4.40h-5.08zM976.2 689.6l2.54 -4.40h5.08l2.54 4.40l-2.54 4.40h-5.08zM983.8 694.0l2.54 -4.40h5.08l2.54 4.40l-2.54 4.40h-5.08zM983.8 975.4l2.54 -4.40h5.08l2.54 4.40l-2.54 4.40h-5.08zM983.8 984.2l2.54 -4.40h5.08l2.54 4.40l-2.54 4.40h-5.08zM999.1 685.2l2.54 -4.40h5.08l2.54 4.40l-2.54 4.40h-5.08zM999.1 720.4l2.54 -4.40h5.08l2.54 4.40l-2.54 4.40h-5.08zM999.1 738.0l2.54 -4.40h5.08l2.54 4.40l-2.54 4.40h-5.08zM999.1 975.4l2.54 -4.40h5.08l2.54 4.40l-2.54 4.40h-5.08zM1006.7 645.6l2.54 -4.40h5.08l2.54 4.40l-2.54 4.40h-5.08zM1006.7 971.0l2.54 -4.40h5.08l2.54 4.40l-2.54 4.40h-5.08zM1014.3 694.0l2.54 -4.40h5.08l2.54 4.40l-2.54 4.40h-5.08zM1014.3 905.1l2.54 -4.40h5.08l2.54 4.40l-2.54 4.40h-5.08zM1021.9 777.5l2.54 -4.40h5.08l2.54 4.40l-2.54 4.40h-5.08zM1029.5 825.9l2.54 -4.40h5.08l2.54 4.40l-2.54 4.40h-5.08zM1037.2 786.3l2.54 -4.40h5.08l2.54 4.40l-2.54 4.40h-5.08zM1044.8 685.2l2.54 -4.40h5.08l2.54 4.40l-2.54 4.40h-5.08zM1044.8 755.5l2.54 -4.40h5.08l2.54 4.40l-2.54 4.40h-5.08zM1044.8 905.1l2.54 -4.40h5.08l2.54 4.40l-2.54 4.40h-5.08zM1052.4 751.1l2.54 -4.40h5.08l2.54 4.40l-2.54 4.40h-5.08zM1052.4 795.1l2.54 -4.40h5.08l2.54 4.40l-2.54 4.40h-5.08zM1060.0 790.7l2.54 -4.40h5.08l2.54 4.40l-2.54 4.40h-5.08zM1060.0 799.5l2.54 -4.40h5.08l2.54 4.40l-2.54 4.40h-5.08zM1060.0 808.3l2.54 -4.40h5.08l2.54 4.40l-2.54 4.40h-5.08zM1060.0 817.1l2.54 -4.40h5.08l2.54 4.40l-2.54 4.40h-5.08zM1067.7 777.5l2.54 -4.40h5.08l2.54 4.40l-2.54 4.40h-5.08zM1067.7 786.3l2.54 -4.40h5.08l2.54 4.40l-2.54 4.40h-5.08zM1067.7 795.1l2.54 -4.40h5.08l2.54 4.40l-2.54 4.40h-5.08zM1082.9 900.7l2.54 -4.40h5.08l2.54 4.40l-2.54 4.40h-5.08zM1090.5 966.6l2.54 -4.40h5.08l2.54 4.40l-2.54 4.40h-5.08zM1098.1 883.1l2.54 -4.40h5.08l2.54 4.40l-2.54 4.40h-5.08zM1121.0 861.1l2.54 -4.40h5.08l2.54 4.40l-2.54 4.40h-5.08zM1128.6 768.7l2.54 -4.40h5.08l2.54 4.40l-2.54 4.40h-5.08zM1128.6 856.7l2.54 -4.40h5.08l2.54 4.40l-2.54 4.40h-5.08zM1143.9 821.5l2.54 -4.40h5.08l2.54 4.40l-2.54 4.40h-5.08zM597.5 320.9l2.49 -4.31h4.97l2.49 4.31l-2.49 4.31h-4.97zM634.8 411.4l2.49 -4.31h4.97l2.49 4.31l-2.49 4.31h-4.97zM642.3 329.5l2.49 -4.31h4.97l2.49 4.31l-2.49 4.31h-4.97zM642.3 407.1l2.49 -4.31h4.97l2.49 4.31l-2.49 4.31h-4.97zM642.3 510.5l2.49 -4.31h4.97l2.49 4.31l-2.49 4.31h-4.97zM657.2 424.3l2.49 -4.31h4.97l2.49 4.31l-2.49 4.31h-4.97zM664.7 264.8l2.49 -4.31h4.97l2.49 4.31l-2.49 4.31h-4.97zM664.7 351.0l2.49 -4.31h4.97l2.49 4.31l-2.49 4.31h-4.97zM664.7 480.3l2.49 -4.31h4.97l2.49 4.31l-2.49 4.31h-4.97zM664.7 488.9l2.49 -4.31h4.97l2.49 4.31l-2.49 4.31h-4.97zM672.1 312.2l2.49 -4.31h4.97l2.49 4.31l-2.49 4.31h-4.97zM672.1 415.7l2.49 -4.31h4.97l2.49 4.31l-2.49 4.31h-4.97zM672.1 510.5l2.49 -4.31h4.97l2.49 4.31l-2.49 4.31h-4.97zM672.1 519.1l2.49 -4.31h4.97l2.49 4.31l-2.49 4.31h-4.97zM679.6 368.3l2.49 -4.31h4.97l2.49 4.31l-2.49 4.31h-4.97zM679.6 437.2l2.49 -4.31h4.97l2.49 4.31l-2.49 4.31h-4.97zM679.6 471.7l2.49 -4.31h4.97l2.49 4.31l-2.49 4.31h-4.97zM679.6 514.8l2.49 -4.31h4.97l2.49 4.31l-2.49 4.31h-4.97zM687.0 476.0l2.49 -4.31h4.97l2.49 4.31l-2.49 4.31h-4.97zM694.5 316.5l2.49 -4.31h4.97l2.49 4.31l-2.49 4.31h-4.97zM694.5 333.8l2.49 -4.31h4.97l2.49 4.31l-2.49 4.31h-4.97zM709.4 394.1l2.49 -4.31h4.97l2.49 4.31l-2.49 4.31h-4.97zM709.4 488.9l2.49 -4.31h4.97l2.49 4.31l-2.49 4.31h-4.97zM716.9 363.9l2.49 -4.31h4.97l2.49 4.31l-2.49 4.31h-4.97zM716.9 407.1l2.49 -4.31h4.97l2.49 4.31l-2.49 4.31h-4.97zM716.9 432.9l2.49 -4.31h4.97l2.49 4.31l-2.49 4.31h-4.97zM716.9 545.0l2.49 -4.31h4.97l2.49 4.31l-2.49 4.31h-4.97zM724.3 566.5l2.49 -4.31h4.97l2.49 4.31l-2.49 4.31h-4.97zM731.8 372.6l2.49 -4.31h4.97l2.49 4.31l-2.49 4.31h-4.97zM731.8 527.7l2.49 -4.31h4.97l2.49 4.31l-2.49 4.31h-4.97zM731.8 562.2l2.49 -4.31h4.97l2.49 4.31l-2.49 4.31h-4.97zM739.3 514.8l2.49 -4.31h4.97l2.49 4.31l-2.49 4.31h-4.97zM739.3 523.4l2.49 -4.31h4.97l2.49 4.31l-2.49 4.31h-4.97zM754.2 506.2l2.49 -4.31h4.97l2.49 4.31l-2.49 4.31h-4.97zM761.6 398.4l2.49 -4.31h4.97l2.49 4.31l-2.49 4.31h-4.97zM761.6 415.7l2.49 -4.31h4.97l2.49 4.31l-2.49 4.31h-4.97zM769.1 514.8l2.49 -4.31h4.97l2.49 4.31l-2.49 4.31h-4.97zM776.6 243.3l2.49 -4.31h4.97l2.49 4.31l-2.49 4.31h-4.97zM776.6 381.2l2.49 -4.31h4.97l2.49 4.31l-2.49 4.31h-4.97zM776.6 415.7l2.49 -4.31h4.97l2.49 4.31l-2.49 4.31h-4.97zM776.6 510.5l2.49 -4.31h4.97l2.49 4.31l-2.49 4.31h-4.97zM784.0 178.6l2.49 -4.31h4.97l2.49 4.31l-2.49 4.31h-4.97zM791.5 519.1l2.49 -4.31h4.97l2.49 4.31l-2.49 4.31h-4.97zM798.9 178.6l2.49 -4.31h4.97l2.49 4.31l-2.49 4.31h-4.97zM798.9 488.9l2.49 -4.31h4.97l2.49 4.31l-2.49 4.31h-4.97zM798.9 506.2l2.49 -4.31h4.97l2.49 4.31l-2.49 4.31h-4.97zM806.4 303.6l2.49 -4.31h4.97l2.49 4.31l-2.49 4.31h-4.97zM680.9 831.5l2.43 -4.21h4.85l2.43 4.21l-2.43 4.21h-4.85zM680.9 840.0l2.43 -4.21h4.85l2.43 4.21l-2.43 4.21h-4.85zM688.2 717.9l2.43 -4.21h4.85l2.43 4.21l-2.43 4.21h-4.85zM702.8 709.5l2.43 -4.21h4.85l2.43 4.21l-2.43 4.21h-4.85zM710.1 713.7l2.43 -4.21h4.85l2.43 4.21l-2.43 4.21h-4.85zM710.1 730.5l2.43 -4.21h4.85l2.43 4.21l-2.43 4.21h-4.85zM724.6 688.4l2.43 -4.21h4.85l2.43 4.21l-2.43 4.21h-4.85zM731.9 835.8l2.43 -4.21h4.85l2.43 4.21l-2.43 4.21h-4.85zM731.9 861.0l2.43 -4.21h4.85l2.43 4.21l-2.43 4.21h-4.85zM746.4 692.6l2.43 -4.21h4.85l2.43 4.21l-2.43 4.21h-4.85zM775.6 844.2l2.43 -4.21h4.85l2.43 4.21l-2.43 4.21h-4.85zM782.8 848.4l2.43 -4.21h4.85l2.43 4.21l-2.43 4.21h-4.85z"/>
<path fill="#122768" d="M648.4 1045.8l2.54 -4.40h5.08l2.54 4.40l-2.54 4.40h-5.08zM648.4 1054.6l2.54 -4.40h5.08l2.54 4.40l-2.54 4.40h-5.08zM724.7 1037.0l2.54 -4.40h5.08l2.54 4.40l-2.54 4.40h-5.08zM762.8 997.4l2.54 -4.40h5.08l2.54 4.40l-2.54 4.40h-5.08zM785.6 949.0l2.54 -4.40h5.08l2.54 4.40l-2.54 4.40h-5.08zM793.3 1023.8l2.54 -4.40h5.08l2.54 4.40l-2.54 4.40h-5.08zM831.4 606.0l2.54 -4.40h5.08l2.54 4.40l-2.54 4.40h-5.08zM831.4 931.4l2.54 -4.40h5.08l2.54 4.40l-2.54 4.40h-5.08zM831.4 1001.8l2.54 -4.40h5.08l2.54 4.40l-2.54 4.40h-5.08zM839.0 619.2l2.54 -4.40h5.08l2.54 4.40l-2.54 4.40h-5.08zM839.0 935.8l2.54 -4.40h5.08l2.54 4.40l-2.54 4.40h-5.08zM846.6 597.2l2.54 -4.40h5.08l2.54 4.40l-2.54 4.40h-5.08zM854.2 566.5l2.54 -4.40h5.08l2.54 4.40l-2.54 4.40h-5.08zM854.2 575.2l2.54 -4.40h5.08l2.54 4.40l-2.54 4.40h-5.08zM854.2 628.0l2.54 -4.40h5.08l2.54 4.40l-2.54 4.40h-5.08zM854.2 636.8l2.54 -4.40h5.08l2.54 4.40l-2.54 4.40h-5.08zM854.2 645.6l2.54 -4.40h5.08l2.54 4.40l-2.54 4.40h-5.08zM854.2 927.0l2.54 -4.40h5.08l2.54 4.40l-2.54 4.40h-5.08zM861.9 562.1l2.54 -4.40h5.08l2.54 4.40l-2.54 4.40h-5.08zM861.9 597.2l2.54 -4.40h5.08l2.54 4.40l-2.54 4.40h-5.08zM861.9 623.6l2.54 -4.40h5.08l2.54 4.40l-2.54 4.40h-5.08zM861.9 650.0l2.54 -4.40h5.08l2.54 4.40l-2.54 4.40h-5.08zM861.9 658.8l2.54 -4.40h5.08l2.54 4.40l-2.54 4.40h-5.08zM861.9 667.6l2.54 -4.40h5.08l2.54 4.40l-2.54 4.40h-5.08zM861.9 676.4l2.54 -4.40h5.08l2.54 4.40l-2.54 4.40h-5.08zM861.9 694.0l2.54 -4.40h5.08l2.54 4.40l-2.54 4.40h-5.08zM861.9 702.8l2.54 -4.40h5.08l2.54 4.40l-2.54 4.40h-5.08zM861.9 834.7l2.54 -4.40h5.08l2.54 4.40l-2.54 4.40h-5.08zM861.9 940.2l2.54 -4.40h5.08l2.54 4.40l-2.54 4.40h-5.08zM869.5 654.4l2.54 -4.40h5.08l2.54 4.40l-2.54 4.40h-5.08zM869.5 672.0l2.54 -4.40h5.08l2.54 4.40l-2.54 4.40h-5.08zM869.5 698.4l2.54 -4.40h5.08l2.54 4.40l-2.54 4.40h-5.08zM869.5 918.2l2.54 -4.40h5.08l2.54 4.40l-2.54 4.40h-5.08zM869.5 927.0l2.54 -4.40h5.08l2.54 4.40l-2.54 4.40h-5.08zM869.5 944.6l2.54 -4.40h5.08l2.54 4.40l-2.54 4.40h-5.08zM877.1 562.1l2.54 -4.40h5.08l2.54 4.40l-2.54 4.40h-5.08zM877.1 597.2l2.54 -4.40h5.08l2.54 4.40l-2.54 4.40h-5.08zM877.1 799.5l2.54 -4.40h5.08l2.54 4.40l-2.54 4.40h-5.08zM877.1 834.7l2.54 -4.40h5.08l2.54 4.40l-2.54 4.40h-5.08zM877.1 922.6l2.54 -4.40h5.08l2.54 4.40l-2.54 4.40h-5.08zM884.7 557.7l2.54 -4.40h5.08l2.54 4.40l-2.54 4.40h-5.08zM892.4 588.4l2.54 -4.40h5.08l2.54 4.40l-2.54 4.40h-5.08zM892.4 597.2l2.54 -4.40h5.08l2.54 4.40l-2.54 4.40h-5.08zM892.4 623.6l2.54 -4.40h5.08l2.54 4.40l-2.54 4.40h-5.08zM900.0 601.6l2.54 -4.40h5.08l2.54 4.40l-2.54 4.40h-5.08zM900.0 610.4l2.54 -4.40h5.08l2.54 4.40l-2.54 4.40h-5.08zM900.0 619.2l2.54 -4.40h5.08l2.54 4.40l-2.54 4.40h-5.08zM900.0 628.0l2.54 -4.40h5.08l2.54 4.40l-2.54 4.40h-5.08zM900.0 645.6l2.54 -4.40h5.08l2.54 4.40l-2.54 4.40h-5.08zM900.0 997.4l2.54 -4.40h5.08l2.54 4.40l-2.54 4.40h-5.08zM907.6 579.6l2.54 -4.40h5.08l2.54 4.40l-2.54 4.40h-5.08zM907.6 597.2l2.54 -4.40h5.08l2.54 4.40l-2.54 4.40h-5.08zM907.6 623.6l2.54 -4.40h5.08l2.54 4.40l-2.54 4.40h-5.08zM907.6 641.2l2.54 -4.40h5.08l2.54 4.40l-2.54 4.40h-5.08zM907.6 650.0l2.54 -4.40h5.08l2.54 4.40l-2.54 4.40h-5.08zM907.6 658.8l2.54 -4.40h5.08l2.54 4.40l-2.54 4.40h-5.08zM907.6 685.2l2.54 -4.40h5.08l2.54 4.40l-2.54 4.40h-5.08zM907.6 869.9l2.54 -4.40h5.08l2.54 4.40l-2.54 4.40h-5.08zM915.2 672.0l2.54 -4.40h5.08l2.54 4.40l-2.54 4.40h-5.08zM915.2 786.3l2.54 -4.40h5.08l2.54 4.40l-2.54 4.40h-5.08zM922.8 676.4l2.54 -4.40h5.08l2.54 4.40l-2.54 4.40h-5.08zM922.8 685.2l2.54 -4.40h5.08l2.54 4.40l-2.54 4.40h-5.08zM930.5 680.8l2.54 -4.40h5.08l2.54 4.40l-2.54 4.40h-5.08zM930.5 856.7l2.54 -4.40h5.08l2.54 4.40l-2.54 4.40h-5.08zM945.7 883.1l2.54 -4.40h5.08l2.54 4.40l-2.54 4.40h-5.08zM945.7 971.0l2.54 -4.40h5.08l2.54 4.40l-2.54 4.40h-5.08zM953.3 905.1l2.54 -4.40h5.08l2.54 4.40l-2.54 4.40h-5.08zM961.0 768.7l2.54 -4.40h5.08l2.54 4.40l-2.54 4.40h-5.08zM968.6 676.4l2.54 -4.40h5.08l2.54 4.40l-2.54 4.40h-5.08zM968.6 685.2l2.54 -4.40h5.08l2.54 4.40l-2.54 4.40h-5.08zM968.6 764.3l2.54 -4.40h5.08l2.54 4.40l-2.54 4.40h-5.08zM968.6 931.4l2.54 -4.40h5.08l2.54 4.40l-2.54 4.40h-5.08zM968.6 966.6l2.54 -4.40h5.08l2.54 4.40l-2.54 4.40h-5.08zM976.2 680.8l2.54 -4.40h5.08l2.54 4.40l-2.54 4.40h-5.08zM976.2 698.4l2.54 -4.40h5.08l2.54 4.40l-2.54 4.40h-5.08zM976.2 707.2l2.54 -4.40h5.08l2.54 4.40l-2.54 4.40h-5.08zM976.2 900.7l2.54 -4.40h5.08l2.54 4.40l-2.54 4.40h-5.08zM976.2 944.6l2.54 -4.40h5.08l2.54 4.40l-2.54 4.40h-5.08zM983.8 641.2l2.54 -4.40h5.08l2.54 4.40l-2.54 4.40h-5.08zM983.8 667.6l2.54 -4.40h5.08l2.54 4.40l-2.54 4.40h-5.08zM983.8 702.8l2.54 -4.40h5.08l2.54 4.40l-2.54 4.40h-5.08zM983.8 755.5l2.54 -4.40h5.08l2.54 4.40l-2.54 4.40h-5.08zM983.8 905.1l2.54 -4.40h5.08l2.54 4.40l-2.54 4.40h-5.08zM991.4 680.8l2.54 -4.40h5.08l2.54 4.40l-2.54 4.40h-5.08zM991.4 698.4l2.54 -4.40h5.08l2.54 4.40l-2.54 4.40h-5.08zM991.4 707.2l2.54 -4.40h5.08l2.54 4.40l-2.54 4.40h-5.08zM991.4 742.4l2.54 -4.40h5.08l2.54 4.40l-2.54 4.40h-5.08zM999.1 641.2l2.54 -4.40h5.08l2.54 4.40l-2.54 4.40h-5.08zM999.1 694.0l2.54 -4.40h5.08l2.54 4.40l-2.54 4.40h-5.08zM999.1 711.6l2.54 -4.40h5.08l2.54 4.40l-2.54 4.40h-5.08zM999.1 729.2l2.54 -4.40h5.08l2.54 4.40l-2.54 4.40h-5.08zM1006.7 689.6l2.54 -4.40h5.08l2.54 4.40l-2.54 4.40h-5.08zM1006.7 909.5l2.54 -4.40h5.08l2.54 4.40l-2.54 4.40h-5.08zM1014.3 711.6l2.54 -4.40h5.08l2.54 4.40l-2.54 4.40h-5.08zM1014.3 738.0l2.54 -4.40h5.08l2.54 4.40l-2.54 4.40h-5.08zM1014.3 746.7l2.54 -4.40h5.08l2.54 4.40l-2.54 4.40h-5.08zM1021.9 689.6l2.54 -4.40h5.08l2.54 4.40l-2.54 4.40h-5.08zM1021.9 751.1l2.54 -4.40h5.08l2.54 4.40l-2.54 4.40h-5.08zM1021.9 768.7l2.54 -4.40h5.08l2.54 4.40l-2.54 4.40h-5.08zM1029.5 667.6l2.54 -4.40h5.08l2.54 4.40l-2.54 4.40h-5.08zM1029.5 685.2l2.54 -4.40h5.08l2.54 4.40l-2.54 4.40h-5.08zM1029.5 694.0l2.54 -4.40h5.08l2.54 4.40l-2.54 4.40h-5.08zM1029.5 755.5l2.54 -4.40h5.08l2.54 4.40l-2.54 4.40h-5.08zM1029.5 764.3l2.54 -4.40h5.08l2.54 4.40l-2.54 4.40h-5.08zM1029.5 773.1l2.54 -4.40h5.08l2.54 4.40l-2.54 4.40h-5.08zM1029.5 781.9l2.54 -4.40h5.08l2.54 4.40l-2.54 4.40h-5.08zM1029.5 790.7l2.54 -4.40h5.08l2.54 4.40l-2.54 4.40h-5.08zM1029.5 799.5l2.54 -4.40h5.08l2.54 4.40l-2.54 4.40h-5.08zM1029.5 817.1l2.54 -4.40h5.08l2.54 4.40l-2.54 4.40h-5.08zM1029.5 834.7l2.54 -4.40h5.08l2.54 4.40l-2.54 4.40h-5.08zM1029.5 905.1l2.54 -4.40h5.08l2.54 4.40l-2.54 4.40h-5.08zM1037.2 689.6l2.54 -4.40h5.08l2.54 4.40l-2.54 4.40h-5.08zM1037.2 751.1l2.54 -4.40h5.08l2.54 4.40l-2.54 4.40h-5.08zM1037.2 759.9l2.54 -4.40h5.08l2.54 4.40l-2.54 4.40h-5.08zM1037.2 768.7l2.54 -4.40h5.08l2.54 4.40l-2.54 4.40h-5.08zM1037.2 777.5l2.54 -4.40h5.08l2.54 4.40l-2.54 4.40h-5.08zM1037.2 795.1l2.54 -4.40h5.08l2.54 4.40l-2.54 4.40h-5.08zM1037.2 803.9l2.54 -4.40h5.08l2.54 4.40l-2.54 4.40h-5.08zM1037.2 900.7l2.54 -4.40h5.08l2.54 4.40l-2.54 4.40h-5.08zM1037.2 971.0l2.54 -4.40h5.08l2.54 4.40l-2.54 4.40h-5.08zM1044.8 694.0l2.54 -4.40h5.08l2.54 4.40l-2.54 4.40h-5.08zM1044.8 702.8l2.54 -4.40h5.08l2.54 4.40l-2.54 4.40h-5.08zM1044.8 711.6l2.54 -4.40h5.08l2.54 4.40l-2.54 4.40h-5.08zM1044.8 729.2l2.54 -4.40h5.08l2.54 4.40l-2.54 4.40h-5.08zM1044.8 764.3l2.54 -4.40h5.08l2.54 4.40l-2.54 4.40h-5.08zM1044.8 781.9l2.54 -4.40h5.08l2.54 4.40l-2.54 4.40h-5.08zM1044.8 790.7l2.54 -4.40h5.08l2.54 4.40l-2.54 4.40h-5.08zM1044.8 799.5l2.54 -4.40h5.08l2.54 4.40l-2.54 4.40h-5.08zM1044.8 869.9l2.54 -4.40h5.08l2.54 4.40l-2.54 4.40h-5.08zM1052.4 707.2l2.54 -4.40h5.08l2.54 4.40l-2.54 4.40h-5.08zM1052.4 716.0l2.54 -4.40h5.08l2.54 4.40l-2.54 4.40h-5.08zM1052.4 724.8l2.54 -4.40h5.08l2.54 4.40l-2.54 4.40h-5.08zM1052.4 768.7l2.54 -4.40h5.08l2.54 4.40l-2.54 4.40h-5.08zM1052.4 777.5l2.54 -4.40h5.08l2.54 4.40l-2.54 4.40h-5.08zM1052.4 786.3l2.54 -4.40h5.08l2.54 4.40l-2.54 4.40h-5.08zM1052.4 900.7l2.54 -4.40h5.08l2.54 4.40l-2.54 4.40h-5.08zM1052.4 971.0l2.54 -4.40h5.08l2.54 4.40l-2.54 4.40h-5.08zM1060.0 720.4l2.54 -4.40h5.08l2.54 4.40l-2.54 4.40h-5.08zM1060.0 729.2l2.54 -4.40h5.08l2.54 4.40l-2.54 4.40h-5.08zM1060.0 773.1l2.54 -4.40h5.08l2.54 4.40l-2.54 4.40h-5.08zM1060.0 781.9l2.54 -4.40h5.08l2.54 4.40l-2.54 4.40h-5.08zM1060.0 905.1l2.54 -4.40h5.08l2.54 4.40l-2.54 4.40h-5.08zM1067.7 768.7l2.54 -4.40h5.08l2.54 4.40l-2.54 4.40h-5.08zM1067.7 803.9l2.54 -4.40h5.08l2.54 4.40l-2.54 4.40h-5.08zM1067.7 909.5l2.54 -4.40h5.08l2.54 4.40l-2.54 4.40h-5.08zM1075.3 905.1l2.54 -4.40h5.08l2.54 4.40l-2.54 4.40h-5.08zM1082.9 751.1l2.54 -4.40h5.08l2.54 4.40l-2.54 4.40h-5.08zM1090.5 755.5l2.54 -4.40h5.08l2.54 4.40l-2.54 4.40h-5.08zM1090.5 905.1l2.54 -4.40h5.08l2.54 4.40l-2.54 4.40h-5.08zM1098.1 751.1l2.54 -4.40h5.08l2.54 4.40l-2.54 4.40h-5.08zM1098.1 874.3l2.54 -4.40h5.08l2.54 4.40l-2.54 4.40h-5.08zM1098.1 900.7l2.54 -4.40h5.08l2.54 4.40l-2.54 4.40h-5.08zM1098.1 944.6l2.54 -4.40h5.08l2.54 4.40l-2.54 4.40h-5.08zM1098.1 962.2l2.54 -4.40h5.08l2.54 4.40l-2.54 4.40h-5.08zM1105.8 949.0l2.54 -4.40h5.08l2.54 4.40l-2.54 4.40h-5.08zM1121.0 834.7l2.54 -4.40h5.08l2.54 4.40l-2.54 4.40h-5.08zM1128.6 777.5l2.54 -4.40h5.08l2.54 4.40l-2.54 4.40h-5.08zM1136.3 773.1l2.54 -4.40h5.08l2.54 4.40l-2.54 4.40h-5.08zM1136.3 781.9l2.54 -4.40h5.08l2.54 4.40l-2.54 4.40h-5.08zM1136.3 790.7l2.54 -4.40h5.08l2.54 4.40l-2.54 4.40h-5.08zM1136.3 843.5l2.54 -4.40h5.08l2.54 4.40l-2.54 4.40h-5.08zM1136.3 931.4l2.54 -4.40h5.08l2.54 4.40l-2.54 4.40h-5.08zM1143.9 786.3l2.54 -4.40h5.08l2.54 4.40l-2.54 4.40h-5.08zM1143.9 795.1l2.54 -4.40h5.08l2.54 4.40l-2.54 4.40h-5.08zM552.8 320.9l2.49 -4.31h4.97l2.49 4.31l-2.49 4.31h-4.97zM552.8 329.5l2.49 -4.31h4.97l2.49 4.31l-2.49 4.31h-4.97zM597.5 372.6l2.49 -4.31h4.97l2.49 4.31l-2.49 4.31h-4.97zM612.4 407.1l2.49 -4.31h4.97l2.49 4.31l-2.49 4.31h-4.97zM612.4 415.7l2.49 -4.31h4.97l2.49 4.31l-2.49 4.31h-4.97zM642.3 381.2l2.49 -4.31h4.97l2.49 4.31l-2.49 4.31h-4.97zM642.3 432.9l2.49 -4.31h4.97l2.49 4.31l-2.49 4.31h-4.97zM642.3 484.6l2.49 -4.31h4.97l2.49 4.31l-2.49 4.31h-4.97zM642.3 501.9l2.49 -4.31h4.97l2.49 4.31l-2.49 4.31h-4.97zM642.3 519.1l2.49 -4.31h4.97l2.49 4.31l-2.49 4.31h-4.97zM649.7 264.8l2.49 -4.31h4.97l2.49 4.31l-2.49 4.31h-4.97zM649.7 273.4l2.49 -4.31h4.97l2.49 4.31l-2.49 4.31h-4.97zM649.7 368.3l2.49 -4.31h4.97l2.49 4.31l-2.49 4.31h-4.97zM649.7 385.5l2.49 -4.31h4.97l2.49 4.31l-2.49 4.31h-4.97zM649.7 411.4l2.49 -4.31h4.97l2.49 4.31l-2.49 4.31h-4.97zM649.7 420.0l2.49 -4.31h4.97l2.49 4.31l-2.49 4.31h-4.97zM649.7 480.3l2.49 -4.31h4.97l2.49 4.31l-2.49 4.31h-4.97zM657.2 251.9l2.49 -4.31h4.97l2.49 4.31l-2.49 4.31h-4.97zM657.2 303.6l2.49 -4.31h4.97l2.49 4.31l-2.49 4.31h-4.97zM664.7 307.9l2.49 -4.31h4.97l2.49 4.31l-2.49 4.31h-4.97zM664.7 420.0l2.49 -4.31h4.97l2.49 4.31l-2.49 4.31h-4.97zM672.1 277.8l2.49 -4.31h4.97l2.49 4.31l-2.49 4.31h-4.97zM672.1 493.2l2.49 -4.31h4.97l2.49 4.31l-2.49 4.31h-4.97zM679.6 230.3l2.49 -4.31h4.97l2.49 4.31l-2.49 4.31h-4.97zM679.6 299.3l2.49 -4.31h4.97l2.49 4.31l-2.49 4.31h-4.97zM679.6 376.9l2.49 -4.31h4.97l2.49 4.31l-2.49 4.31h-4.97zM679.6 411.4l2.49 -4.31h4.97l2.49 4.31l-2.49 4.31h-4.97zM679.6 463.1l2.49 -4.31h4.97l2.49 4.31l-2.49 4.31h-4.97zM679.6 497.6l2.49 -4.31h4.97l2.49 4.31l-2.49 4.31h-4.97zM679.6 523.4l2.49 -4.31h4.97l2.49 4.31l-2.49 4.31h-4.97zM687.0 234.6l2.49 -4.31h4.97l2.49 4.31l-2.49 4.31h-4.97zM687.0 389.8l2.49 -4.31h4.97l2.49 4.31l-2.49 4.31h-4.97zM694.5 247.6l2.49 -4.31h4.97l2.49 4.31l-2.49 4.31h-4.97zM694.5 264.8l2.49 -4.31h4.97l2.49 4.31l-2.49 4.31h-4.97zM694.5 307.9l2.49 -4.31h4.97l2.49 4.31l-2.49 4.31h-4.97zM694.5 368.3l2.49 -4.31h4.97l2.49 4.31l-2.49 4.31h-4.97zM694.5 385.5l2.49 -4.31h4.97l2.49 4.31l-2.49 4.31h-4.97zM694.5 437.2l2.49 -4.31h4.97l2.49 4.31l-2.49 4.31h-4.97zM694.5 497.6l2.49 -4.31h4.97l2.49 4.31l-2.49 4.31h-4.97zM702.0 381.2l2.49 -4.31h4.97l2.49 4.31l-2.49 4.31h-4.97zM702.0 398.4l2.49 -4.31h4.97l2.49 4.31l-2.49 4.31h-4.97zM702.0 458.8l2.49 -4.31h4.97l2.49 4.31l-2.49 4.31h-4.97zM702.0 510.5l2.49 -4.31h4.97l2.49 4.31l-2.49 4.31h-4.97zM709.4 368.3l2.49 -4.31h4.97l2.49 4.31l-2.49 4.31h-4.97zM709.4 385.5l2.49 -4.31h4.97l2.49 4.31l-2.49 4.31h-4.97zM709.4 532.0l2.49 -4.31h4.97l2.49 4.31l-2.49 4.31h-4.97zM716.9 424.3l2.49 -4.31h4.97l2.49 4.31l-2.49 4.31h-4.97zM716.9 519.1l2.49 -4.31h4.97l2.49 4.31l-2.49 4.31h-4.97zM724.3 437.2l2.49 -4.31h4.97l2.49 4.31l-2.49 4.31h-4.97zM731.8 338.1l2.49 -4.31h4.97l2.49 4.31l-2.49 4.31h-4.97zM731.8 441.5l2.49 -4.31h4.97l2.49 4.31l-2.49 4.31h-4.97zM731.8 570.8l2.49 -4.31h4.97l2.49 4.31l-2.49 4.31h-4.97zM746.7 398.4l2.49 -4.31h4.97l2.49 4.31l-2.49 4.31h-4.97zM754.2 256.2l2.49 -4.31h4.97l2.49 4.31l-2.49 4.31h-4.97zM754.2 497.6l2.49 -4.31h4.97l2.49 4.31l-2.49 4.31h-4.97zM754.2 523.4l2.49 -4.31h4.97l2.49 4.31l-2.49 4.31h-4.97zM754.2 549.3l2.49 -4.31h4.97l2.49 4.31l-2.49 4.31h-4.97zM761.6 432.9l2.49 -4.31h4.97l2.49 4.31l-2.49 4.31h-4.97zM761.6 510.5l2.49 -4.31h4.97l2.49 4.31l-2.49 4.31h-4.97zM761.6 519.1l2.49 -4.31h4.97l2.49 4.31l-2.49 4.31h-4.97zM761.6 536.3l2.49 -4.31h4.97l2.49 4.31l-2.49 4.31h-4.97zM769.1 394.1l2.49 -4.31h4.97l2.49 4.31l-2.49 4.31h-4.97zM769.1 402.7l2.49 -4.31h4.97l2.49 4.31l-2.49 4.31h-4.97zM769.1 428.6l2.49 -4.31h4.97l2.49 4.31l-2.49 4.31h-4.97zM769.1 488.9l2.49 -4.31h4.97l2.49 4.31l-2.49 4.31h-4.97zM769.1 497.6l2.49 -4.31h4.97l2.49 4.31l-2.49 4.31h-4.97zM769.1 532.0l2.49 -4.31h4.97l2.49 4.31l-2.49 4.31h-4.97zM776.6 389.8l2.49 -4.31h4.97l2.49 4.31l-2.49 4.31h-4.97zM776.6 424.3l2.49 -4.31h4.97l2.49 4.31l-2.49 4.31h-4.97zM776.6 493.2l2.49 -4.31h4.97l2.49 4.31l-2.49 4.31h-4.97zM776.6 501.9l2.49 -4.31h4.97l2.49 4.31l-2.49 4.31h-4.97zM776.6 519.1l2.49 -4.31h4.97l2.49 4.31l-2.49 4.31h-4.97zM776.6 527.7l2.49 -4.31h4.97l2.49 4.31l-2.49 4.31h-4.97zM784.0 402.7l2.49 -4.31h4.97l2.49 4.31l-2.49 4.31h-4.97zM784.0 420.0l2.49 -4.31h4.97l2.49 4.31l-2.49 4.31h-4.97zM784.0 497.6l2.49 -4.31h4.97l2.49 4.31l-2.49 4.31h-4.97zM784.0 514.8l2.49 -4.31h4.97l2.49 4.31l-2.49 4.31h-4.97zM784.0 523.4l2.49 -4.31h4.97l2.49 4.31l-2.49 4.31h-4.97zM791.5 139.8l2.49 -4.31h4.97l2.49 4.31l-2.49 4.31h-4.97zM791.5 510.5l2.49 -4.31h4.97l2.49 4.31l-2.49 4.31h-4.97zM798.9 514.8l2.49 -4.31h4.97l2.49 4.31l-2.49 4.31h-4.97zM806.4 165.7l2.49 -4.31h4.97l2.49 4.31l-2.49 4.31h-4.97zM806.4 174.3l2.49 -4.31h4.97l2.49 4.31l-2.49 4.31h-4.97zM806.4 501.9l2.49 -4.31h4.97l2.49 4.31l-2.49 4.31h-4.97zM821.3 139.8l2.49 -4.31h4.97l2.49 4.31l-2.49 4.31h-4.97zM821.3 303.6l2.49 -4.31h4.97l2.49 4.31l-2.49 4.31h-4.97zM828.8 376.9l2.49 -4.31h4.97l2.49 4.31l-2.49 4.31h-4.97zM828.8 497.6l2.49 -4.31h4.97l2.49 4.31l-2.49 4.31h-4.97zM644.5 844.2l2.43 -4.21h4.85l2.43 4.21l-2.43 4.21h-4.85zM666.4 831.5l2.43 -4.21h4.85l2.43 4.21l-2.43 4.21h-4.85zM680.9 730.5l2.43 -4.21h4.85l2.43 4.21l-2.43 4.21h-4.85zM688.2 726.3l2.43 -4.21h4.85l2.43 4.21l-2.43 4.21h-4.85zM688.2 835.8l2.43 -4.21h4.85l2.43 4.21l-2.43 4.21h-4.85zM695.5 722.1l2.43 -4.21h4.85l2.43 4.21l-2.43 4.21h-4.85zM695.5 730.5l2.43 -4.21h4.85l2.43 4.21l-2.43 4.21h-4.85zM702.8 692.6l2.43 -4.21h4.85l2.43 4.21l-2.43 4.21h-4.85zM702.8 717.9l2.43 -4.21h4.85l2.43 4.21l-2.43 4.21h-4.85zM702.8 726.3l2.43 -4.21h4.85l2.43 4.21l-2.43 4.21h-4.85zM702.8 743.1l2.43 -4.21h4.85l2.43 4.21l-2.43 4.21h-4.85zM702.8 751.6l2.43 -4.21h4.85l2.43 4.21l-2.43 4.21h-4.85zM702.8 760.0l2.43 -4.21h4.85l2.43 4.21l-2.43 4.21h-4.85zM702.8 768.4l2.43 -4.21h4.85l2.43 4.21l-2.43 4.21h-4.85zM702.8 793.7l2.43 -4.21h4.85l2.43 4.21l-2.43 4.21h-4.85zM702.8 844.2l2.43 -4.21h4.85l2.43 4.21l-2.43 4.21h-4.85zM710.1 747.4l2.43 -4.21h4.85l2.43 4.21l-2.43 4.21h-4.85zM710.1 755.8l2.43 -4.21h4.85l2.43 4.21l-2.43 4.21h-4.85zM710.1 764.2l2.43 -4.21h4.85l2.43 4.21l-2.43 4.21h-4.85zM717.3 810.5l2.43 -4.21h4.85l2.43 4.21l-2.43 4.21h-4.85zM717.3 835.8l2.43 -4.21h4.85l2.43 4.21l-2.43 4.21h-4.85zM717.3 844.2l2.43 -4.21h4.85l2.43 4.21l-2.43 4.21h-4.85zM717.3 852.6l2.43 -4.21h4.85l2.43 4.21l-2.43 4.21h-4.85zM724.6 797.9l2.43 -4.21h4.85l2.43 4.21l-2.43 4.21h-4.85zM724.6 806.3l2.43 -4.21h4.85l2.43 4.21l-2.43 4.21h-4.85zM724.6 840.0l2.43 -4.21h4.85l2.43 4.21l-2.43 4.21h-4.85zM731.9 692.6l2.43 -4.21h4.85l2.43 4.21l-2.43 4.21h-4.85zM739.2 688.4l2.43 -4.21h4.85l2.43 4.21l-2.43 4.21h-4.85zM739.2 730.5l2.43 -4.21h4.85l2.43 4.21l-2.43 4.21h-4.85zM739.2 848.4l2.43 -4.21h4.85l2.43 4.21l-2.43 4.21h-4.85zM746.4 684.2l2.43 -4.21h4.85l2.43 4.21l-2.43 4.21h-4.85zM746.4 844.2l2.43 -4.21h4.85l2.43 4.21l-2.43 4.21h-4.85zM746.4 852.6l2.43 -4.21h4.85l2.43 4.21l-2.43 4.21h-4.85zM746.4 861.0l2.43 -4.21h4.85l2.43 4.21l-2.43 4.21h-4.85zM753.7 840.0l2.43 -4.21h4.85l2.43 4.21l-2.43 4.21h-4.85zM753.7 856.8l2.43 -4.21h4.85l2.43 4.21l-2.43 4.21h-4.85zM761.0 701.0l2.43 -4.21h4.85l2.43 4.21l-2.43 4.21h-4.85zM761.0 717.9l2.43 -4.21h4.85l2.43 4.21l-2.43 4.21h-4.85zM761.0 852.6l2.43 -4.21h4.85l2.43 4.21l-2.43 4.21h-4.85zM761.0 861.0l2.43 -4.21h4.85l2.43 4.21l-2.43 4.21h-4.85zM768.3 840.0l2.43 -4.21h4.85l2.43 4.21l-2.43 4.21h-4.85zM775.6 835.8l2.43 -4.21h4.85l2.43 4.21l-2.43 4.21h-4.85zM775.6 852.6l2.43 -4.21h4.85l2.43 4.21l-2.43 4.21h-4.85zM782.8 840.0l2.43 -4.21h4.85l2.43 4.21l-2.43 4.21h-4.85z"/>
</g>
<g stroke="#f3d712" stroke-width="1.5" fill="none" stroke-linecap="round">
<line x1="490.5" y1="438.8" x2="874.5" y2="654.5"/>
<line x1="990" y1="326.1" x2="781.5" y2="467.5"/>
<line x1="1114.5" y1="611" x2="1011" y2="689.5"/>
<line x1="539.8" y1="696.2" x2="722.2" y2="860"/>
<line x1="1150.5" y1="972.8" x2="1019.5" y2="913.5"/>
</g>
<g fill="#ffd900">
<circle cx="874.5" cy="654.5" r="3.7"/><circle cx="751.5" cy="450" r="3.7"/><circle cx="781.5" cy="467.5" r="3.7"/>
<circle cx="958.2" cy="562.4" r="3.7"/><circle cx="912.5" cy="711.6" r="3.7"/><circle cx="1011" cy="689.5" r="3.7"/>
<circle cx="722.2" cy="860.2" r="3.7"/><circle cx="737" cy="852" r="3.7"/><circle cx="890" cy="910" r="3.7"/>
<circle cx="1019.5" cy="913.5" r="3.7"/><circle cx="1042" cy="910" r="3.7"/>
</g>
</svg>
<div id="title" class="abs">River and coastal<br>flood risk map</div>
<div id="legtxt" class="abs">Percentage of properties subject to<br>coastal and river flood risk, future<br>climate change scenario.</div>

<div class="box" style="left:243.5px;top:386.5px;width:247.5px;height:81px;"><div class="h" style="height:36px;"><span style="left:10.5px;top:4.5px;transform:scaleX(1.116);">Morecambe</span></div><div class="v" style="left:13.5px;top:44.5px;">34 pp increase</div></div>
<div class="box" style="left:989.5px;top:284.5px;width:247px;height:81px;"><div class="h" style="height:36px;"><span style="left:10.5px;top:4.5px;transform:scaleX(1.052);">Edinburgh</span></div><div class="v" style="left:12px;top:44.5px;">6 pp increase</div></div>
<div class="box" style="left:1114px;top:577px;width:247px;height:81px;"><div class="h" style="height:36px;"><span style="left:9px;top:4.5px;transform:scaleX(1.080);">Humber Estuary</span></div><div class="v" style="left:12.5px;top:44.5px;">5 pp increase</div></div>
<div class="box" style="left:293px;top:644.5px;width:247px;height:81px;"><div class="h" style="height:36px;"><span style="left:9px;top:4.5px;transform:scaleX(1.100);">Port Talbot</span></div><div class="v" style="left:12.5px;top:44.5px;">21 pp increase</div></div>
<div class="box" style="left:1150px;top:948px;width:293px;height:80px;"><div class="h" style="height:35px;"><div style="position:absolute;left:10.7px;top:0;width:91.6px;height:35px;background:#949c0f;"></div><span style="left:10.5px;top:3.3px;transform:scaleX(1.087);">Staines-upon-Thames</span></div><div class="v" style="left:11px;top:42.7px;">14 pp increase</div></div>

<div class="abs" style="left:77px;top:990.5px;width:397px;height:46.5px;box-sizing:border-box;border:1px solid #8a8f9c;border-radius:2px;background:linear-gradient(to right,#e9edf8 0%,#c5cfec 5%,#93a4d6 12%,#647dc2 20%,#4260b0 30%,#314fa6 40%,#2b479c 55%,#27397a 72%,#28356a 85.5%,#28356a 85.6%,#13296b 85.7%,#13296b 100%);"></div>
<div class="abs" style="left:416.5px;top:985px;width:1px;height:63px;background:#777;"></div>
<div class="abs" style="left:77px;top:1037px;width:1px;height:11px;background:#777;"></div>
<div class="abs" style="left:473px;top:1037px;width:1px;height:11px;background:#777;"></div>
<div class="tick" style="left:78px;top:1055.5px;">0</div>
<div class="tick" style="left:416.5px;top:1055.5px;">15</div>
<div class="tick" style="left:473.5px;top:1055.5px;">100</div>
<div class="abs" style="left:848px;top:1054px;font-family:'Liberation Serif',serif;font-size:23px;letter-spacing:0.12px;color:#222;">*pp = percentage point</div>
<div class="abs" style="left:77.5px;top:1128px;font-size:19.3px;color:#111;transform:scaleX(1.08);transform-origin:0 0;">Aviva plc</div>
<div class="abs" style="left:1133px;top:1128.5px;font-size:19.3px;color:#111;">16</div>
</body></html>
